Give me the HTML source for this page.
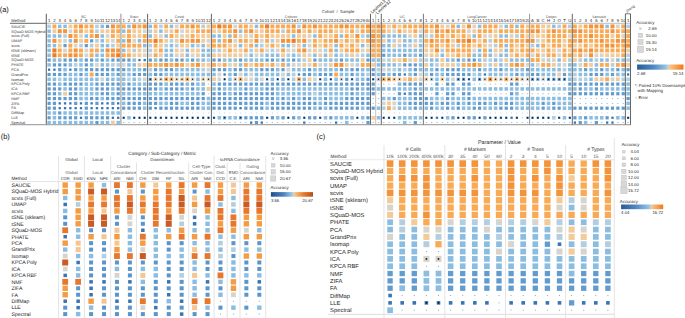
<!DOCTYPE html>
<html><head><meta charset="utf-8"><style>
html,body{margin:0;padding:0;background:#fff;width:685px;height:318px;overflow:hidden}
svg{display:block}
text{font-family:"Liberation Sans", sans-serif;text-rendering:geometricPrecision}
</style></head><body>
<svg width="685" height="318" viewBox="0 0 685 318" font-family='"Liberation Sans", sans-serif'>
<rect width="685" height="318" fill="#fff"/>
<text x="-0.3" y="12.2" font-size="7.5" fill="#111" text-anchor="start" >(a)</text>
<line x1="46.3" y1="23.3" x2="631" y2="23.3" stroke="#b4b4b4" stroke-width="0.9"/>
<line x1="10" y1="23.3" x2="46.3" y2="23.3" stroke="#555" stroke-width="0.9"/>
<line x1="10" y1="124.6" x2="631" y2="124.6" stroke="#a8a8a8" stroke-width="1.4"/>
<text x="11.3" y="22.4" font-size="4.2" fill="#333" text-anchor="start" >Method</text>
<text x="11.3" y="27.7" font-size="3.75" fill="#333" text-anchor="start" >SAUCIE</text>
<text x="11.3" y="32.51" font-size="3.75" fill="#333" text-anchor="start" >SQuaD-MOS Hybrid</text>
<text x="11.3" y="37.32" font-size="3.75" fill="#333" text-anchor="start" >scvis (Full)</text>
<text x="11.3" y="42.13" font-size="3.75" fill="#333" text-anchor="start" >UMAP</text>
<text x="11.3" y="46.94" font-size="3.75" fill="#333" text-anchor="start" >scvis</text>
<text x="11.3" y="51.75" font-size="3.75" fill="#333" text-anchor="start" >tSNE (sklearn)</text>
<text x="11.3" y="56.56" font-size="3.75" fill="#333" text-anchor="start" >tSNE</text>
<text x="11.3" y="61.37" font-size="3.75" fill="#333" text-anchor="start" >SQuaD-MOS</text>
<text x="11.3" y="66.18" font-size="3.75" fill="#333" text-anchor="start" >PHATE</text>
<text x="11.3" y="70.99" font-size="3.75" fill="#333" text-anchor="start" >PCA</text>
<text x="11.3" y="75.8" font-size="3.75" fill="#333" text-anchor="start" >GrandPrix</text>
<text x="11.3" y="80.61" font-size="3.75" fill="#333" text-anchor="start" >Isomap</text>
<text x="11.3" y="85.42" font-size="3.75" fill="#333" text-anchor="start" >KPCA Poly</text>
<text x="11.3" y="90.23" font-size="3.75" fill="#333" text-anchor="start" >ICA</text>
<text x="11.3" y="95.04" font-size="3.75" fill="#333" text-anchor="start" >KPCA RBF</text>
<text x="11.3" y="99.85" font-size="3.75" fill="#333" text-anchor="start" >NMF</text>
<text x="11.3" y="104.66" font-size="3.75" fill="#333" text-anchor="start" >ZIFA</text>
<text x="11.3" y="109.47" font-size="3.75" fill="#333" text-anchor="start" >FA</text>
<text x="11.3" y="114.28" font-size="3.75" fill="#333" text-anchor="start" >DiffMap</text>
<text x="11.3" y="119.09" font-size="3.75" fill="#333" text-anchor="start" >LLE</text>
<text x="11.3" y="123.9" font-size="3.75" fill="#333" text-anchor="start" >Spectral</text>
<text x="49.1" y="22.2" font-size="4.3" fill="#222" text-anchor="middle" >1</text>
<rect x="47.3" y="24.6" width="3.6" height="3.6" fill="#b3cfdf"/>
<rect x="47.35" y="29.46" width="3.5" height="3.5" fill="#8bbde0"/>
<rect x="47.35" y="34.27" width="3.5" height="3.5" fill="#8bbde0"/>
<rect x="47.35" y="39.08" width="3.5" height="3.5" fill="#8bbde0"/>
<rect x="47.35" y="43.89" width="3.5" height="3.5" fill="#8bbde0"/>
<rect x="47.35" y="48.7" width="3.5" height="3.5" fill="#8bbde0"/>
<rect x="47.35" y="53.51" width="3.5" height="3.5" fill="#8bbde0"/>
<rect x="47.5" y="58.47" width="3.2" height="3.2" fill="#629bce"/>
<rect x="47.35" y="63.13" width="3.5" height="3.5" fill="#8bbde0"/>
<rect x="47.95" y="68.54" width="2.3" height="2.3" fill="#3a74b2"/>
<rect x="47.5" y="72.9" width="3.2" height="3.2" fill="#629bce"/>
<rect x="47.35" y="77.56" width="3.5" height="3.5" fill="#8bbde0"/>
<rect x="47.5" y="82.52" width="3.2" height="3.2" fill="#629bce"/>
<rect x="47.5" y="87.33" width="3.2" height="3.2" fill="#629bce"/>
<rect x="47.5" y="92.14" width="3.2" height="3.2" fill="#629bce"/>
<rect x="47.5" y="96.95" width="3.2" height="3.2" fill="#629bce"/>
<rect x="47.5" y="101.76" width="3.2" height="3.2" fill="#629bce"/>
<rect x="47.5" y="106.57" width="3.2" height="3.2" fill="#629bce"/>
<rect x="47.35" y="111.23" width="3.5" height="3.5" fill="#8bbde0"/>
<rect x="47.5" y="116.19" width="3.2" height="3.2" fill="#629bce"/>
<rect x="47.35" y="120.85" width="3.5" height="3.5" fill="#8bbde0"/>
<text x="54.41" y="22.2" font-size="4.3" fill="#222" text-anchor="middle" >2</text>
<rect x="52.46" y="24.45" width="3.9" height="3.9" fill="#f8aa55"/>
<rect x="52.52" y="29.31" width="3.8" height="3.8" fill="#f2cb99"/>
<rect x="52.66" y="34.27" width="3.5" height="3.5" fill="#8bbde0"/>
<rect x="52.41" y="38.83" width="4" height="4" fill="#f3933a"/>
<rect x="52.66" y="43.89" width="3.5" height="3.5" fill="#8bbde0"/>
<rect x="52.37" y="48.4" width="4.1" height="4.1" fill="#ec7d26"/>
<rect x="52.37" y="53.21" width="4.1" height="4.1" fill="#ec7d26"/>
<rect x="52.66" y="58.32" width="3.5" height="3.5" fill="#8bbde0"/>
<rect x="52.81" y="63.28" width="3.2" height="3.2" fill="#629bce"/>
<rect x="53.27" y="68.54" width="2.3" height="2.3" fill="#3a74b2"/>
<rect x="52.81" y="72.9" width="3.2" height="3.2" fill="#629bce"/>
<rect x="52.66" y="77.56" width="3.5" height="3.5" fill="#8bbde0"/>
<rect x="52.81" y="82.52" width="3.2" height="3.2" fill="#629bce"/>
<rect x="52.81" y="87.33" width="3.2" height="3.2" fill="#629bce"/>
<rect x="52.81" y="92.14" width="3.2" height="3.2" fill="#629bce"/>
<rect x="52.81" y="96.95" width="3.2" height="3.2" fill="#629bce"/>
<rect x="52.81" y="101.76" width="3.2" height="3.2" fill="#629bce"/>
<rect x="52.81" y="106.57" width="3.2" height="3.2" fill="#629bce"/>
<rect x="52.66" y="111.23" width="3.5" height="3.5" fill="#8bbde0"/>
<rect x="52.66" y="116.04" width="3.5" height="3.5" fill="#8bbde0"/>
<rect x="52.66" y="120.85" width="3.5" height="3.5" fill="#8bbde0"/>
<text x="59.73" y="22.2" font-size="4.3" fill="#222" text-anchor="middle" >3</text>
<rect x="57.98" y="24.65" width="3.5" height="3.5" fill="#8bbde0"/>
<rect x="57.73" y="29.21" width="4" height="4" fill="#f3933a"/>
<rect x="57.98" y="34.27" width="3.5" height="3.5" fill="#8bbde0"/>
<rect x="57.83" y="38.93" width="3.8" height="3.8" fill="#f2cb99"/>
<rect x="57.83" y="43.74" width="3.8" height="3.8" fill="#f2cb99"/>
<rect x="57.78" y="48.5" width="3.9" height="3.9" fill="#f8aa55"/>
<rect x="57.78" y="53.31" width="3.9" height="3.9" fill="#f8aa55"/>
<rect x="57.98" y="58.32" width="3.5" height="3.5" fill="#8bbde0"/>
<rect x="58.13" y="63.28" width="3.2" height="3.2" fill="#629bce"/>
<rect x="58.13" y="68.09" width="3.2" height="3.2" fill="#629bce"/>
<rect x="58.13" y="72.9" width="3.2" height="3.2" fill="#629bce"/>
<rect x="57.93" y="77.51" width="3.6" height="3.6" fill="#b3cfdf"/>
<rect x="57.98" y="82.37" width="3.5" height="3.5" fill="#8bbde0"/>
<rect x="58.13" y="87.33" width="3.2" height="3.2" fill="#629bce"/>
<rect x="57.98" y="91.99" width="3.5" height="3.5" fill="#8bbde0"/>
<rect x="58.13" y="96.95" width="3.2" height="3.2" fill="#629bce"/>
<rect x="58.58" y="102.21" width="2.3" height="2.3" fill="#3a74b2"/>
<rect x="58.58" y="107.02" width="2.3" height="2.3" fill="#3a74b2"/>
<rect x="58.13" y="111.38" width="3.2" height="3.2" fill="#629bce"/>
<rect x="58.13" y="116.19" width="3.2" height="3.2" fill="#629bce"/>
<rect x="57.98" y="120.85" width="3.5" height="3.5" fill="#8bbde0"/>
<text x="65.05" y="22.2" font-size="4.3" fill="#222" text-anchor="middle" >4</text>
<rect x="63.3" y="24.65" width="3.5" height="3.5" fill="#8bbde0"/>
<rect x="63.05" y="29.21" width="4" height="4" fill="#f3933a"/>
<rect x="63.25" y="34.22" width="3.6" height="3.6" fill="#b3cfdf"/>
<rect x="63.2" y="38.98" width="3.7" height="3.7" fill="#d6d4cc"/>
<rect x="63.45" y="44.04" width="3.2" height="3.2" fill="#629bce"/>
<rect x="63.2" y="48.6" width="3.7" height="3.7" fill="#d6d4cc"/>
<rect x="63.09" y="53.31" width="3.9" height="3.9" fill="#f8aa55"/>
<rect x="63.45" y="58.47" width="3.2" height="3.2" fill="#629bce"/>
<rect x="63.45" y="63.28" width="3.2" height="3.2" fill="#629bce"/>
<rect x="63.3" y="67.94" width="3.5" height="3.5" fill="#8bbde0"/>
<rect x="63.45" y="72.9" width="3.2" height="3.2" fill="#629bce"/>
<rect x="63.3" y="77.56" width="3.5" height="3.5" fill="#8bbde0"/>
<rect x="63.45" y="82.52" width="3.2" height="3.2" fill="#629bce"/>
<rect x="63.3" y="87.18" width="3.5" height="3.5" fill="#8bbde0"/>
<rect x="63.15" y="91.84" width="3.8" height="3.8" fill="#f2cb99"/>
<rect x="63.45" y="96.95" width="3.2" height="3.2" fill="#629bce"/>
<rect x="63.9" y="102.21" width="2.3" height="2.3" fill="#3a74b2"/>
<rect x="63.9" y="107.02" width="2.3" height="2.3" fill="#3a74b2"/>
<rect x="63.3" y="111.23" width="3.5" height="3.5" fill="#8bbde0"/>
<rect x="63.45" y="116.19" width="3.2" height="3.2" fill="#629bce"/>
<rect x="63.3" y="120.85" width="3.5" height="3.5" fill="#8bbde0"/>
<text x="70.36" y="22.2" font-size="4.3" fill="#222" text-anchor="middle" >5</text>
<rect x="68.46" y="24.5" width="3.8" height="3.8" fill="#f2cb99"/>
<rect x="68.51" y="29.36" width="3.7" height="3.7" fill="#d6d4cc"/>
<rect x="68.36" y="34.02" width="4" height="4" fill="#f3933a"/>
<rect x="68.61" y="39.08" width="3.5" height="3.5" fill="#8bbde0"/>
<rect x="68.41" y="43.69" width="3.9" height="3.9" fill="#f8aa55"/>
<rect x="68.41" y="48.5" width="3.9" height="3.9" fill="#f8aa55"/>
<rect x="68.36" y="53.26" width="4" height="4" fill="#f3933a"/>
<rect x="68.76" y="58.47" width="3.2" height="3.2" fill="#629bce"/>
<rect x="68.61" y="63.13" width="3.5" height="3.5" fill="#8bbde0"/>
<rect x="69.21" y="68.54" width="2.3" height="2.3" fill="#3a74b2"/>
<rect x="68.61" y="72.75" width="3.5" height="3.5" fill="#8bbde0"/>
<rect x="68.61" y="77.56" width="3.5" height="3.5" fill="#8bbde0"/>
<rect x="68.76" y="82.52" width="3.2" height="3.2" fill="#629bce"/>
<rect x="68.76" y="87.33" width="3.2" height="3.2" fill="#629bce"/>
<rect x="68.76" y="92.14" width="3.2" height="3.2" fill="#629bce"/>
<rect x="68.76" y="96.95" width="3.2" height="3.2" fill="#629bce"/>
<rect x="69.21" y="102.21" width="2.3" height="2.3" fill="#3a74b2"/>
<rect x="69.21" y="107.02" width="2.3" height="2.3" fill="#3a74b2"/>
<rect x="68.61" y="111.23" width="3.5" height="3.5" fill="#8bbde0"/>
<rect x="68.76" y="116.19" width="3.2" height="3.2" fill="#629bce"/>
<rect x="68.61" y="120.85" width="3.5" height="3.5" fill="#8bbde0"/>
<text x="75.68" y="22.2" font-size="4.3" fill="#222" text-anchor="middle" >6</text>
<rect x="73.73" y="24.45" width="3.9" height="3.9" fill="#f8aa55"/>
<rect x="73.73" y="29.26" width="3.9" height="3.9" fill="#f8aa55"/>
<rect x="73.73" y="34.07" width="3.9" height="3.9" fill="#f8aa55"/>
<rect x="73.68" y="38.83" width="4" height="4" fill="#f3933a"/>
<rect x="73.83" y="43.79" width="3.7" height="3.7" fill="#d6d4cc"/>
<rect x="73.68" y="48.45" width="4" height="4" fill="#f3933a"/>
<rect x="73.68" y="53.26" width="4" height="4" fill="#f3933a"/>
<rect x="74.08" y="58.47" width="3.2" height="3.2" fill="#629bce"/>
<rect x="73.88" y="63.08" width="3.6" height="3.6" fill="#b3cfdf"/>
<rect x="74.08" y="68.09" width="3.2" height="3.2" fill="#629bce"/>
<rect x="73.93" y="72.75" width="3.5" height="3.5" fill="#8bbde0"/>
<rect x="73.93" y="77.56" width="3.5" height="3.5" fill="#8bbde0"/>
<rect x="74.08" y="82.52" width="3.2" height="3.2" fill="#629bce"/>
<rect x="74.08" y="87.33" width="3.2" height="3.2" fill="#629bce"/>
<rect x="74.08" y="92.14" width="3.2" height="3.2" fill="#629bce"/>
<rect x="74.08" y="96.95" width="3.2" height="3.2" fill="#629bce"/>
<rect x="74.08" y="101.76" width="3.2" height="3.2" fill="#629bce"/>
<rect x="74.53" y="107.02" width="2.3" height="2.3" fill="#3a74b2"/>
<rect x="73.93" y="111.23" width="3.5" height="3.5" fill="#8bbde0"/>
<rect x="74.08" y="116.19" width="3.2" height="3.2" fill="#629bce"/>
<rect x="73.93" y="120.85" width="3.5" height="3.5" fill="#8bbde0"/>
<text x="80.99" y="22.2" font-size="4.3" fill="#222" text-anchor="middle" >7</text>
<rect x="78.99" y="24.4" width="4" height="4" fill="#f3933a"/>
<rect x="79.04" y="29.26" width="3.9" height="3.9" fill="#f8aa55"/>
<rect x="79.14" y="34.17" width="3.7" height="3.7" fill="#d6d4cc"/>
<rect x="79.09" y="38.93" width="3.8" height="3.8" fill="#f2cb99"/>
<rect x="79.19" y="43.84" width="3.6" height="3.6" fill="#b3cfdf"/>
<rect x="79.04" y="48.5" width="3.9" height="3.9" fill="#f8aa55"/>
<rect x="79.04" y="53.31" width="3.9" height="3.9" fill="#f8aa55"/>
<rect x="79.24" y="58.32" width="3.5" height="3.5" fill="#8bbde0"/>
<rect x="79.24" y="63.13" width="3.5" height="3.5" fill="#8bbde0"/>
<rect x="79.24" y="67.94" width="3.5" height="3.5" fill="#8bbde0"/>
<rect x="79.39" y="72.9" width="3.2" height="3.2" fill="#629bce"/>
<rect x="79.24" y="77.56" width="3.5" height="3.5" fill="#8bbde0"/>
<rect x="79.39" y="82.52" width="3.2" height="3.2" fill="#629bce"/>
<rect x="79.24" y="87.18" width="3.5" height="3.5" fill="#8bbde0"/>
<rect x="79.24" y="91.99" width="3.5" height="3.5" fill="#8bbde0"/>
<rect x="79.24" y="96.8" width="3.5" height="3.5" fill="#8bbde0"/>
<rect x="79.84" y="102.21" width="2.3" height="2.3" fill="#3a74b2"/>
<rect x="79.84" y="107.02" width="2.3" height="2.3" fill="#3a74b2"/>
<rect x="79.24" y="111.23" width="3.5" height="3.5" fill="#8bbde0"/>
<rect x="79.84" y="116.64" width="2.3" height="2.3" fill="#3a74b2"/>
<rect x="79.24" y="120.85" width="3.5" height="3.5" fill="#8bbde0"/>
<text x="86.31" y="22.2" font-size="4.3" fill="#222" text-anchor="middle" >8</text>
<rect x="84.36" y="24.45" width="3.9" height="3.9" fill="#f8aa55"/>
<rect x="84.41" y="29.31" width="3.8" height="3.8" fill="#f2cb99"/>
<rect x="84.56" y="34.27" width="3.5" height="3.5" fill="#8bbde0"/>
<rect x="84.36" y="38.88" width="3.9" height="3.9" fill="#f8aa55"/>
<rect x="84.71" y="44.04" width="3.2" height="3.2" fill="#629bce"/>
<rect x="84.46" y="48.6" width="3.7" height="3.7" fill="#d6d4cc"/>
<rect x="84.46" y="53.41" width="3.7" height="3.7" fill="#d6d4cc"/>
<rect x="84.71" y="58.47" width="3.2" height="3.2" fill="#629bce"/>
<rect x="84.71" y="63.28" width="3.2" height="3.2" fill="#629bce"/>
<rect x="84.71" y="68.09" width="3.2" height="3.2" fill="#629bce"/>
<rect x="84.56" y="72.75" width="3.5" height="3.5" fill="#8bbde0"/>
<rect x="84.56" y="77.56" width="3.5" height="3.5" fill="#8bbde0"/>
<rect x="84.56" y="82.37" width="3.5" height="3.5" fill="#8bbde0"/>
<rect x="84.56" y="87.18" width="3.5" height="3.5" fill="#8bbde0"/>
<rect x="84.56" y="91.99" width="3.5" height="3.5" fill="#8bbde0"/>
<rect x="84.56" y="96.8" width="3.5" height="3.5" fill="#8bbde0"/>
<rect x="84.71" y="101.76" width="3.2" height="3.2" fill="#629bce"/>
<rect x="84.71" y="106.57" width="3.2" height="3.2" fill="#629bce"/>
<rect x="84.56" y="111.23" width="3.5" height="3.5" fill="#8bbde0"/>
<rect x="84.71" y="116.19" width="3.2" height="3.2" fill="#629bce"/>
<rect x="84.56" y="120.85" width="3.5" height="3.5" fill="#8bbde0"/>
<text x="91.62" y="22.2" font-size="4.3" fill="#222" text-anchor="middle" >9</text>
<rect x="89.67" y="24.45" width="3.9" height="3.9" fill="#f8aa55"/>
<rect x="89.67" y="29.26" width="3.9" height="3.9" fill="#f8aa55"/>
<rect x="89.67" y="34.07" width="3.9" height="3.9" fill="#f8aa55"/>
<rect x="90.02" y="39.23" width="3.2" height="3.2" fill="#629bce"/>
<rect x="89.82" y="43.84" width="3.6" height="3.6" fill="#b3cfdf"/>
<rect x="89.67" y="48.5" width="3.9" height="3.9" fill="#f8aa55"/>
<rect x="89.67" y="53.31" width="3.9" height="3.9" fill="#f8aa55"/>
<rect x="90.02" y="58.47" width="3.2" height="3.2" fill="#629bce"/>
<rect x="89.87" y="63.13" width="3.5" height="3.5" fill="#8bbde0"/>
<rect x="90.02" y="68.09" width="3.2" height="3.2" fill="#629bce"/>
<rect x="89.67" y="72.55" width="3.9" height="3.9" fill="#f8aa55"/>
<rect x="89.87" y="77.56" width="3.5" height="3.5" fill="#8bbde0"/>
<rect x="89.87" y="82.37" width="3.5" height="3.5" fill="#8bbde0"/>
<rect x="89.87" y="87.18" width="3.5" height="3.5" fill="#8bbde0"/>
<rect x="89.87" y="91.99" width="3.5" height="3.5" fill="#8bbde0"/>
<rect x="90.02" y="96.95" width="3.2" height="3.2" fill="#629bce"/>
<rect x="90.47" y="102.21" width="2.3" height="2.3" fill="#3a74b2"/>
<rect x="90.47" y="107.02" width="2.3" height="2.3" fill="#3a74b2"/>
<rect x="89.87" y="111.23" width="3.5" height="3.5" fill="#8bbde0"/>
<rect x="90.02" y="116.19" width="3.2" height="3.2" fill="#629bce"/>
<rect x="89.87" y="120.85" width="3.5" height="3.5" fill="#8bbde0"/>
<text x="96.94" y="22.2" font-size="4.3" fill="#222" text-anchor="middle" >10</text>
<rect x="95.14" y="24.6" width="3.6" height="3.6" fill="#b3cfdf"/>
<rect x="95.14" y="29.41" width="3.6" height="3.6" fill="#b3cfdf"/>
<rect x="94.94" y="34.02" width="4" height="4" fill="#f3933a"/>
<rect x="95.14" y="39.03" width="3.6" height="3.6" fill="#b3cfdf"/>
<rect x="95.03" y="43.74" width="3.8" height="3.8" fill="#f2cb99"/>
<rect x="94.98" y="48.5" width="3.9" height="3.9" fill="#f8aa55"/>
<rect x="95.19" y="53.51" width="3.5" height="3.5" fill="#8bbde0"/>
<rect x="95.19" y="58.32" width="3.5" height="3.5" fill="#8bbde0"/>
<rect x="95.09" y="63.03" width="3.7" height="3.7" fill="#d6d4cc"/>
<rect x="95.34" y="68.09" width="3.2" height="3.2" fill="#629bce"/>
<rect x="95.34" y="72.9" width="3.2" height="3.2" fill="#629bce"/>
<rect x="95.19" y="77.56" width="3.5" height="3.5" fill="#8bbde0"/>
<rect x="95.34" y="82.52" width="3.2" height="3.2" fill="#629bce"/>
<rect x="95.34" y="87.33" width="3.2" height="3.2" fill="#629bce"/>
<rect x="95.19" y="91.99" width="3.5" height="3.5" fill="#8bbde0"/>
<rect x="95.34" y="96.95" width="3.2" height="3.2" fill="#629bce"/>
<rect x="95.34" y="101.76" width="3.2" height="3.2" fill="#629bce"/>
<rect x="95.78" y="107.02" width="2.3" height="2.3" fill="#3a74b2"/>
<rect x="95.19" y="111.23" width="3.5" height="3.5" fill="#8bbde0"/>
<rect x="95.34" y="116.19" width="3.2" height="3.2" fill="#629bce"/>
<rect x="95.34" y="121" width="3.2" height="3.2" fill="#629bce"/>
<text x="102.25" y="22.2" font-size="4.3" fill="#222" text-anchor="middle" >11</text>
<rect x="100.5" y="24.65" width="3.5" height="3.5" fill="#8bbde0"/>
<rect x="100.35" y="29.31" width="3.8" height="3.8" fill="#f2cb99"/>
<rect x="100.5" y="34.27" width="3.5" height="3.5" fill="#8bbde0"/>
<rect x="100.5" y="39.08" width="3.5" height="3.5" fill="#8bbde0"/>
<rect x="100.5" y="43.89" width="3.5" height="3.5" fill="#8bbde0"/>
<rect x="100.5" y="48.7" width="3.5" height="3.5" fill="#8bbde0"/>
<rect x="100.5" y="53.51" width="3.5" height="3.5" fill="#8bbde0"/>
<rect x="100.65" y="58.47" width="3.2" height="3.2" fill="#629bce"/>
<rect x="100.5" y="63.13" width="3.5" height="3.5" fill="#8bbde0"/>
<rect x="100.65" y="68.09" width="3.2" height="3.2" fill="#629bce"/>
<rect x="100.65" y="72.9" width="3.2" height="3.2" fill="#629bce"/>
<rect x="100.4" y="77.46" width="3.7" height="3.7" fill="#d6d4cc"/>
<rect x="100.65" y="82.52" width="3.2" height="3.2" fill="#629bce"/>
<rect x="100.65" y="87.33" width="3.2" height="3.2" fill="#629bce"/>
<rect x="100.65" y="92.14" width="3.2" height="3.2" fill="#629bce"/>
<rect x="100.5" y="96.8" width="3.5" height="3.5" fill="#8bbde0"/>
<rect x="101.1" y="102.21" width="2.3" height="2.3" fill="#3a74b2"/>
<rect x="101.1" y="107.02" width="2.3" height="2.3" fill="#3a74b2"/>
<rect x="100.5" y="111.23" width="3.5" height="3.5" fill="#8bbde0"/>
<rect x="100.65" y="116.19" width="3.2" height="3.2" fill="#629bce"/>
<rect x="100.5" y="120.85" width="3.5" height="3.5" fill="#8bbde0"/>
<text x="107.56" y="22.2" font-size="4.3" fill="#222" text-anchor="middle" >12</text>
<rect x="105.97" y="24.8" width="3.2" height="3.2" fill="#629bce"/>
<rect x="105.66" y="29.31" width="3.8" height="3.8" fill="#f2cb99"/>
<rect x="105.72" y="34.17" width="3.7" height="3.7" fill="#d6d4cc"/>
<rect x="105.66" y="38.93" width="3.8" height="3.8" fill="#f2cb99"/>
<rect x="105.81" y="43.89" width="3.5" height="3.5" fill="#8bbde0"/>
<rect x="105.56" y="48.45" width="4" height="4" fill="#f3933a"/>
<rect x="105.61" y="53.31" width="3.9" height="3.9" fill="#f8aa55"/>
<rect x="105.81" y="58.32" width="3.5" height="3.5" fill="#8bbde0"/>
<rect x="105.81" y="63.13" width="3.5" height="3.5" fill="#8bbde0"/>
<rect x="105.97" y="68.09" width="3.2" height="3.2" fill="#629bce"/>
<rect x="105.97" y="72.9" width="3.2" height="3.2" fill="#629bce"/>
<rect x="105.81" y="77.56" width="3.5" height="3.5" fill="#8bbde0"/>
<rect x="105.97" y="82.52" width="3.2" height="3.2" fill="#629bce"/>
<rect x="105.97" y="87.33" width="3.2" height="3.2" fill="#629bce"/>
<rect x="105.97" y="92.14" width="3.2" height="3.2" fill="#629bce"/>
<rect x="105.97" y="96.95" width="3.2" height="3.2" fill="#629bce"/>
<rect x="106.41" y="102.21" width="2.3" height="2.3" fill="#3a74b2"/>
<rect x="106.41" y="107.02" width="2.3" height="2.3" fill="#3a74b2"/>
<rect x="105.81" y="111.23" width="3.5" height="3.5" fill="#8bbde0"/>
<rect x="105.97" y="116.19" width="3.2" height="3.2" fill="#629bce"/>
<rect x="105.81" y="120.85" width="3.5" height="3.5" fill="#8bbde0"/>
<text x="112.88" y="22.2" font-size="4.3" fill="#222" text-anchor="middle" >13</text>
<rect x="110.88" y="24.4" width="4" height="4" fill="#f3933a"/>
<rect x="110.93" y="29.26" width="3.9" height="3.9" fill="#f8aa55"/>
<rect x="110.93" y="34.07" width="3.9" height="3.9" fill="#f8aa55"/>
<rect x="111.03" y="38.98" width="3.7" height="3.7" fill="#d6d4cc"/>
<rect x="111.08" y="43.84" width="3.6" height="3.6" fill="#b3cfdf"/>
<rect x="110.88" y="48.45" width="4" height="4" fill="#f3933a"/>
<rect x="110.88" y="53.26" width="4" height="4" fill="#f3933a"/>
<rect x="111.28" y="58.47" width="3.2" height="3.2" fill="#629bce"/>
<rect x="111.08" y="63.08" width="3.6" height="3.6" fill="#b3cfdf"/>
<rect x="111.28" y="68.09" width="3.2" height="3.2" fill="#629bce"/>
<rect x="111.13" y="72.75" width="3.5" height="3.5" fill="#8bbde0"/>
<rect x="111.13" y="77.56" width="3.5" height="3.5" fill="#8bbde0"/>
<rect x="111.28" y="82.52" width="3.2" height="3.2" fill="#629bce"/>
<rect x="111.13" y="87.18" width="3.5" height="3.5" fill="#8bbde0"/>
<rect x="111.13" y="91.99" width="3.5" height="3.5" fill="#8bbde0"/>
<rect x="111.28" y="96.95" width="3.2" height="3.2" fill="#629bce"/>
<rect x="111.28" y="101.76" width="3.2" height="3.2" fill="#629bce"/>
<rect x="111.73" y="107.02" width="2.3" height="2.3" fill="#3a74b2"/>
<rect x="111.13" y="111.23" width="3.5" height="3.5" fill="#8bbde0"/>
<rect x="111.73" y="116.64" width="2.3" height="2.3" fill="#3a74b2"/>
<rect x="110.98" y="120.7" width="3.8" height="3.8" fill="#f2cb99"/>
<text x="118.19" y="22.2" font-size="4.3" fill="#222" text-anchor="middle" >14</text>
<rect x="116.24" y="24.45" width="3.9" height="3.9" fill="#f8aa55"/>
<rect x="116.24" y="29.26" width="3.9" height="3.9" fill="#f8aa55"/>
<rect x="116.29" y="34.12" width="3.8" height="3.8" fill="#f2cb99"/>
<rect x="116.24" y="38.88" width="3.9" height="3.9" fill="#f8aa55"/>
<rect x="116.29" y="43.74" width="3.8" height="3.8" fill="#f2cb99"/>
<rect x="116.19" y="48.45" width="4" height="4" fill="#f3933a"/>
<rect x="116.14" y="53.21" width="4.1" height="4.1" fill="#ec7d26"/>
<rect x="116.59" y="58.47" width="3.2" height="3.2" fill="#629bce"/>
<rect x="116.39" y="63.08" width="3.6" height="3.6" fill="#b3cfdf"/>
<rect x="116.59" y="68.09" width="3.2" height="3.2" fill="#629bce"/>
<rect x="116.59" y="72.9" width="3.2" height="3.2" fill="#629bce"/>
<rect x="116.44" y="77.56" width="3.5" height="3.5" fill="#8bbde0"/>
<rect x="116.59" y="82.52" width="3.2" height="3.2" fill="#629bce"/>
<rect x="116.59" y="87.33" width="3.2" height="3.2" fill="#629bce"/>
<rect x="116.59" y="92.14" width="3.2" height="3.2" fill="#629bce"/>
<rect x="116.59" y="96.95" width="3.2" height="3.2" fill="#629bce"/>
<rect x="117.04" y="102.21" width="2.3" height="2.3" fill="#3a74b2"/>
<rect x="117.04" y="107.02" width="2.3" height="2.3" fill="#3a74b2"/>
<rect x="116.44" y="111.23" width="3.5" height="3.5" fill="#8bbde0"/>
<rect x="117.04" y="116.64" width="2.3" height="2.3" fill="#3a74b2"/>
<rect x="116.44" y="120.85" width="3.5" height="3.5" fill="#8bbde0"/>
<text x="83.65" y="17.6" font-size="3.6" fill="#555" text-anchor="middle" >BC</text>
<text x="123.7" y="22.2" font-size="4.3" fill="#222" text-anchor="middle" >1</text>
<rect x="121.75" y="24.45" width="3.9" height="3.9" fill="#f8aa55"/>
<rect x="121.95" y="29.46" width="3.5" height="3.5" fill="#8bbde0"/>
<rect x="121.8" y="34.12" width="3.8" height="3.8" fill="#f2cb99"/>
<rect x="121.95" y="39.08" width="3.5" height="3.5" fill="#8bbde0"/>
<rect x="121.75" y="43.69" width="3.9" height="3.9" fill="#f8aa55"/>
<rect x="121.95" y="48.7" width="3.5" height="3.5" fill="#8bbde0"/>
<rect x="121.75" y="53.31" width="3.9" height="3.9" fill="#f8aa55"/>
<rect x="122.1" y="58.47" width="3.2" height="3.2" fill="#629bce"/>
<rect x="121.85" y="63.03" width="3.7" height="3.7" fill="#d6d4cc"/>
<rect x="122.1" y="68.09" width="3.2" height="3.2" fill="#629bce"/>
<rect x="121.95" y="72.75" width="3.5" height="3.5" fill="#8bbde0"/>
<rect x="121.95" y="77.56" width="3.5" height="3.5" fill="#8bbde0"/>
<rect x="121.95" y="82.37" width="3.5" height="3.5" fill="#8bbde0"/>
<rect x="122.1" y="87.33" width="3.2" height="3.2" fill="#629bce"/>
<rect x="121.95" y="91.99" width="3.5" height="3.5" fill="#8bbde0"/>
<rect x="122.1" y="96.95" width="3.2" height="3.2" fill="#629bce"/>
<rect x="121.95" y="101.61" width="3.5" height="3.5" fill="#8bbde0"/>
<rect x="122.1" y="106.57" width="3.2" height="3.2" fill="#629bce"/>
<rect x="123.35" y="112.18" width="0.7" height="1.6" fill="#cfd8e2"/>
<rect x="122.55" y="116.64" width="2.3" height="2.3" fill="#3a74b2"/>
<circle cx="123.7" cy="117.79" r="0.7" fill="#111"/>
<rect x="123.05" y="122.15" width="1.3" height="0.9" fill="#9fb3c8"/>
<text x="128.95" y="22.2" font-size="4.3" fill="#222" text-anchor="middle" >2</text>
<rect x="127.2" y="24.65" width="3.5" height="3.5" fill="#8bbde0"/>
<rect x="127" y="29.26" width="3.9" height="3.9" fill="#f8aa55"/>
<rect x="127" y="34.07" width="3.9" height="3.9" fill="#f8aa55"/>
<rect x="126.95" y="38.83" width="4" height="4" fill="#f3933a"/>
<rect x="127" y="43.69" width="3.9" height="3.9" fill="#f8aa55"/>
<rect x="127.05" y="48.55" width="3.8" height="3.8" fill="#f2cb99"/>
<rect x="127" y="53.31" width="3.9" height="3.9" fill="#f8aa55"/>
<rect x="127.35" y="58.47" width="3.2" height="3.2" fill="#629bce"/>
<rect x="127.2" y="63.13" width="3.5" height="3.5" fill="#8bbde0"/>
<rect x="127.2" y="67.94" width="3.5" height="3.5" fill="#8bbde0"/>
<rect x="127.2" y="72.75" width="3.5" height="3.5" fill="#8bbde0"/>
<rect x="127.15" y="77.51" width="3.6" height="3.6" fill="#b3cfdf"/>
<rect x="127.35" y="82.52" width="3.2" height="3.2" fill="#629bce"/>
<rect x="127.35" y="87.33" width="3.2" height="3.2" fill="#629bce"/>
<rect x="127.2" y="91.99" width="3.5" height="3.5" fill="#8bbde0"/>
<rect x="127.35" y="96.95" width="3.2" height="3.2" fill="#629bce"/>
<rect x="127.35" y="101.76" width="3.2" height="3.2" fill="#629bce"/>
<rect x="127.35" y="106.57" width="3.2" height="3.2" fill="#629bce"/>
<rect x="128.6" y="112.18" width="0.7" height="1.6" fill="#cfd8e2"/>
<rect x="127.2" y="116.04" width="3.5" height="3.5" fill="#8bbde0"/>
<rect x="128.3" y="122.15" width="1.3" height="0.9" fill="#9fb3c8"/>
<text x="134.2" y="22.2" font-size="4.3" fill="#222" text-anchor="middle" >3</text>
<rect x="132.2" y="24.4" width="4" height="4" fill="#f3933a"/>
<rect x="132.3" y="29.31" width="3.8" height="3.8" fill="#f2cb99"/>
<rect x="132.3" y="34.12" width="3.8" height="3.8" fill="#f2cb99"/>
<rect x="132.35" y="38.98" width="3.7" height="3.7" fill="#d6d4cc"/>
<rect x="132.25" y="43.69" width="3.9" height="3.9" fill="#f8aa55"/>
<rect x="132.4" y="48.65" width="3.6" height="3.6" fill="#b3cfdf"/>
<rect x="132.3" y="53.36" width="3.8" height="3.8" fill="#f2cb99"/>
<rect x="132.45" y="58.32" width="3.5" height="3.5" fill="#8bbde0"/>
<rect x="132.45" y="63.13" width="3.5" height="3.5" fill="#8bbde0"/>
<rect x="132.45" y="67.94" width="3.5" height="3.5" fill="#8bbde0"/>
<rect x="132.6" y="72.9" width="3.2" height="3.2" fill="#629bce"/>
<rect x="132.45" y="77.56" width="3.5" height="3.5" fill="#8bbde0"/>
<rect x="132.45" y="82.37" width="3.5" height="3.5" fill="#8bbde0"/>
<rect x="132.6" y="87.33" width="3.2" height="3.2" fill="#629bce"/>
<rect x="132.45" y="91.99" width="3.5" height="3.5" fill="#8bbde0"/>
<rect x="132.6" y="96.95" width="3.2" height="3.2" fill="#629bce"/>
<rect x="132.6" y="101.76" width="3.2" height="3.2" fill="#629bce"/>
<rect x="132.6" y="106.57" width="3.2" height="3.2" fill="#629bce"/>
<rect x="133.85" y="112.18" width="0.7" height="1.6" fill="#cfd8e2"/>
<rect x="133.05" y="116.64" width="2.3" height="2.3" fill="#3a74b2"/>
<circle cx="134.2" cy="117.79" r="0.7" fill="#111"/>
<rect x="133.55" y="122.15" width="1.3" height="0.9" fill="#9fb3c8"/>
<text x="139.45" y="22.2" font-size="4.3" fill="#222" text-anchor="middle" >4</text>
<rect x="137.5" y="24.45" width="3.9" height="3.9" fill="#f8aa55"/>
<rect x="137.55" y="29.31" width="3.8" height="3.8" fill="#f2cb99"/>
<rect x="137.55" y="34.12" width="3.8" height="3.8" fill="#f2cb99"/>
<rect x="137.7" y="39.08" width="3.5" height="3.5" fill="#8bbde0"/>
<rect x="137.5" y="43.69" width="3.9" height="3.9" fill="#f8aa55"/>
<rect x="137.55" y="48.55" width="3.8" height="3.8" fill="#f2cb99"/>
<rect x="137.55" y="53.36" width="3.8" height="3.8" fill="#f2cb99"/>
<rect x="138.3" y="58.92" width="2.3" height="2.3" fill="#3a74b2"/>
<rect x="137.55" y="62.98" width="3.8" height="3.8" fill="#f2cb99"/>
<rect x="137.7" y="67.94" width="3.5" height="3.5" fill="#8bbde0"/>
<rect x="137.85" y="72.9" width="3.2" height="3.2" fill="#629bce"/>
<rect x="137.65" y="77.51" width="3.6" height="3.6" fill="#b3cfdf"/>
<rect x="137.7" y="82.37" width="3.5" height="3.5" fill="#8bbde0"/>
<rect x="137.85" y="87.33" width="3.2" height="3.2" fill="#629bce"/>
<rect x="137.7" y="91.99" width="3.5" height="3.5" fill="#8bbde0"/>
<rect x="137.85" y="96.95" width="3.2" height="3.2" fill="#629bce"/>
<rect x="137.85" y="101.76" width="3.2" height="3.2" fill="#629bce"/>
<rect x="137.85" y="106.57" width="3.2" height="3.2" fill="#629bce"/>
<rect x="139.1" y="112.18" width="0.7" height="1.6" fill="#cfd8e2"/>
<rect x="138.3" y="116.64" width="2.3" height="2.3" fill="#3a74b2"/>
<circle cx="139.45" cy="117.79" r="0.7" fill="#111"/>
<rect x="138.8" y="122.15" width="1.3" height="0.9" fill="#9fb3c8"/>
<text x="144.7" y="22.2" font-size="4.3" fill="#222" text-anchor="middle" >5</text>
<rect x="142.7" y="24.4" width="4" height="4" fill="#f3933a"/>
<rect x="142.85" y="29.36" width="3.7" height="3.7" fill="#d6d4cc"/>
<rect x="142.75" y="34.07" width="3.9" height="3.9" fill="#f8aa55"/>
<rect x="142.75" y="38.88" width="3.9" height="3.9" fill="#f8aa55"/>
<rect x="142.95" y="43.89" width="3.5" height="3.5" fill="#8bbde0"/>
<rect x="142.85" y="48.6" width="3.7" height="3.7" fill="#d6d4cc"/>
<rect x="142.85" y="53.41" width="3.7" height="3.7" fill="#d6d4cc"/>
<rect x="143.55" y="58.92" width="2.3" height="2.3" fill="#3a74b2"/>
<rect x="142.8" y="62.98" width="3.8" height="3.8" fill="#f2cb99"/>
<rect x="143.1" y="68.09" width="3.2" height="3.2" fill="#629bce"/>
<rect x="143.1" y="72.9" width="3.2" height="3.2" fill="#629bce"/>
<rect x="142.85" y="77.46" width="3.7" height="3.7" fill="#d6d4cc"/>
<rect x="142.95" y="82.37" width="3.5" height="3.5" fill="#8bbde0"/>
<rect x="143.1" y="87.33" width="3.2" height="3.2" fill="#629bce"/>
<rect x="142.95" y="91.99" width="3.5" height="3.5" fill="#8bbde0"/>
<rect x="143.1" y="96.95" width="3.2" height="3.2" fill="#629bce"/>
<rect x="142.95" y="101.61" width="3.5" height="3.5" fill="#8bbde0"/>
<rect x="142.95" y="106.42" width="3.5" height="3.5" fill="#8bbde0"/>
<rect x="144.35" y="112.18" width="0.7" height="1.6" fill="#cfd8e2"/>
<rect x="143.55" y="116.64" width="2.3" height="2.3" fill="#3a74b2"/>
<circle cx="144.7" cy="117.79" r="0.7" fill="#111"/>
<rect x="144.05" y="122.15" width="1.3" height="0.9" fill="#9fb3c8"/>
<text x="134.2" y="17.6" font-size="3.6" fill="#555" text-anchor="middle" >Brain</text>
<text x="150.3" y="22.2" font-size="4.3" fill="#222" text-anchor="middle" >1</text>
<rect x="148.55" y="24.65" width="3.5" height="3.5" fill="#8bbde0"/>
<rect x="148.5" y="29.41" width="3.6" height="3.6" fill="#b3cfdf"/>
<rect x="148.55" y="34.27" width="3.5" height="3.5" fill="#8bbde0"/>
<rect x="148.35" y="38.88" width="3.9" height="3.9" fill="#f8aa55"/>
<rect x="148.5" y="43.84" width="3.6" height="3.6" fill="#b3cfdf"/>
<rect x="148.5" y="48.65" width="3.6" height="3.6" fill="#b3cfdf"/>
<rect x="148.45" y="53.41" width="3.7" height="3.7" fill="#d6d4cc"/>
<rect x="148.7" y="58.47" width="3.2" height="3.2" fill="#629bce"/>
<rect x="148.35" y="62.93" width="3.9" height="3.9" fill="#f8aa55"/>
<rect x="148.5" y="67.89" width="3.6" height="3.6" fill="#b3cfdf"/>
<rect x="148.55" y="72.75" width="3.5" height="3.5" fill="#8bbde0"/>
<rect x="148.7" y="77.71" width="3.2" height="3.2" fill="#629bce"/>
<circle cx="150.3" cy="79.31" r="0.7" fill="#111"/>
<rect x="148.7" y="82.52" width="3.2" height="3.2" fill="#629bce"/>
<rect x="148.7" y="87.33" width="3.2" height="3.2" fill="#629bce"/>
<rect x="148.55" y="91.99" width="3.5" height="3.5" fill="#8bbde0"/>
<rect x="148.7" y="96.95" width="3.2" height="3.2" fill="#629bce"/>
<rect x="148.7" y="101.76" width="3.2" height="3.2" fill="#629bce"/>
<rect x="148.7" y="106.57" width="3.2" height="3.2" fill="#629bce"/>
<rect x="149.95" y="112.18" width="0.7" height="1.6" fill="#cfd8e2"/>
<rect x="149.15" y="116.64" width="2.3" height="2.3" fill="#3a74b2"/>
<circle cx="150.3" cy="117.79" r="0.7" fill="#111"/>
<rect x="149.65" y="122.15" width="1.3" height="0.9" fill="#9fb3c8"/>
<text x="155.59" y="22.2" font-size="4.3" fill="#222" text-anchor="middle" >2</text>
<rect x="153.64" y="24.45" width="3.9" height="3.9" fill="#f8aa55"/>
<rect x="153.69" y="29.31" width="3.8" height="3.8" fill="#f2cb99"/>
<rect x="153.69" y="34.12" width="3.8" height="3.8" fill="#f2cb99"/>
<rect x="153.54" y="38.78" width="4.1" height="4.1" fill="#ec7d26"/>
<rect x="153.64" y="43.69" width="3.9" height="3.9" fill="#f8aa55"/>
<rect x="153.69" y="48.55" width="3.8" height="3.8" fill="#f2cb99"/>
<rect x="153.64" y="53.31" width="3.9" height="3.9" fill="#f8aa55"/>
<rect x="153.84" y="58.32" width="3.5" height="3.5" fill="#8bbde0"/>
<rect x="153.64" y="62.93" width="3.9" height="3.9" fill="#f8aa55"/>
<rect x="153.99" y="68.09" width="3.2" height="3.2" fill="#629bce"/>
<rect x="153.99" y="72.9" width="3.2" height="3.2" fill="#629bce"/>
<rect x="153.69" y="77.41" width="3.8" height="3.8" fill="#f2cb99"/>
<circle cx="155.59" cy="79.31" r="0.7" fill="#111"/>
<rect x="153.99" y="82.52" width="3.2" height="3.2" fill="#629bce"/>
<rect x="153.99" y="87.33" width="3.2" height="3.2" fill="#629bce"/>
<rect x="153.84" y="91.99" width="3.5" height="3.5" fill="#8bbde0"/>
<rect x="153.99" y="96.95" width="3.2" height="3.2" fill="#629bce"/>
<rect x="153.99" y="101.76" width="3.2" height="3.2" fill="#629bce"/>
<rect x="154.44" y="107.02" width="2.3" height="2.3" fill="#3a74b2"/>
<rect x="155.24" y="112.18" width="0.7" height="1.6" fill="#cfd8e2"/>
<rect x="154.44" y="116.64" width="2.3" height="2.3" fill="#3a74b2"/>
<circle cx="155.59" cy="117.79" r="0.7" fill="#111"/>
<rect x="154.94" y="122.15" width="1.3" height="0.9" fill="#9fb3c8"/>
<text x="160.88" y="22.2" font-size="4.3" fill="#222" text-anchor="middle" >3</text>
<rect x="159.08" y="24.6" width="3.6" height="3.6" fill="#b3cfdf"/>
<rect x="159.13" y="29.46" width="3.5" height="3.5" fill="#8bbde0"/>
<rect x="159.03" y="34.17" width="3.7" height="3.7" fill="#d6d4cc"/>
<rect x="158.93" y="38.88" width="3.9" height="3.9" fill="#f8aa55"/>
<rect x="158.98" y="43.74" width="3.8" height="3.8" fill="#f2cb99"/>
<rect x="158.93" y="48.5" width="3.9" height="3.9" fill="#f8aa55"/>
<rect x="158.98" y="53.36" width="3.8" height="3.8" fill="#f2cb99"/>
<rect x="159.28" y="58.47" width="3.2" height="3.2" fill="#629bce"/>
<rect x="158.93" y="62.93" width="3.9" height="3.9" fill="#f8aa55"/>
<rect x="159.13" y="67.94" width="3.5" height="3.5" fill="#8bbde0"/>
<rect x="159.28" y="72.9" width="3.2" height="3.2" fill="#629bce"/>
<rect x="159.03" y="77.46" width="3.7" height="3.7" fill="#d6d4cc"/>
<circle cx="160.88" cy="79.31" r="0.7" fill="#111"/>
<rect x="159.28" y="82.52" width="3.2" height="3.2" fill="#629bce"/>
<rect x="159.13" y="87.18" width="3.5" height="3.5" fill="#8bbde0"/>
<rect x="159.13" y="91.99" width="3.5" height="3.5" fill="#8bbde0"/>
<rect x="159.28" y="96.95" width="3.2" height="3.2" fill="#629bce"/>
<rect x="159.13" y="101.61" width="3.5" height="3.5" fill="#8bbde0"/>
<rect x="159.28" y="106.57" width="3.2" height="3.2" fill="#629bce"/>
<rect x="160.53" y="112.18" width="0.7" height="1.6" fill="#cfd8e2"/>
<rect x="159.73" y="116.64" width="2.3" height="2.3" fill="#3a74b2"/>
<circle cx="160.88" cy="117.79" r="0.7" fill="#111"/>
<rect x="160.23" y="122.15" width="1.3" height="0.9" fill="#9fb3c8"/>
<text x="166.17" y="22.2" font-size="4.3" fill="#222" text-anchor="middle" >4</text>
<rect x="164.22" y="24.45" width="3.9" height="3.9" fill="#f8aa55"/>
<rect x="164.27" y="29.31" width="3.8" height="3.8" fill="#f2cb99"/>
<rect x="164.42" y="34.27" width="3.5" height="3.5" fill="#8bbde0"/>
<rect x="164.27" y="38.93" width="3.8" height="3.8" fill="#f2cb99"/>
<rect x="164.37" y="43.84" width="3.6" height="3.6" fill="#b3cfdf"/>
<rect x="164.42" y="48.7" width="3.5" height="3.5" fill="#8bbde0"/>
<rect x="164.42" y="53.51" width="3.5" height="3.5" fill="#8bbde0"/>
<rect x="164.57" y="58.47" width="3.2" height="3.2" fill="#629bce"/>
<rect x="164.17" y="62.88" width="4" height="4" fill="#f3933a"/>
<rect x="164.57" y="68.09" width="3.2" height="3.2" fill="#629bce"/>
<rect x="164.42" y="72.75" width="3.5" height="3.5" fill="#8bbde0"/>
<rect x="164.22" y="77.36" width="3.9" height="3.9" fill="#f8aa55"/>
<circle cx="166.17" cy="79.31" r="0.7" fill="#111"/>
<rect x="164.42" y="82.37" width="3.5" height="3.5" fill="#8bbde0"/>
<rect x="164.57" y="87.33" width="3.2" height="3.2" fill="#629bce"/>
<rect x="164.42" y="91.99" width="3.5" height="3.5" fill="#8bbde0"/>
<rect x="164.57" y="96.95" width="3.2" height="3.2" fill="#629bce"/>
<rect x="164.42" y="101.61" width="3.5" height="3.5" fill="#8bbde0"/>
<rect x="164.57" y="106.57" width="3.2" height="3.2" fill="#629bce"/>
<rect x="165.82" y="112.18" width="0.7" height="1.6" fill="#cfd8e2"/>
<rect x="165.02" y="116.64" width="2.3" height="2.3" fill="#3a74b2"/>
<circle cx="166.17" cy="117.79" r="0.7" fill="#111"/>
<rect x="165.52" y="122.15" width="1.3" height="0.9" fill="#9fb3c8"/>
<text x="171.46" y="22.2" font-size="4.3" fill="#222" text-anchor="middle" >5</text>
<rect x="169.71" y="24.65" width="3.5" height="3.5" fill="#8bbde0"/>
<rect x="169.56" y="29.31" width="3.8" height="3.8" fill="#f2cb99"/>
<rect x="169.51" y="34.07" width="3.9" height="3.9" fill="#f8aa55"/>
<rect x="169.66" y="39.03" width="3.6" height="3.6" fill="#b3cfdf"/>
<rect x="169.71" y="43.89" width="3.5" height="3.5" fill="#8bbde0"/>
<rect x="169.71" y="48.7" width="3.5" height="3.5" fill="#8bbde0"/>
<rect x="169.71" y="53.51" width="3.5" height="3.5" fill="#8bbde0"/>
<rect x="169.71" y="58.32" width="3.5" height="3.5" fill="#8bbde0"/>
<rect x="169.51" y="62.93" width="3.9" height="3.9" fill="#f8aa55"/>
<rect x="169.86" y="68.09" width="3.2" height="3.2" fill="#629bce"/>
<rect x="169.71" y="72.75" width="3.5" height="3.5" fill="#8bbde0"/>
<rect x="169.51" y="77.36" width="3.9" height="3.9" fill="#f8aa55"/>
<circle cx="171.46" cy="79.31" r="0.7" fill="#111"/>
<rect x="169.86" y="82.52" width="3.2" height="3.2" fill="#629bce"/>
<rect x="169.86" y="87.33" width="3.2" height="3.2" fill="#629bce"/>
<rect x="169.71" y="91.99" width="3.5" height="3.5" fill="#8bbde0"/>
<rect x="169.86" y="96.95" width="3.2" height="3.2" fill="#629bce"/>
<rect x="169.86" y="101.76" width="3.2" height="3.2" fill="#629bce"/>
<rect x="169.86" y="106.57" width="3.2" height="3.2" fill="#629bce"/>
<rect x="171.11" y="112.18" width="0.7" height="1.6" fill="#cfd8e2"/>
<rect x="170.31" y="116.64" width="2.3" height="2.3" fill="#3a74b2"/>
<circle cx="171.46" cy="117.79" r="0.7" fill="#111"/>
<rect x="170.81" y="122.15" width="1.3" height="0.9" fill="#9fb3c8"/>
<text x="176.75" y="22.2" font-size="4.3" fill="#222" text-anchor="middle" >6</text>
<rect x="174.9" y="24.55" width="3.7" height="3.7" fill="#d6d4cc"/>
<rect x="174.8" y="29.26" width="3.9" height="3.9" fill="#f8aa55"/>
<rect x="174.85" y="34.12" width="3.8" height="3.8" fill="#f2cb99"/>
<rect x="174.85" y="38.93" width="3.8" height="3.8" fill="#f2cb99"/>
<rect x="174.95" y="43.84" width="3.6" height="3.6" fill="#b3cfdf"/>
<rect x="174.85" y="48.55" width="3.8" height="3.8" fill="#f2cb99"/>
<rect x="174.9" y="53.41" width="3.7" height="3.7" fill="#d6d4cc"/>
<rect x="175.15" y="58.47" width="3.2" height="3.2" fill="#629bce"/>
<rect x="174.75" y="62.88" width="4" height="4" fill="#f3933a"/>
<rect x="175" y="67.94" width="3.5" height="3.5" fill="#8bbde0"/>
<rect x="175" y="72.75" width="3.5" height="3.5" fill="#8bbde0"/>
<rect x="174.9" y="77.46" width="3.7" height="3.7" fill="#d6d4cc"/>
<circle cx="176.75" cy="79.31" r="0.7" fill="#111"/>
<rect x="175.15" y="82.52" width="3.2" height="3.2" fill="#629bce"/>
<rect x="175.15" y="87.33" width="3.2" height="3.2" fill="#629bce"/>
<rect x="175" y="91.99" width="3.5" height="3.5" fill="#8bbde0"/>
<rect x="175.15" y="96.95" width="3.2" height="3.2" fill="#629bce"/>
<rect x="175.15" y="101.76" width="3.2" height="3.2" fill="#629bce"/>
<rect x="175.15" y="106.57" width="3.2" height="3.2" fill="#629bce"/>
<rect x="176.4" y="112.18" width="0.7" height="1.6" fill="#cfd8e2"/>
<rect x="175.6" y="116.64" width="2.3" height="2.3" fill="#3a74b2"/>
<circle cx="176.75" cy="117.79" r="0.7" fill="#111"/>
<rect x="176.1" y="122.15" width="1.3" height="0.9" fill="#9fb3c8"/>
<text x="182.04" y="22.2" font-size="4.3" fill="#222" text-anchor="middle" >7</text>
<rect x="180.09" y="24.45" width="3.9" height="3.9" fill="#f8aa55"/>
<rect x="180.19" y="29.36" width="3.7" height="3.7" fill="#d6d4cc"/>
<rect x="180.19" y="34.17" width="3.7" height="3.7" fill="#d6d4cc"/>
<rect x="180.04" y="38.83" width="4" height="4" fill="#f3933a"/>
<rect x="180.14" y="43.74" width="3.8" height="3.8" fill="#f2cb99"/>
<rect x="180.19" y="48.6" width="3.7" height="3.7" fill="#d6d4cc"/>
<rect x="180.14" y="53.36" width="3.8" height="3.8" fill="#f2cb99"/>
<rect x="180.44" y="58.47" width="3.2" height="3.2" fill="#629bce"/>
<rect x="180.09" y="62.93" width="3.9" height="3.9" fill="#f8aa55"/>
<rect x="180.29" y="67.94" width="3.5" height="3.5" fill="#8bbde0"/>
<rect x="180.29" y="72.75" width="3.5" height="3.5" fill="#8bbde0"/>
<rect x="180.14" y="77.41" width="3.8" height="3.8" fill="#f2cb99"/>
<circle cx="182.04" cy="79.31" r="0.7" fill="#111"/>
<rect x="180.44" y="82.52" width="3.2" height="3.2" fill="#629bce"/>
<rect x="180.44" y="87.33" width="3.2" height="3.2" fill="#629bce"/>
<rect x="180.29" y="91.99" width="3.5" height="3.5" fill="#8bbde0"/>
<rect x="180.44" y="96.95" width="3.2" height="3.2" fill="#629bce"/>
<rect x="180.29" y="101.61" width="3.5" height="3.5" fill="#8bbde0"/>
<rect x="180.44" y="106.57" width="3.2" height="3.2" fill="#629bce"/>
<rect x="181.69" y="112.18" width="0.7" height="1.6" fill="#cfd8e2"/>
<rect x="180.89" y="116.64" width="2.3" height="2.3" fill="#3a74b2"/>
<circle cx="182.04" cy="117.79" r="0.7" fill="#111"/>
<rect x="181.39" y="122.15" width="1.3" height="0.9" fill="#9fb3c8"/>
<text x="187.33" y="22.2" font-size="4.3" fill="#222" text-anchor="middle" >8</text>
<rect x="185.38" y="24.45" width="3.9" height="3.9" fill="#f8aa55"/>
<rect x="185.43" y="29.31" width="3.8" height="3.8" fill="#f2cb99"/>
<rect x="185.43" y="34.12" width="3.8" height="3.8" fill="#f2cb99"/>
<rect x="185.38" y="38.88" width="3.9" height="3.9" fill="#f8aa55"/>
<rect x="185.43" y="43.74" width="3.8" height="3.8" fill="#f2cb99"/>
<rect x="185.58" y="48.7" width="3.5" height="3.5" fill="#8bbde0"/>
<rect x="185.58" y="53.51" width="3.5" height="3.5" fill="#8bbde0"/>
<rect x="185.58" y="58.32" width="3.5" height="3.5" fill="#8bbde0"/>
<rect x="185.43" y="62.98" width="3.8" height="3.8" fill="#f2cb99"/>
<rect x="185.58" y="67.94" width="3.5" height="3.5" fill="#8bbde0"/>
<rect x="185.58" y="72.75" width="3.5" height="3.5" fill="#8bbde0"/>
<rect x="185.38" y="77.36" width="3.9" height="3.9" fill="#f8aa55"/>
<circle cx="187.33" cy="79.31" r="0.7" fill="#111"/>
<rect x="185.58" y="82.37" width="3.5" height="3.5" fill="#8bbde0"/>
<rect x="185.58" y="87.18" width="3.5" height="3.5" fill="#8bbde0"/>
<rect x="185.58" y="91.99" width="3.5" height="3.5" fill="#8bbde0"/>
<rect x="185.73" y="96.95" width="3.2" height="3.2" fill="#629bce"/>
<rect x="185.58" y="101.61" width="3.5" height="3.5" fill="#8bbde0"/>
<rect x="185.73" y="106.57" width="3.2" height="3.2" fill="#629bce"/>
<rect x="186.98" y="112.18" width="0.7" height="1.6" fill="#cfd8e2"/>
<rect x="186.18" y="116.64" width="2.3" height="2.3" fill="#3a74b2"/>
<circle cx="187.33" cy="117.79" r="0.7" fill="#111"/>
<rect x="186.68" y="122.15" width="1.3" height="0.9" fill="#9fb3c8"/>
<text x="192.62" y="22.2" font-size="4.3" fill="#222" text-anchor="middle" >9</text>
<rect x="190.62" y="24.4" width="4" height="4" fill="#f3933a"/>
<rect x="190.72" y="29.31" width="3.8" height="3.8" fill="#f2cb99"/>
<rect x="190.67" y="34.07" width="3.9" height="3.9" fill="#f8aa55"/>
<rect x="190.62" y="38.83" width="4" height="4" fill="#f3933a"/>
<rect x="190.87" y="43.89" width="3.5" height="3.5" fill="#8bbde0"/>
<rect x="190.72" y="48.55" width="3.8" height="3.8" fill="#f2cb99"/>
<rect x="190.77" y="53.41" width="3.7" height="3.7" fill="#d6d4cc"/>
<rect x="191.02" y="58.47" width="3.2" height="3.2" fill="#629bce"/>
<rect x="190.67" y="62.93" width="3.9" height="3.9" fill="#f8aa55"/>
<rect x="190.87" y="67.94" width="3.5" height="3.5" fill="#8bbde0"/>
<rect x="190.87" y="72.75" width="3.5" height="3.5" fill="#8bbde0"/>
<rect x="190.77" y="77.46" width="3.7" height="3.7" fill="#d6d4cc"/>
<circle cx="192.62" cy="79.31" r="0.7" fill="#111"/>
<rect x="191.02" y="82.52" width="3.2" height="3.2" fill="#629bce"/>
<rect x="191.02" y="87.33" width="3.2" height="3.2" fill="#629bce"/>
<rect x="190.87" y="91.99" width="3.5" height="3.5" fill="#8bbde0"/>
<rect x="191.02" y="96.95" width="3.2" height="3.2" fill="#629bce"/>
<rect x="191.02" y="101.76" width="3.2" height="3.2" fill="#629bce"/>
<rect x="191.02" y="106.57" width="3.2" height="3.2" fill="#629bce"/>
<rect x="192.27" y="112.18" width="0.7" height="1.6" fill="#cfd8e2"/>
<rect x="191.47" y="116.64" width="2.3" height="2.3" fill="#3a74b2"/>
<circle cx="192.62" cy="117.79" r="0.7" fill="#111"/>
<rect x="191.97" y="122.15" width="1.3" height="0.9" fill="#9fb3c8"/>
<text x="197.91" y="22.2" font-size="4.3" fill="#222" text-anchor="middle" >10</text>
<rect x="195.96" y="24.45" width="3.9" height="3.9" fill="#f8aa55"/>
<rect x="195.96" y="29.26" width="3.9" height="3.9" fill="#f8aa55"/>
<rect x="196.01" y="34.12" width="3.8" height="3.8" fill="#f2cb99"/>
<rect x="195.91" y="38.83" width="4" height="4" fill="#f3933a"/>
<rect x="196.11" y="43.84" width="3.6" height="3.6" fill="#b3cfdf"/>
<rect x="196.01" y="48.55" width="3.8" height="3.8" fill="#f2cb99"/>
<rect x="196.01" y="53.36" width="3.8" height="3.8" fill="#f2cb99"/>
<rect x="196.16" y="58.32" width="3.5" height="3.5" fill="#8bbde0"/>
<rect x="195.91" y="62.88" width="4" height="4" fill="#f3933a"/>
<rect x="196.16" y="67.94" width="3.5" height="3.5" fill="#8bbde0"/>
<rect x="196.16" y="72.75" width="3.5" height="3.5" fill="#8bbde0"/>
<rect x="196.16" y="77.56" width="3.5" height="3.5" fill="#8bbde0"/>
<rect x="196.16" y="82.37" width="3.5" height="3.5" fill="#8bbde0"/>
<rect x="196.16" y="87.18" width="3.5" height="3.5" fill="#8bbde0"/>
<rect x="196.16" y="91.99" width="3.5" height="3.5" fill="#8bbde0"/>
<rect x="196.31" y="96.95" width="3.2" height="3.2" fill="#629bce"/>
<rect x="196.31" y="101.76" width="3.2" height="3.2" fill="#629bce"/>
<rect x="196.31" y="106.57" width="3.2" height="3.2" fill="#629bce"/>
<rect x="197.56" y="112.18" width="0.7" height="1.6" fill="#cfd8e2"/>
<rect x="196.76" y="116.64" width="2.3" height="2.3" fill="#3a74b2"/>
<circle cx="197.91" cy="117.79" r="0.7" fill="#111"/>
<rect x="197.26" y="122.15" width="1.3" height="0.9" fill="#9fb3c8"/>
<text x="203.2" y="22.2" font-size="4.3" fill="#222" text-anchor="middle" >11</text>
<rect x="201.4" y="24.6" width="3.6" height="3.6" fill="#b3cfdf"/>
<rect x="201.25" y="29.26" width="3.9" height="3.9" fill="#f8aa55"/>
<rect x="201.3" y="34.12" width="3.8" height="3.8" fill="#f2cb99"/>
<rect x="201.3" y="38.93" width="3.8" height="3.8" fill="#f2cb99"/>
<rect x="201.45" y="43.89" width="3.5" height="3.5" fill="#8bbde0"/>
<rect x="201.45" y="48.7" width="3.5" height="3.5" fill="#8bbde0"/>
<rect x="201.45" y="53.51" width="3.5" height="3.5" fill="#8bbde0"/>
<rect x="201.45" y="58.32" width="3.5" height="3.5" fill="#8bbde0"/>
<rect x="201.3" y="62.98" width="3.8" height="3.8" fill="#f2cb99"/>
<rect x="201.4" y="67.89" width="3.6" height="3.6" fill="#b3cfdf"/>
<rect x="201.45" y="72.75" width="3.5" height="3.5" fill="#8bbde0"/>
<rect x="201.3" y="77.41" width="3.8" height="3.8" fill="#f2cb99"/>
<circle cx="203.2" cy="79.31" r="0.7" fill="#111"/>
<rect x="201.45" y="82.37" width="3.5" height="3.5" fill="#8bbde0"/>
<rect x="201.45" y="87.18" width="3.5" height="3.5" fill="#8bbde0"/>
<rect x="201.6" y="92.14" width="3.2" height="3.2" fill="#629bce"/>
<rect x="201.6" y="96.95" width="3.2" height="3.2" fill="#629bce"/>
<rect x="201.45" y="101.61" width="3.5" height="3.5" fill="#8bbde0"/>
<rect x="201.45" y="106.42" width="3.5" height="3.5" fill="#8bbde0"/>
<rect x="202.85" y="112.18" width="0.7" height="1.6" fill="#cfd8e2"/>
<rect x="202.05" y="116.64" width="2.3" height="2.3" fill="#3a74b2"/>
<circle cx="203.2" cy="117.79" r="0.7" fill="#111"/>
<rect x="202.55" y="122.15" width="1.3" height="0.9" fill="#9fb3c8"/>
<text x="208.49" y="22.2" font-size="4.3" fill="#222" text-anchor="middle" >12</text>
<rect x="206.59" y="24.5" width="3.8" height="3.8" fill="#f2cb99"/>
<rect x="206.54" y="29.26" width="3.9" height="3.9" fill="#f8aa55"/>
<rect x="206.59" y="34.12" width="3.8" height="3.8" fill="#f2cb99"/>
<rect x="206.64" y="38.98" width="3.7" height="3.7" fill="#d6d4cc"/>
<rect x="206.59" y="43.74" width="3.8" height="3.8" fill="#f2cb99"/>
<rect x="206.74" y="48.7" width="3.5" height="3.5" fill="#8bbde0"/>
<rect x="206.74" y="53.51" width="3.5" height="3.5" fill="#8bbde0"/>
<rect x="206.69" y="58.27" width="3.6" height="3.6" fill="#b3cfdf"/>
<rect x="206.59" y="62.98" width="3.8" height="3.8" fill="#f2cb99"/>
<rect x="206.64" y="67.84" width="3.7" height="3.7" fill="#d6d4cc"/>
<rect x="206.74" y="72.75" width="3.5" height="3.5" fill="#8bbde0"/>
<rect x="206.64" y="77.46" width="3.7" height="3.7" fill="#d6d4cc"/>
<circle cx="208.49" cy="79.31" r="0.7" fill="#111"/>
<rect x="207.84" y="83.67" width="1.3" height="0.9" fill="#9fb3c8"/>
<rect x="206.59" y="87.03" width="3.8" height="3.8" fill="#f2cb99"/>
<rect x="207.84" y="93.29" width="1.3" height="0.9" fill="#9fb3c8"/>
<rect x="206.74" y="96.8" width="3.5" height="3.5" fill="#8bbde0"/>
<rect x="206.74" y="101.61" width="3.5" height="3.5" fill="#8bbde0"/>
<rect x="206.74" y="106.42" width="3.5" height="3.5" fill="#8bbde0"/>
<rect x="208.14" y="112.18" width="0.7" height="1.6" fill="#cfd8e2"/>
<rect x="207.34" y="116.64" width="2.3" height="2.3" fill="#3a74b2"/>
<circle cx="208.49" cy="117.79" r="0.7" fill="#111"/>
<rect x="207.84" y="122.15" width="1.3" height="0.9" fill="#9fb3c8"/>
<text x="179.4" y="17.6" font-size="3.6" fill="#555" text-anchor="middle" >Covid</text>
<text x="214" y="22.2" font-size="4.3" fill="#222" text-anchor="middle" >1</text>
<rect x="212.05" y="24.45" width="3.9" height="3.9" fill="#f8aa55"/>
<rect x="212.1" y="29.31" width="3.8" height="3.8" fill="#f2cb99"/>
<rect x="212.25" y="34.27" width="3.5" height="3.5" fill="#8bbde0"/>
<rect x="212.05" y="38.88" width="3.9" height="3.9" fill="#f8aa55"/>
<rect x="212.05" y="43.69" width="3.9" height="3.9" fill="#f8aa55"/>
<rect x="212.2" y="48.65" width="3.6" height="3.6" fill="#b3cfdf"/>
<rect x="212.1" y="53.36" width="3.8" height="3.8" fill="#f2cb99"/>
<rect x="212.4" y="58.47" width="3.2" height="3.2" fill="#629bce"/>
<rect x="212.05" y="62.93" width="3.9" height="3.9" fill="#f8aa55"/>
<rect x="212.4" y="68.09" width="3.2" height="3.2" fill="#629bce"/>
<rect x="212.25" y="72.75" width="3.5" height="3.5" fill="#8bbde0"/>
<rect x="212.1" y="77.41" width="3.8" height="3.8" fill="#f2cb99"/>
<rect x="212.25" y="82.37" width="3.5" height="3.5" fill="#8bbde0"/>
<rect x="212.25" y="87.18" width="3.5" height="3.5" fill="#8bbde0"/>
<rect x="212.4" y="92.14" width="3.2" height="3.2" fill="#629bce"/>
<rect x="212.4" y="96.95" width="3.2" height="3.2" fill="#629bce"/>
<rect x="212.4" y="101.76" width="3.2" height="3.2" fill="#629bce"/>
<rect x="212.4" y="106.57" width="3.2" height="3.2" fill="#629bce"/>
<rect x="213.65" y="112.18" width="0.7" height="1.6" fill="#cfd8e2"/>
<rect x="212.85" y="116.64" width="2.3" height="2.3" fill="#3a74b2"/>
<circle cx="214" cy="117.79" r="0.7" fill="#111"/>
<rect x="213.35" y="122.15" width="1.3" height="0.9" fill="#9fb3c8"/>
<text x="219.31" y="22.2" font-size="4.3" fill="#222" text-anchor="middle" >2</text>
<rect x="217.26" y="24.35" width="4.1" height="4.1" fill="#ec7d26"/>
<rect x="217.41" y="29.31" width="3.8" height="3.8" fill="#f2cb99"/>
<rect x="217.56" y="34.27" width="3.5" height="3.5" fill="#8bbde0"/>
<rect x="217.56" y="39.08" width="3.5" height="3.5" fill="#8bbde0"/>
<rect x="217.36" y="43.69" width="3.9" height="3.9" fill="#f8aa55"/>
<rect x="217.51" y="48.65" width="3.6" height="3.6" fill="#b3cfdf"/>
<rect x="217.41" y="53.36" width="3.8" height="3.8" fill="#f2cb99"/>
<rect x="217.71" y="58.47" width="3.2" height="3.2" fill="#629bce"/>
<rect x="217.41" y="62.98" width="3.8" height="3.8" fill="#f2cb99"/>
<rect x="217.71" y="68.09" width="3.2" height="3.2" fill="#629bce"/>
<rect x="217.46" y="72.65" width="3.7" height="3.7" fill="#d6d4cc"/>
<rect x="217.46" y="77.46" width="3.7" height="3.7" fill="#d6d4cc"/>
<rect x="217.71" y="82.52" width="3.2" height="3.2" fill="#629bce"/>
<rect x="217.71" y="87.33" width="3.2" height="3.2" fill="#629bce"/>
<rect x="217.71" y="92.14" width="3.2" height="3.2" fill="#629bce"/>
<rect x="217.71" y="96.95" width="3.2" height="3.2" fill="#629bce"/>
<rect x="217.71" y="101.76" width="3.2" height="3.2" fill="#629bce"/>
<rect x="217.71" y="106.57" width="3.2" height="3.2" fill="#629bce"/>
<rect x="218.96" y="112.18" width="0.7" height="1.6" fill="#cfd8e2"/>
<rect x="217.56" y="116.04" width="3.5" height="3.5" fill="#8bbde0"/>
<rect x="218.66" y="122.15" width="1.3" height="0.9" fill="#9fb3c8"/>
<text x="224.62" y="22.2" font-size="4.3" fill="#222" text-anchor="middle" >3</text>
<rect x="222.62" y="24.4" width="4" height="4" fill="#f3933a"/>
<rect x="222.67" y="29.26" width="3.9" height="3.9" fill="#f8aa55"/>
<rect x="222.72" y="34.12" width="3.8" height="3.8" fill="#f2cb99"/>
<rect x="222.67" y="38.88" width="3.9" height="3.9" fill="#f8aa55"/>
<rect x="222.67" y="43.69" width="3.9" height="3.9" fill="#f8aa55"/>
<rect x="222.72" y="48.55" width="3.8" height="3.8" fill="#f2cb99"/>
<rect x="222.72" y="53.36" width="3.8" height="3.8" fill="#f2cb99"/>
<rect x="222.87" y="58.32" width="3.5" height="3.5" fill="#8bbde0"/>
<rect x="222.67" y="62.93" width="3.9" height="3.9" fill="#f8aa55"/>
<rect x="223.02" y="68.09" width="3.2" height="3.2" fill="#629bce"/>
<rect x="223.47" y="73.35" width="2.3" height="2.3" fill="#3a74b2"/>
<rect x="223.47" y="78.16" width="2.3" height="2.3" fill="#3a74b2"/>
<circle cx="224.62" cy="79.31" r="0.7" fill="#111"/>
<rect x="223.02" y="82.52" width="3.2" height="3.2" fill="#629bce"/>
<rect x="222.87" y="87.18" width="3.5" height="3.5" fill="#8bbde0"/>
<rect x="223.02" y="92.14" width="3.2" height="3.2" fill="#629bce"/>
<rect x="223.02" y="96.95" width="3.2" height="3.2" fill="#629bce"/>
<rect x="223.02" y="101.76" width="3.2" height="3.2" fill="#629bce"/>
<rect x="223.02" y="106.57" width="3.2" height="3.2" fill="#629bce"/>
<rect x="224.27" y="112.18" width="0.7" height="1.6" fill="#cfd8e2"/>
<rect x="223.02" y="116.19" width="3.2" height="3.2" fill="#629bce"/>
<circle cx="224.62" cy="117.79" r="0.7" fill="#111"/>
<rect x="223.97" y="122.15" width="1.3" height="0.9" fill="#9fb3c8"/>
<text x="229.93" y="22.2" font-size="4.3" fill="#222" text-anchor="middle" >4</text>
<rect x="227.93" y="24.4" width="4" height="4" fill="#f3933a"/>
<rect x="227.98" y="29.26" width="3.9" height="3.9" fill="#f8aa55"/>
<rect x="228.18" y="34.27" width="3.5" height="3.5" fill="#8bbde0"/>
<rect x="227.93" y="38.83" width="4" height="4" fill="#f3933a"/>
<rect x="228.03" y="43.74" width="3.8" height="3.8" fill="#f2cb99"/>
<rect x="227.98" y="48.5" width="3.9" height="3.9" fill="#f8aa55"/>
<rect x="228.03" y="53.36" width="3.8" height="3.8" fill="#f2cb99"/>
<rect x="228.18" y="58.32" width="3.5" height="3.5" fill="#8bbde0"/>
<rect x="228.08" y="63.03" width="3.7" height="3.7" fill="#d6d4cc"/>
<rect x="228.18" y="67.94" width="3.5" height="3.5" fill="#8bbde0"/>
<rect x="228.18" y="72.75" width="3.5" height="3.5" fill="#8bbde0"/>
<rect x="228.18" y="77.56" width="3.5" height="3.5" fill="#8bbde0"/>
<rect x="228.33" y="82.52" width="3.2" height="3.2" fill="#629bce"/>
<rect x="228.18" y="87.18" width="3.5" height="3.5" fill="#8bbde0"/>
<rect x="228.18" y="91.99" width="3.5" height="3.5" fill="#8bbde0"/>
<rect x="228.33" y="96.95" width="3.2" height="3.2" fill="#629bce"/>
<rect x="228.33" y="101.76" width="3.2" height="3.2" fill="#629bce"/>
<rect x="228.33" y="106.57" width="3.2" height="3.2" fill="#629bce"/>
<rect x="229.58" y="112.18" width="0.7" height="1.6" fill="#cfd8e2"/>
<rect x="228.18" y="116.04" width="3.5" height="3.5" fill="#8bbde0"/>
<rect x="229.28" y="122.15" width="1.3" height="0.9" fill="#9fb3c8"/>
<text x="235.24" y="22.2" font-size="4.3" fill="#222" text-anchor="middle" >5</text>
<rect x="233.39" y="24.55" width="3.7" height="3.7" fill="#d6d4cc"/>
<rect x="233.24" y="29.21" width="4" height="4" fill="#f3933a"/>
<rect x="233.29" y="34.07" width="3.9" height="3.9" fill="#f8aa55"/>
<rect x="233.39" y="38.98" width="3.7" height="3.7" fill="#d6d4cc"/>
<rect x="233.34" y="43.74" width="3.8" height="3.8" fill="#f2cb99"/>
<rect x="233.34" y="48.55" width="3.8" height="3.8" fill="#f2cb99"/>
<rect x="233.34" y="53.36" width="3.8" height="3.8" fill="#f2cb99"/>
<rect x="233.49" y="58.32" width="3.5" height="3.5" fill="#8bbde0"/>
<rect x="233.34" y="62.98" width="3.8" height="3.8" fill="#f2cb99"/>
<rect x="233.64" y="68.09" width="3.2" height="3.2" fill="#629bce"/>
<rect x="233.64" y="72.9" width="3.2" height="3.2" fill="#629bce"/>
<rect x="233.39" y="77.46" width="3.7" height="3.7" fill="#d6d4cc"/>
<circle cx="235.24" cy="79.31" r="0.7" fill="#111"/>
<rect x="233.64" y="82.52" width="3.2" height="3.2" fill="#629bce"/>
<rect x="233.49" y="87.18" width="3.5" height="3.5" fill="#8bbde0"/>
<rect x="233.64" y="92.14" width="3.2" height="3.2" fill="#629bce"/>
<rect x="233.64" y="96.95" width="3.2" height="3.2" fill="#629bce"/>
<rect x="233.64" y="101.76" width="3.2" height="3.2" fill="#629bce"/>
<rect x="233.64" y="106.57" width="3.2" height="3.2" fill="#629bce"/>
<rect x="234.89" y="112.18" width="0.7" height="1.6" fill="#cfd8e2"/>
<rect x="233.49" y="116.04" width="3.5" height="3.5" fill="#8bbde0"/>
<rect x="234.59" y="122.15" width="1.3" height="0.9" fill="#9fb3c8"/>
<text x="240.55" y="22.2" font-size="4.3" fill="#222" text-anchor="middle" >6</text>
<rect x="238.6" y="24.45" width="3.9" height="3.9" fill="#f8aa55"/>
<rect x="238.8" y="29.46" width="3.5" height="3.5" fill="#8bbde0"/>
<rect x="238.7" y="34.17" width="3.7" height="3.7" fill="#d6d4cc"/>
<rect x="238.6" y="38.88" width="3.9" height="3.9" fill="#f8aa55"/>
<rect x="238.8" y="43.89" width="3.5" height="3.5" fill="#8bbde0"/>
<rect x="238.65" y="48.55" width="3.8" height="3.8" fill="#f2cb99"/>
<rect x="238.65" y="53.36" width="3.8" height="3.8" fill="#f2cb99"/>
<rect x="238.95" y="58.47" width="3.2" height="3.2" fill="#629bce"/>
<rect x="238.8" y="63.13" width="3.5" height="3.5" fill="#8bbde0"/>
<rect x="238.95" y="68.09" width="3.2" height="3.2" fill="#629bce"/>
<rect x="238.7" y="72.65" width="3.7" height="3.7" fill="#d6d4cc"/>
<rect x="238.6" y="77.36" width="3.9" height="3.9" fill="#f8aa55"/>
<circle cx="240.55" cy="79.31" r="0.7" fill="#111"/>
<rect x="238.95" y="82.52" width="3.2" height="3.2" fill="#629bce"/>
<rect x="238.8" y="87.18" width="3.5" height="3.5" fill="#8bbde0"/>
<rect x="238.95" y="92.14" width="3.2" height="3.2" fill="#629bce"/>
<rect x="238.95" y="96.95" width="3.2" height="3.2" fill="#629bce"/>
<rect x="238.95" y="101.76" width="3.2" height="3.2" fill="#629bce"/>
<rect x="239.4" y="107.02" width="2.3" height="2.3" fill="#3a74b2"/>
<rect x="240.2" y="112.18" width="0.7" height="1.6" fill="#cfd8e2"/>
<rect x="238.95" y="116.19" width="3.2" height="3.2" fill="#629bce"/>
<circle cx="240.55" cy="117.79" r="0.7" fill="#111"/>
<rect x="239.9" y="122.15" width="1.3" height="0.9" fill="#9fb3c8"/>
<text x="245.86" y="22.2" font-size="4.3" fill="#222" text-anchor="middle" >7</text>
<rect x="243.91" y="24.45" width="3.9" height="3.9" fill="#f8aa55"/>
<rect x="243.91" y="29.26" width="3.9" height="3.9" fill="#f8aa55"/>
<rect x="243.96" y="34.12" width="3.8" height="3.8" fill="#f2cb99"/>
<rect x="243.91" y="38.88" width="3.9" height="3.9" fill="#f8aa55"/>
<rect x="243.96" y="43.74" width="3.8" height="3.8" fill="#f2cb99"/>
<rect x="243.91" y="48.5" width="3.9" height="3.9" fill="#f8aa55"/>
<rect x="244.01" y="53.41" width="3.7" height="3.7" fill="#d6d4cc"/>
<rect x="244.11" y="58.32" width="3.5" height="3.5" fill="#8bbde0"/>
<rect x="243.91" y="62.93" width="3.9" height="3.9" fill="#f8aa55"/>
<rect x="244.11" y="67.94" width="3.5" height="3.5" fill="#8bbde0"/>
<rect x="244.11" y="72.75" width="3.5" height="3.5" fill="#8bbde0"/>
<rect x="244.01" y="77.46" width="3.7" height="3.7" fill="#d6d4cc"/>
<rect x="244.26" y="82.52" width="3.2" height="3.2" fill="#629bce"/>
<rect x="244.26" y="87.33" width="3.2" height="3.2" fill="#629bce"/>
<rect x="244.26" y="92.14" width="3.2" height="3.2" fill="#629bce"/>
<rect x="244.26" y="96.95" width="3.2" height="3.2" fill="#629bce"/>
<rect x="244.26" y="101.76" width="3.2" height="3.2" fill="#629bce"/>
<rect x="244.26" y="106.57" width="3.2" height="3.2" fill="#629bce"/>
<rect x="245.51" y="112.18" width="0.7" height="1.6" fill="#cfd8e2"/>
<rect x="244.26" y="116.19" width="3.2" height="3.2" fill="#629bce"/>
<rect x="245.21" y="122.15" width="1.3" height="0.9" fill="#9fb3c8"/>
<text x="251.17" y="22.2" font-size="4.3" fill="#222" text-anchor="middle" >8</text>
<rect x="249.27" y="24.5" width="3.8" height="3.8" fill="#f2cb99"/>
<rect x="249.17" y="29.21" width="4" height="4" fill="#f3933a"/>
<rect x="249.32" y="34.17" width="3.7" height="3.7" fill="#d6d4cc"/>
<rect x="249.27" y="38.93" width="3.8" height="3.8" fill="#f2cb99"/>
<rect x="249.22" y="43.69" width="3.9" height="3.9" fill="#f8aa55"/>
<rect x="249.37" y="48.65" width="3.6" height="3.6" fill="#b3cfdf"/>
<rect x="249.42" y="53.51" width="3.5" height="3.5" fill="#8bbde0"/>
<rect x="249.42" y="58.32" width="3.5" height="3.5" fill="#8bbde0"/>
<rect x="249.27" y="62.98" width="3.8" height="3.8" fill="#f2cb99"/>
<rect x="249.42" y="67.94" width="3.5" height="3.5" fill="#8bbde0"/>
<rect x="249.32" y="72.65" width="3.7" height="3.7" fill="#d6d4cc"/>
<rect x="249.32" y="77.46" width="3.7" height="3.7" fill="#d6d4cc"/>
<rect x="249.57" y="82.52" width="3.2" height="3.2" fill="#629bce"/>
<rect x="249.42" y="87.18" width="3.5" height="3.5" fill="#8bbde0"/>
<rect x="249.57" y="92.14" width="3.2" height="3.2" fill="#629bce"/>
<rect x="249.57" y="96.95" width="3.2" height="3.2" fill="#629bce"/>
<rect x="249.57" y="101.76" width="3.2" height="3.2" fill="#629bce"/>
<rect x="249.57" y="106.57" width="3.2" height="3.2" fill="#629bce"/>
<rect x="250.82" y="112.18" width="0.7" height="1.6" fill="#cfd8e2"/>
<rect x="249.57" y="116.19" width="3.2" height="3.2" fill="#629bce"/>
<rect x="250.02" y="121.45" width="2.3" height="2.3" fill="#3a74b2"/>
<text x="256.48" y="22.2" font-size="4.3" fill="#222" text-anchor="middle" >9</text>
<rect x="254.73" y="24.65" width="3.5" height="3.5" fill="#8bbde0"/>
<rect x="254.58" y="29.31" width="3.8" height="3.8" fill="#f2cb99"/>
<rect x="254.53" y="34.07" width="3.9" height="3.9" fill="#f8aa55"/>
<rect x="254.48" y="38.83" width="4" height="4" fill="#f3933a"/>
<rect x="254.73" y="43.89" width="3.5" height="3.5" fill="#8bbde0"/>
<rect x="254.58" y="48.55" width="3.8" height="3.8" fill="#f2cb99"/>
<rect x="254.63" y="53.41" width="3.7" height="3.7" fill="#d6d4cc"/>
<rect x="254.73" y="58.32" width="3.5" height="3.5" fill="#8bbde0"/>
<rect x="254.53" y="62.93" width="3.9" height="3.9" fill="#f8aa55"/>
<rect x="254.73" y="67.94" width="3.5" height="3.5" fill="#8bbde0"/>
<rect x="254.73" y="72.75" width="3.5" height="3.5" fill="#8bbde0"/>
<rect x="254.73" y="77.56" width="3.5" height="3.5" fill="#8bbde0"/>
<rect x="254.88" y="82.52" width="3.2" height="3.2" fill="#629bce"/>
<rect x="254.73" y="87.18" width="3.5" height="3.5" fill="#8bbde0"/>
<rect x="254.88" y="92.14" width="3.2" height="3.2" fill="#629bce"/>
<rect x="254.88" y="96.95" width="3.2" height="3.2" fill="#629bce"/>
<rect x="254.88" y="101.76" width="3.2" height="3.2" fill="#629bce"/>
<rect x="254.88" y="106.57" width="3.2" height="3.2" fill="#629bce"/>
<rect x="256.13" y="112.18" width="0.7" height="1.6" fill="#cfd8e2"/>
<rect x="254.88" y="116.19" width="3.2" height="3.2" fill="#629bce"/>
<rect x="254.88" y="121" width="3.2" height="3.2" fill="#629bce"/>
<text x="261.79" y="22.2" font-size="4.3" fill="#222" text-anchor="middle" >10</text>
<rect x="259.84" y="24.45" width="3.9" height="3.9" fill="#f8aa55"/>
<rect x="259.89" y="29.31" width="3.8" height="3.8" fill="#f2cb99"/>
<rect x="259.89" y="34.12" width="3.8" height="3.8" fill="#f2cb99"/>
<rect x="259.94" y="38.98" width="3.7" height="3.7" fill="#d6d4cc"/>
<rect x="259.99" y="43.84" width="3.6" height="3.6" fill="#b3cfdf"/>
<rect x="259.84" y="48.5" width="3.9" height="3.9" fill="#f8aa55"/>
<rect x="259.99" y="53.46" width="3.6" height="3.6" fill="#b3cfdf"/>
<rect x="260.04" y="58.32" width="3.5" height="3.5" fill="#8bbde0"/>
<rect x="259.84" y="62.93" width="3.9" height="3.9" fill="#f8aa55"/>
<rect x="260.19" y="68.09" width="3.2" height="3.2" fill="#629bce"/>
<rect x="260.04" y="72.75" width="3.5" height="3.5" fill="#8bbde0"/>
<rect x="259.94" y="77.46" width="3.7" height="3.7" fill="#d6d4cc"/>
<rect x="260.19" y="82.52" width="3.2" height="3.2" fill="#629bce"/>
<rect x="260.04" y="87.18" width="3.5" height="3.5" fill="#8bbde0"/>
<rect x="260.19" y="92.14" width="3.2" height="3.2" fill="#629bce"/>
<rect x="260.19" y="96.95" width="3.2" height="3.2" fill="#629bce"/>
<rect x="260.19" y="101.76" width="3.2" height="3.2" fill="#629bce"/>
<rect x="260.19" y="106.57" width="3.2" height="3.2" fill="#629bce"/>
<rect x="261.44" y="112.18" width="0.7" height="1.6" fill="#cfd8e2"/>
<rect x="260.19" y="116.19" width="3.2" height="3.2" fill="#629bce"/>
<rect x="260.64" y="121.45" width="2.3" height="2.3" fill="#3a74b2"/>
<text x="267.1" y="22.2" font-size="4.3" fill="#222" text-anchor="middle" >11</text>
<rect x="265.05" y="24.35" width="4.1" height="4.1" fill="#ec7d26"/>
<rect x="265.15" y="29.26" width="3.9" height="3.9" fill="#f8aa55"/>
<rect x="265.15" y="34.07" width="3.9" height="3.9" fill="#f8aa55"/>
<rect x="265.15" y="38.88" width="3.9" height="3.9" fill="#f8aa55"/>
<rect x="265.2" y="43.74" width="3.8" height="3.8" fill="#f2cb99"/>
<rect x="265.25" y="48.6" width="3.7" height="3.7" fill="#d6d4cc"/>
<rect x="265.35" y="53.51" width="3.5" height="3.5" fill="#8bbde0"/>
<rect x="265.5" y="58.47" width="3.2" height="3.2" fill="#629bce"/>
<rect x="265.2" y="62.98" width="3.8" height="3.8" fill="#f2cb99"/>
<rect x="265.5" y="68.09" width="3.2" height="3.2" fill="#629bce"/>
<rect x="265.35" y="72.75" width="3.5" height="3.5" fill="#8bbde0"/>
<rect x="265.95" y="78.16" width="2.3" height="2.3" fill="#3a74b2"/>
<circle cx="267.1" cy="79.31" r="0.7" fill="#111"/>
<rect x="265.5" y="82.52" width="3.2" height="3.2" fill="#629bce"/>
<rect x="265.5" y="87.33" width="3.2" height="3.2" fill="#629bce"/>
<rect x="265.5" y="92.14" width="3.2" height="3.2" fill="#629bce"/>
<rect x="265.5" y="96.95" width="3.2" height="3.2" fill="#629bce"/>
<rect x="265.35" y="101.61" width="3.5" height="3.5" fill="#8bbde0"/>
<rect x="265.35" y="106.42" width="3.5" height="3.5" fill="#8bbde0"/>
<rect x="266.75" y="112.18" width="0.7" height="1.6" fill="#cfd8e2"/>
<rect x="265.95" y="116.64" width="2.3" height="2.3" fill="#3a74b2"/>
<circle cx="267.1" cy="117.79" r="0.7" fill="#111"/>
<rect x="266.45" y="122.15" width="1.3" height="0.9" fill="#9fb3c8"/>
<text x="272.41" y="22.2" font-size="4.3" fill="#222" text-anchor="middle" >12</text>
<rect x="270.46" y="24.45" width="3.9" height="3.9" fill="#f8aa55"/>
<rect x="270.46" y="29.26" width="3.9" height="3.9" fill="#f8aa55"/>
<rect x="270.51" y="34.12" width="3.8" height="3.8" fill="#f2cb99"/>
<rect x="270.61" y="39.03" width="3.6" height="3.6" fill="#b3cfdf"/>
<rect x="270.46" y="43.69" width="3.9" height="3.9" fill="#f8aa55"/>
<rect x="270.61" y="48.65" width="3.6" height="3.6" fill="#b3cfdf"/>
<rect x="270.66" y="53.51" width="3.5" height="3.5" fill="#8bbde0"/>
<rect x="270.81" y="58.47" width="3.2" height="3.2" fill="#629bce"/>
<rect x="270.46" y="62.93" width="3.9" height="3.9" fill="#f8aa55"/>
<rect x="270.81" y="68.09" width="3.2" height="3.2" fill="#629bce"/>
<rect x="270.66" y="72.75" width="3.5" height="3.5" fill="#8bbde0"/>
<rect x="270.66" y="77.56" width="3.5" height="3.5" fill="#8bbde0"/>
<rect x="270.81" y="82.52" width="3.2" height="3.2" fill="#629bce"/>
<rect x="270.81" y="87.33" width="3.2" height="3.2" fill="#629bce"/>
<rect x="270.81" y="92.14" width="3.2" height="3.2" fill="#629bce"/>
<rect x="270.81" y="96.95" width="3.2" height="3.2" fill="#629bce"/>
<rect x="270.81" y="101.76" width="3.2" height="3.2" fill="#629bce"/>
<rect x="270.81" y="106.57" width="3.2" height="3.2" fill="#629bce"/>
<rect x="272.06" y="112.18" width="0.7" height="1.6" fill="#cfd8e2"/>
<rect x="270.81" y="116.19" width="3.2" height="3.2" fill="#629bce"/>
<rect x="271.76" y="122.15" width="1.3" height="0.9" fill="#9fb3c8"/>
<text x="277.72" y="22.2" font-size="4.3" fill="#222" text-anchor="middle" >13</text>
<rect x="275.77" y="24.45" width="3.9" height="3.9" fill="#f8aa55"/>
<rect x="275.77" y="29.26" width="3.9" height="3.9" fill="#f8aa55"/>
<rect x="275.82" y="34.12" width="3.8" height="3.8" fill="#f2cb99"/>
<rect x="275.82" y="38.93" width="3.8" height="3.8" fill="#f2cb99"/>
<rect x="275.82" y="43.74" width="3.8" height="3.8" fill="#f2cb99"/>
<rect x="275.87" y="48.6" width="3.7" height="3.7" fill="#d6d4cc"/>
<rect x="275.97" y="53.51" width="3.5" height="3.5" fill="#8bbde0"/>
<rect x="275.97" y="58.32" width="3.5" height="3.5" fill="#8bbde0"/>
<rect x="275.87" y="63.03" width="3.7" height="3.7" fill="#d6d4cc"/>
<rect x="275.97" y="67.94" width="3.5" height="3.5" fill="#8bbde0"/>
<rect x="275.97" y="72.75" width="3.5" height="3.5" fill="#8bbde0"/>
<rect x="276.57" y="78.16" width="2.3" height="2.3" fill="#3a74b2"/>
<circle cx="277.72" cy="79.31" r="0.7" fill="#111"/>
<rect x="276.12" y="82.52" width="3.2" height="3.2" fill="#629bce"/>
<rect x="275.97" y="87.18" width="3.5" height="3.5" fill="#8bbde0"/>
<rect x="275.97" y="91.99" width="3.5" height="3.5" fill="#8bbde0"/>
<rect x="275.97" y="96.8" width="3.5" height="3.5" fill="#8bbde0"/>
<rect x="276.12" y="101.76" width="3.2" height="3.2" fill="#629bce"/>
<rect x="276.12" y="106.57" width="3.2" height="3.2" fill="#629bce"/>
<rect x="277.37" y="112.18" width="0.7" height="1.6" fill="#cfd8e2"/>
<rect x="275.97" y="116.04" width="3.5" height="3.5" fill="#8bbde0"/>
<rect x="277.07" y="122.15" width="1.3" height="0.9" fill="#9fb3c8"/>
<text x="283.03" y="22.2" font-size="4.3" fill="#222" text-anchor="middle" >14</text>
<rect x="281.08" y="24.45" width="3.9" height="3.9" fill="#f8aa55"/>
<rect x="281.23" y="29.41" width="3.6" height="3.6" fill="#b3cfdf"/>
<rect x="281.13" y="34.12" width="3.8" height="3.8" fill="#f2cb99"/>
<rect x="281.03" y="38.83" width="4" height="4" fill="#f3933a"/>
<rect x="281.28" y="43.89" width="3.5" height="3.5" fill="#8bbde0"/>
<rect x="281.08" y="48.5" width="3.9" height="3.9" fill="#f8aa55"/>
<rect x="281.13" y="53.36" width="3.8" height="3.8" fill="#f2cb99"/>
<rect x="281.43" y="58.47" width="3.2" height="3.2" fill="#629bce"/>
<rect x="281.08" y="62.93" width="3.9" height="3.9" fill="#f8aa55"/>
<rect x="281.43" y="68.09" width="3.2" height="3.2" fill="#629bce"/>
<rect x="281.18" y="72.65" width="3.7" height="3.7" fill="#d6d4cc"/>
<rect x="281.28" y="77.56" width="3.5" height="3.5" fill="#8bbde0"/>
<rect x="281.43" y="82.52" width="3.2" height="3.2" fill="#629bce"/>
<rect x="281.28" y="87.18" width="3.5" height="3.5" fill="#8bbde0"/>
<rect x="281.28" y="91.99" width="3.5" height="3.5" fill="#8bbde0"/>
<rect x="281.43" y="96.95" width="3.2" height="3.2" fill="#629bce"/>
<rect x="281.43" y="101.76" width="3.2" height="3.2" fill="#629bce"/>
<rect x="281.43" y="106.57" width="3.2" height="3.2" fill="#629bce"/>
<rect x="282.68" y="112.18" width="0.7" height="1.6" fill="#cfd8e2"/>
<rect x="281.43" y="116.19" width="3.2" height="3.2" fill="#629bce"/>
<rect x="282.38" y="122.15" width="1.3" height="0.9" fill="#9fb3c8"/>
<text x="288.34" y="22.2" font-size="4.3" fill="#222" text-anchor="middle" >15</text>
<rect x="286.39" y="24.45" width="3.9" height="3.9" fill="#f8aa55"/>
<rect x="286.39" y="29.26" width="3.9" height="3.9" fill="#f8aa55"/>
<rect x="286.44" y="34.12" width="3.8" height="3.8" fill="#f2cb99"/>
<rect x="286.34" y="38.83" width="4" height="4" fill="#f3933a"/>
<rect x="286.59" y="43.89" width="3.5" height="3.5" fill="#8bbde0"/>
<rect x="286.49" y="48.6" width="3.7" height="3.7" fill="#d6d4cc"/>
<rect x="286.54" y="53.46" width="3.6" height="3.6" fill="#b3cfdf"/>
<rect x="286.59" y="58.32" width="3.5" height="3.5" fill="#8bbde0"/>
<rect x="286.59" y="63.13" width="3.5" height="3.5" fill="#8bbde0"/>
<rect x="286.49" y="67.84" width="3.7" height="3.7" fill="#d6d4cc"/>
<rect x="286.59" y="72.75" width="3.5" height="3.5" fill="#8bbde0"/>
<rect x="287.19" y="78.16" width="2.3" height="2.3" fill="#3a74b2"/>
<circle cx="288.34" cy="79.31" r="0.7" fill="#111"/>
<rect x="286.74" y="82.52" width="3.2" height="3.2" fill="#629bce"/>
<rect x="286.59" y="87.18" width="3.5" height="3.5" fill="#8bbde0"/>
<rect x="286.59" y="91.99" width="3.5" height="3.5" fill="#8bbde0"/>
<rect x="286.59" y="96.8" width="3.5" height="3.5" fill="#8bbde0"/>
<rect x="286.74" y="101.76" width="3.2" height="3.2" fill="#629bce"/>
<rect x="286.74" y="106.57" width="3.2" height="3.2" fill="#629bce"/>
<rect x="287.99" y="112.18" width="0.7" height="1.6" fill="#cfd8e2"/>
<rect x="287.19" y="116.64" width="2.3" height="2.3" fill="#3a74b2"/>
<circle cx="288.34" cy="117.79" r="0.7" fill="#111"/>
<rect x="287.69" y="122.15" width="1.3" height="0.9" fill="#9fb3c8"/>
<text x="293.65" y="22.2" font-size="4.3" fill="#222" text-anchor="middle" >16</text>
<rect x="291.65" y="24.4" width="4" height="4" fill="#f3933a"/>
<rect x="291.7" y="29.26" width="3.9" height="3.9" fill="#f8aa55"/>
<rect x="291.9" y="34.27" width="3.5" height="3.5" fill="#8bbde0"/>
<rect x="291.6" y="38.78" width="4.1" height="4.1" fill="#ec7d26"/>
<rect x="291.8" y="43.79" width="3.7" height="3.7" fill="#d6d4cc"/>
<rect x="291.8" y="48.6" width="3.7" height="3.7" fill="#d6d4cc"/>
<rect x="291.9" y="53.51" width="3.5" height="3.5" fill="#8bbde0"/>
<rect x="292.05" y="58.47" width="3.2" height="3.2" fill="#629bce"/>
<rect x="291.8" y="63.03" width="3.7" height="3.7" fill="#d6d4cc"/>
<rect x="291.9" y="67.94" width="3.5" height="3.5" fill="#8bbde0"/>
<rect x="291.85" y="72.7" width="3.6" height="3.6" fill="#b3cfdf"/>
<rect x="291.85" y="77.51" width="3.6" height="3.6" fill="#b3cfdf"/>
<rect x="292.05" y="82.52" width="3.2" height="3.2" fill="#629bce"/>
<rect x="291.9" y="87.18" width="3.5" height="3.5" fill="#8bbde0"/>
<rect x="291.9" y="91.99" width="3.5" height="3.5" fill="#8bbde0"/>
<rect x="292.05" y="96.95" width="3.2" height="3.2" fill="#629bce"/>
<rect x="292.05" y="101.76" width="3.2" height="3.2" fill="#629bce"/>
<rect x="292.05" y="106.57" width="3.2" height="3.2" fill="#629bce"/>
<rect x="293.3" y="112.18" width="0.7" height="1.6" fill="#cfd8e2"/>
<rect x="292.05" y="116.19" width="3.2" height="3.2" fill="#629bce"/>
<rect x="293" y="122.15" width="1.3" height="0.9" fill="#9fb3c8"/>
<text x="298.96" y="22.2" font-size="4.3" fill="#222" text-anchor="middle" >17</text>
<rect x="297.16" y="24.6" width="3.6" height="3.6" fill="#b3cfdf"/>
<rect x="296.96" y="29.21" width="4" height="4" fill="#f3933a"/>
<rect x="297.06" y="34.12" width="3.8" height="3.8" fill="#f2cb99"/>
<rect x="297.01" y="38.88" width="3.9" height="3.9" fill="#f8aa55"/>
<rect x="297.06" y="43.74" width="3.8" height="3.8" fill="#f2cb99"/>
<rect x="297.01" y="48.5" width="3.9" height="3.9" fill="#f8aa55"/>
<rect x="297.16" y="53.46" width="3.6" height="3.6" fill="#b3cfdf"/>
<rect x="297.21" y="58.32" width="3.5" height="3.5" fill="#8bbde0"/>
<rect x="297.11" y="63.03" width="3.7" height="3.7" fill="#d6d4cc"/>
<rect x="297.21" y="67.94" width="3.5" height="3.5" fill="#8bbde0"/>
<rect x="297.81" y="73.35" width="2.3" height="2.3" fill="#3a74b2"/>
<rect x="297.01" y="77.36" width="3.9" height="3.9" fill="#f8aa55"/>
<circle cx="298.96" cy="79.31" r="0.7" fill="#111"/>
<rect x="297.36" y="82.52" width="3.2" height="3.2" fill="#629bce"/>
<rect x="297.21" y="87.18" width="3.5" height="3.5" fill="#8bbde0"/>
<rect x="297.21" y="91.99" width="3.5" height="3.5" fill="#8bbde0"/>
<rect x="297.21" y="96.8" width="3.5" height="3.5" fill="#8bbde0"/>
<rect x="297.36" y="101.76" width="3.2" height="3.2" fill="#629bce"/>
<rect x="297.36" y="106.57" width="3.2" height="3.2" fill="#629bce"/>
<rect x="298.61" y="112.18" width="0.7" height="1.6" fill="#cfd8e2"/>
<rect x="297.21" y="116.04" width="3.5" height="3.5" fill="#8bbde0"/>
<rect x="298.31" y="122.15" width="1.3" height="0.9" fill="#9fb3c8"/>
<text x="304.27" y="22.2" font-size="4.3" fill="#222" text-anchor="middle" >18</text>
<rect x="302.27" y="24.4" width="4" height="4" fill="#f3933a"/>
<rect x="302.37" y="29.31" width="3.8" height="3.8" fill="#f2cb99"/>
<rect x="302.37" y="34.12" width="3.8" height="3.8" fill="#f2cb99"/>
<rect x="302.27" y="38.83" width="4" height="4" fill="#f3933a"/>
<rect x="302.52" y="43.89" width="3.5" height="3.5" fill="#8bbde0"/>
<rect x="302.27" y="48.45" width="4" height="4" fill="#f3933a"/>
<rect x="302.37" y="53.36" width="3.8" height="3.8" fill="#f2cb99"/>
<rect x="302.47" y="58.27" width="3.6" height="3.6" fill="#b3cfdf"/>
<rect x="302.37" y="62.98" width="3.8" height="3.8" fill="#f2cb99"/>
<rect x="302.52" y="67.94" width="3.5" height="3.5" fill="#8bbde0"/>
<rect x="302.67" y="72.9" width="3.2" height="3.2" fill="#629bce"/>
<rect x="302.52" y="77.56" width="3.5" height="3.5" fill="#8bbde0"/>
<rect x="302.67" y="82.52" width="3.2" height="3.2" fill="#629bce"/>
<rect x="302.52" y="87.18" width="3.5" height="3.5" fill="#8bbde0"/>
<rect x="302.52" y="91.99" width="3.5" height="3.5" fill="#8bbde0"/>
<rect x="302.67" y="96.95" width="3.2" height="3.2" fill="#629bce"/>
<rect x="302.67" y="101.76" width="3.2" height="3.2" fill="#629bce"/>
<rect x="302.67" y="106.57" width="3.2" height="3.2" fill="#629bce"/>
<rect x="303.92" y="112.18" width="0.7" height="1.6" fill="#cfd8e2"/>
<rect x="303.12" y="116.64" width="2.3" height="2.3" fill="#3a74b2"/>
<circle cx="304.27" cy="117.79" r="0.7" fill="#111"/>
<rect x="303.12" y="121.45" width="2.3" height="2.3" fill="#3a74b2"/>
<text x="309.58" y="22.2" font-size="4.3" fill="#222" text-anchor="middle" >19</text>
<rect x="307.63" y="24.45" width="3.9" height="3.9" fill="#f8aa55"/>
<rect x="307.63" y="29.26" width="3.9" height="3.9" fill="#f8aa55"/>
<rect x="307.73" y="34.17" width="3.7" height="3.7" fill="#d6d4cc"/>
<rect x="307.73" y="38.98" width="3.7" height="3.7" fill="#d6d4cc"/>
<rect x="307.73" y="43.79" width="3.7" height="3.7" fill="#d6d4cc"/>
<rect x="307.73" y="48.6" width="3.7" height="3.7" fill="#d6d4cc"/>
<rect x="307.73" y="53.41" width="3.7" height="3.7" fill="#d6d4cc"/>
<rect x="307.68" y="58.17" width="3.8" height="3.8" fill="#f2cb99"/>
<rect x="307.73" y="63.03" width="3.7" height="3.7" fill="#d6d4cc"/>
<rect x="307.98" y="68.09" width="3.2" height="3.2" fill="#629bce"/>
<rect x="307.98" y="72.9" width="3.2" height="3.2" fill="#629bce"/>
<rect x="307.68" y="77.41" width="3.8" height="3.8" fill="#f2cb99"/>
<rect x="307.98" y="82.52" width="3.2" height="3.2" fill="#629bce"/>
<rect x="307.83" y="87.18" width="3.5" height="3.5" fill="#8bbde0"/>
<rect x="307.83" y="91.99" width="3.5" height="3.5" fill="#8bbde0"/>
<rect x="307.98" y="96.95" width="3.2" height="3.2" fill="#629bce"/>
<rect x="307.98" y="101.76" width="3.2" height="3.2" fill="#629bce"/>
<rect x="307.98" y="106.57" width="3.2" height="3.2" fill="#629bce"/>
<rect x="309.23" y="112.18" width="0.7" height="1.6" fill="#cfd8e2"/>
<rect x="307.98" y="116.19" width="3.2" height="3.2" fill="#629bce"/>
<rect x="308.93" y="122.15" width="1.3" height="0.9" fill="#9fb3c8"/>
<text x="314.89" y="22.2" font-size="4.3" fill="#222" text-anchor="middle" >20</text>
<rect x="312.89" y="24.4" width="4" height="4" fill="#f3933a"/>
<rect x="312.99" y="29.31" width="3.8" height="3.8" fill="#f2cb99"/>
<rect x="313.14" y="34.27" width="3.5" height="3.5" fill="#8bbde0"/>
<rect x="312.94" y="38.88" width="3.9" height="3.9" fill="#f8aa55"/>
<rect x="312.94" y="43.69" width="3.9" height="3.9" fill="#f8aa55"/>
<rect x="312.99" y="48.55" width="3.8" height="3.8" fill="#f2cb99"/>
<rect x="313.14" y="53.51" width="3.5" height="3.5" fill="#8bbde0"/>
<rect x="313.29" y="58.47" width="3.2" height="3.2" fill="#629bce"/>
<rect x="312.94" y="62.93" width="3.9" height="3.9" fill="#f8aa55"/>
<rect x="313.14" y="67.94" width="3.5" height="3.5" fill="#8bbde0"/>
<rect x="313.14" y="72.75" width="3.5" height="3.5" fill="#8bbde0"/>
<rect x="313.04" y="77.46" width="3.7" height="3.7" fill="#d6d4cc"/>
<rect x="313.29" y="82.52" width="3.2" height="3.2" fill="#629bce"/>
<rect x="313.14" y="87.18" width="3.5" height="3.5" fill="#8bbde0"/>
<rect x="313.09" y="91.94" width="3.6" height="3.6" fill="#b3cfdf"/>
<rect x="313.14" y="96.8" width="3.5" height="3.5" fill="#8bbde0"/>
<rect x="313.29" y="101.76" width="3.2" height="3.2" fill="#629bce"/>
<rect x="313.14" y="106.42" width="3.5" height="3.5" fill="#8bbde0"/>
<rect x="314.54" y="112.18" width="0.7" height="1.6" fill="#cfd8e2"/>
<rect x="313.29" y="116.19" width="3.2" height="3.2" fill="#629bce"/>
<rect x="314.24" y="122.15" width="1.3" height="0.9" fill="#9fb3c8"/>
<text x="320.2" y="22.2" font-size="4.3" fill="#222" text-anchor="middle" >21</text>
<rect x="318.25" y="24.45" width="3.9" height="3.9" fill="#f8aa55"/>
<rect x="318.25" y="29.26" width="3.9" height="3.9" fill="#f8aa55"/>
<rect x="318.25" y="34.07" width="3.9" height="3.9" fill="#f8aa55"/>
<rect x="318.3" y="38.93" width="3.8" height="3.8" fill="#f2cb99"/>
<rect x="318.3" y="43.74" width="3.8" height="3.8" fill="#f2cb99"/>
<rect x="318.35" y="48.6" width="3.7" height="3.7" fill="#d6d4cc"/>
<rect x="318.3" y="53.36" width="3.8" height="3.8" fill="#f2cb99"/>
<rect x="318.45" y="58.32" width="3.5" height="3.5" fill="#8bbde0"/>
<rect x="318.35" y="63.03" width="3.7" height="3.7" fill="#d6d4cc"/>
<rect x="318.45" y="67.94" width="3.5" height="3.5" fill="#8bbde0"/>
<rect x="318.6" y="72.9" width="3.2" height="3.2" fill="#629bce"/>
<rect x="319.05" y="78.16" width="2.3" height="2.3" fill="#3a74b2"/>
<circle cx="320.2" cy="79.31" r="0.7" fill="#111"/>
<rect x="318.6" y="82.52" width="3.2" height="3.2" fill="#629bce"/>
<rect x="318.45" y="87.18" width="3.5" height="3.5" fill="#8bbde0"/>
<rect x="318.45" y="91.99" width="3.5" height="3.5" fill="#8bbde0"/>
<rect x="318.45" y="96.8" width="3.5" height="3.5" fill="#8bbde0"/>
<rect x="318.45" y="101.61" width="3.5" height="3.5" fill="#8bbde0"/>
<rect x="318.6" y="106.57" width="3.2" height="3.2" fill="#629bce"/>
<rect x="319.85" y="112.18" width="0.7" height="1.6" fill="#cfd8e2"/>
<rect x="319.05" y="116.64" width="2.3" height="2.3" fill="#3a74b2"/>
<circle cx="320.2" cy="117.79" r="0.7" fill="#111"/>
<rect x="319.55" y="122.15" width="1.3" height="0.9" fill="#9fb3c8"/>
<text x="325.51" y="22.2" font-size="4.3" fill="#222" text-anchor="middle" >22</text>
<rect x="323.56" y="24.45" width="3.9" height="3.9" fill="#f8aa55"/>
<rect x="323.56" y="29.26" width="3.9" height="3.9" fill="#f8aa55"/>
<rect x="323.61" y="34.12" width="3.8" height="3.8" fill="#f2cb99"/>
<rect x="323.56" y="38.88" width="3.9" height="3.9" fill="#f8aa55"/>
<rect x="323.56" y="43.69" width="3.9" height="3.9" fill="#f8aa55"/>
<rect x="323.71" y="48.65" width="3.6" height="3.6" fill="#b3cfdf"/>
<rect x="323.76" y="53.51" width="3.5" height="3.5" fill="#8bbde0"/>
<rect x="323.76" y="58.32" width="3.5" height="3.5" fill="#8bbde0"/>
<rect x="323.71" y="63.08" width="3.6" height="3.6" fill="#b3cfdf"/>
<rect x="323.76" y="67.94" width="3.5" height="3.5" fill="#8bbde0"/>
<rect x="323.91" y="72.9" width="3.2" height="3.2" fill="#629bce"/>
<rect x="323.76" y="77.56" width="3.5" height="3.5" fill="#8bbde0"/>
<rect x="323.91" y="82.52" width="3.2" height="3.2" fill="#629bce"/>
<rect x="323.76" y="87.18" width="3.5" height="3.5" fill="#8bbde0"/>
<rect x="323.76" y="91.99" width="3.5" height="3.5" fill="#8bbde0"/>
<rect x="323.91" y="96.95" width="3.2" height="3.2" fill="#629bce"/>
<rect x="323.91" y="101.76" width="3.2" height="3.2" fill="#629bce"/>
<rect x="323.76" y="106.42" width="3.5" height="3.5" fill="#8bbde0"/>
<rect x="325.16" y="112.18" width="0.7" height="1.6" fill="#cfd8e2"/>
<rect x="323.76" y="116.04" width="3.5" height="3.5" fill="#8bbde0"/>
<rect x="324.86" y="122.15" width="1.3" height="0.9" fill="#9fb3c8"/>
<text x="330.82" y="22.2" font-size="4.3" fill="#222" text-anchor="middle" >23</text>
<rect x="328.87" y="24.45" width="3.9" height="3.9" fill="#f8aa55"/>
<rect x="328.87" y="29.26" width="3.9" height="3.9" fill="#f8aa55"/>
<rect x="328.92" y="34.12" width="3.8" height="3.8" fill="#f2cb99"/>
<rect x="328.87" y="38.88" width="3.9" height="3.9" fill="#f8aa55"/>
<rect x="328.92" y="43.74" width="3.8" height="3.8" fill="#f2cb99"/>
<rect x="328.87" y="48.5" width="3.9" height="3.9" fill="#f8aa55"/>
<rect x="328.92" y="53.36" width="3.8" height="3.8" fill="#f2cb99"/>
<rect x="329.07" y="58.32" width="3.5" height="3.5" fill="#8bbde0"/>
<rect x="328.92" y="62.98" width="3.8" height="3.8" fill="#f2cb99"/>
<rect x="329.07" y="67.94" width="3.5" height="3.5" fill="#8bbde0"/>
<rect x="329.22" y="72.9" width="3.2" height="3.2" fill="#629bce"/>
<rect x="329.67" y="78.16" width="2.3" height="2.3" fill="#3a74b2"/>
<circle cx="330.82" cy="79.31" r="0.7" fill="#111"/>
<rect x="329.22" y="82.52" width="3.2" height="3.2" fill="#629bce"/>
<rect x="329.07" y="87.18" width="3.5" height="3.5" fill="#8bbde0"/>
<rect x="329.07" y="91.99" width="3.5" height="3.5" fill="#8bbde0"/>
<rect x="329.07" y="96.8" width="3.5" height="3.5" fill="#8bbde0"/>
<rect x="329.22" y="101.76" width="3.2" height="3.2" fill="#629bce"/>
<rect x="329.22" y="106.57" width="3.2" height="3.2" fill="#629bce"/>
<rect x="330.47" y="112.18" width="0.7" height="1.6" fill="#cfd8e2"/>
<rect x="329.22" y="116.19" width="3.2" height="3.2" fill="#629bce"/>
<rect x="330.17" y="122.15" width="1.3" height="0.9" fill="#9fb3c8"/>
<text x="336.13" y="22.2" font-size="4.3" fill="#222" text-anchor="middle" >24</text>
<rect x="334.18" y="24.45" width="3.9" height="3.9" fill="#f8aa55"/>
<rect x="334.23" y="29.31" width="3.8" height="3.8" fill="#f2cb99"/>
<rect x="334.18" y="34.07" width="3.9" height="3.9" fill="#f8aa55"/>
<rect x="334.13" y="38.83" width="4" height="4" fill="#f3933a"/>
<rect x="334.38" y="43.89" width="3.5" height="3.5" fill="#8bbde0"/>
<rect x="334.38" y="48.7" width="3.5" height="3.5" fill="#8bbde0"/>
<rect x="334.38" y="53.51" width="3.5" height="3.5" fill="#8bbde0"/>
<rect x="334.38" y="58.32" width="3.5" height="3.5" fill="#8bbde0"/>
<rect x="334.13" y="62.88" width="4" height="4" fill="#f3933a"/>
<rect x="334.38" y="67.94" width="3.5" height="3.5" fill="#8bbde0"/>
<rect x="334.18" y="72.55" width="3.9" height="3.9" fill="#f8aa55"/>
<rect x="334.38" y="77.56" width="3.5" height="3.5" fill="#8bbde0"/>
<rect x="334.53" y="82.52" width="3.2" height="3.2" fill="#629bce"/>
<rect x="334.38" y="87.18" width="3.5" height="3.5" fill="#8bbde0"/>
<rect x="334.38" y="91.99" width="3.5" height="3.5" fill="#8bbde0"/>
<rect x="334.38" y="96.8" width="3.5" height="3.5" fill="#8bbde0"/>
<rect x="334.53" y="101.76" width="3.2" height="3.2" fill="#629bce"/>
<rect x="334.53" y="106.57" width="3.2" height="3.2" fill="#629bce"/>
<rect x="335.78" y="112.18" width="0.7" height="1.6" fill="#cfd8e2"/>
<rect x="334.38" y="116.04" width="3.5" height="3.5" fill="#8bbde0"/>
<rect x="334.98" y="121.45" width="2.3" height="2.3" fill="#3a74b2"/>
<text x="341.44" y="22.2" font-size="4.3" fill="#222" text-anchor="middle" >25</text>
<rect x="339.44" y="24.4" width="4" height="4" fill="#f3933a"/>
<rect x="339.54" y="29.31" width="3.8" height="3.8" fill="#f2cb99"/>
<rect x="339.69" y="34.27" width="3.5" height="3.5" fill="#8bbde0"/>
<rect x="339.54" y="38.93" width="3.8" height="3.8" fill="#f2cb99"/>
<rect x="339.49" y="43.69" width="3.9" height="3.9" fill="#f8aa55"/>
<rect x="339.54" y="48.55" width="3.8" height="3.8" fill="#f2cb99"/>
<rect x="339.64" y="53.46" width="3.6" height="3.6" fill="#b3cfdf"/>
<rect x="339.84" y="58.47" width="3.2" height="3.2" fill="#629bce"/>
<rect x="339.44" y="62.88" width="4" height="4" fill="#f3933a"/>
<rect x="339.84" y="68.09" width="3.2" height="3.2" fill="#629bce"/>
<rect x="339.69" y="72.75" width="3.5" height="3.5" fill="#8bbde0"/>
<rect x="339.59" y="77.46" width="3.7" height="3.7" fill="#d6d4cc"/>
<circle cx="341.44" cy="79.31" r="0.7" fill="#111"/>
<rect x="339.84" y="82.52" width="3.2" height="3.2" fill="#629bce"/>
<rect x="339.69" y="87.18" width="3.5" height="3.5" fill="#8bbde0"/>
<rect x="339.69" y="91.99" width="3.5" height="3.5" fill="#8bbde0"/>
<rect x="339.69" y="96.8" width="3.5" height="3.5" fill="#8bbde0"/>
<rect x="339.84" y="101.76" width="3.2" height="3.2" fill="#629bce"/>
<rect x="339.84" y="106.57" width="3.2" height="3.2" fill="#629bce"/>
<rect x="341.09" y="112.18" width="0.7" height="1.6" fill="#cfd8e2"/>
<rect x="339.69" y="116.04" width="3.5" height="3.5" fill="#8bbde0"/>
<rect x="340.79" y="122.15" width="1.3" height="0.9" fill="#9fb3c8"/>
<text x="346.75" y="22.2" font-size="4.3" fill="#222" text-anchor="middle" >26</text>
<rect x="344.75" y="24.4" width="4" height="4" fill="#f3933a"/>
<rect x="344.85" y="29.31" width="3.8" height="3.8" fill="#f2cb99"/>
<rect x="344.8" y="34.07" width="3.9" height="3.9" fill="#f8aa55"/>
<rect x="344.8" y="38.88" width="3.9" height="3.9" fill="#f8aa55"/>
<rect x="344.85" y="43.74" width="3.8" height="3.8" fill="#f2cb99"/>
<rect x="344.8" y="48.5" width="3.9" height="3.9" fill="#f8aa55"/>
<rect x="344.95" y="53.46" width="3.6" height="3.6" fill="#b3cfdf"/>
<rect x="345" y="58.32" width="3.5" height="3.5" fill="#8bbde0"/>
<rect x="344.85" y="62.98" width="3.8" height="3.8" fill="#f2cb99"/>
<rect x="345" y="67.94" width="3.5" height="3.5" fill="#8bbde0"/>
<rect x="345" y="72.75" width="3.5" height="3.5" fill="#8bbde0"/>
<rect x="345.15" y="77.71" width="3.2" height="3.2" fill="#629bce"/>
<rect x="345.15" y="82.52" width="3.2" height="3.2" fill="#629bce"/>
<rect x="345" y="87.18" width="3.5" height="3.5" fill="#8bbde0"/>
<rect x="345" y="91.99" width="3.5" height="3.5" fill="#8bbde0"/>
<rect x="345.15" y="96.95" width="3.2" height="3.2" fill="#629bce"/>
<rect x="345.15" y="101.76" width="3.2" height="3.2" fill="#629bce"/>
<rect x="345.15" y="106.57" width="3.2" height="3.2" fill="#629bce"/>
<rect x="346.4" y="112.18" width="0.7" height="1.6" fill="#cfd8e2"/>
<rect x="345" y="116.04" width="3.5" height="3.5" fill="#8bbde0"/>
<rect x="345" y="120.85" width="3.5" height="3.5" fill="#8bbde0"/>
<text x="352.06" y="22.2" font-size="4.3" fill="#222" text-anchor="middle" >27</text>
<rect x="350.11" y="24.45" width="3.9" height="3.9" fill="#f8aa55"/>
<rect x="350.11" y="29.26" width="3.9" height="3.9" fill="#f8aa55"/>
<rect x="350.16" y="34.12" width="3.8" height="3.8" fill="#f2cb99"/>
<rect x="350.16" y="38.93" width="3.8" height="3.8" fill="#f2cb99"/>
<rect x="350.11" y="43.69" width="3.9" height="3.9" fill="#f8aa55"/>
<rect x="350.11" y="48.5" width="3.9" height="3.9" fill="#f8aa55"/>
<rect x="350.16" y="53.36" width="3.8" height="3.8" fill="#f2cb99"/>
<rect x="350.31" y="58.32" width="3.5" height="3.5" fill="#8bbde0"/>
<rect x="350.21" y="63.03" width="3.7" height="3.7" fill="#d6d4cc"/>
<rect x="350.46" y="68.09" width="3.2" height="3.2" fill="#629bce"/>
<rect x="350.46" y="72.9" width="3.2" height="3.2" fill="#629bce"/>
<rect x="350.91" y="78.16" width="2.3" height="2.3" fill="#3a74b2"/>
<circle cx="352.06" cy="79.31" r="0.7" fill="#111"/>
<rect x="350.46" y="82.52" width="3.2" height="3.2" fill="#629bce"/>
<rect x="350.46" y="87.33" width="3.2" height="3.2" fill="#629bce"/>
<rect x="350.46" y="92.14" width="3.2" height="3.2" fill="#629bce"/>
<rect x="350.46" y="96.95" width="3.2" height="3.2" fill="#629bce"/>
<rect x="350.46" y="101.76" width="3.2" height="3.2" fill="#629bce"/>
<rect x="350.46" y="106.57" width="3.2" height="3.2" fill="#629bce"/>
<rect x="351.71" y="112.18" width="0.7" height="1.6" fill="#cfd8e2"/>
<rect x="350.31" y="116.04" width="3.5" height="3.5" fill="#8bbde0"/>
<rect x="351.41" y="122.15" width="1.3" height="0.9" fill="#9fb3c8"/>
<text x="357.37" y="22.2" font-size="4.3" fill="#222" text-anchor="middle" >28</text>
<rect x="355.42" y="24.45" width="3.9" height="3.9" fill="#f8aa55"/>
<rect x="355.52" y="29.36" width="3.7" height="3.7" fill="#d6d4cc"/>
<rect x="355.37" y="34.02" width="4" height="4" fill="#f3933a"/>
<rect x="355.42" y="38.88" width="3.9" height="3.9" fill="#f8aa55"/>
<rect x="355.47" y="43.74" width="3.8" height="3.8" fill="#f2cb99"/>
<rect x="355.42" y="48.5" width="3.9" height="3.9" fill="#f8aa55"/>
<rect x="355.52" y="53.41" width="3.7" height="3.7" fill="#d6d4cc"/>
<rect x="355.62" y="58.32" width="3.5" height="3.5" fill="#8bbde0"/>
<rect x="355.57" y="63.08" width="3.6" height="3.6" fill="#b3cfdf"/>
<rect x="355.77" y="68.09" width="3.2" height="3.2" fill="#629bce"/>
<rect x="355.62" y="72.75" width="3.5" height="3.5" fill="#8bbde0"/>
<rect x="355.62" y="77.56" width="3.5" height="3.5" fill="#8bbde0"/>
<rect x="355.77" y="82.52" width="3.2" height="3.2" fill="#629bce"/>
<rect x="355.77" y="87.33" width="3.2" height="3.2" fill="#629bce"/>
<rect x="355.62" y="91.99" width="3.5" height="3.5" fill="#8bbde0"/>
<rect x="355.77" y="96.95" width="3.2" height="3.2" fill="#629bce"/>
<rect x="355.77" y="101.76" width="3.2" height="3.2" fill="#629bce"/>
<rect x="355.77" y="106.57" width="3.2" height="3.2" fill="#629bce"/>
<rect x="357.02" y="112.18" width="0.7" height="1.6" fill="#cfd8e2"/>
<rect x="356.22" y="116.64" width="2.3" height="2.3" fill="#3a74b2"/>
<circle cx="357.37" cy="117.79" r="0.7" fill="#111"/>
<rect x="356.72" y="122.15" width="1.3" height="0.9" fill="#9fb3c8"/>
<text x="362.68" y="22.2" font-size="4.3" fill="#222" text-anchor="middle" >29</text>
<rect x="360.73" y="24.45" width="3.9" height="3.9" fill="#f8aa55"/>
<rect x="360.73" y="29.26" width="3.9" height="3.9" fill="#f8aa55"/>
<rect x="360.88" y="34.22" width="3.6" height="3.6" fill="#b3cfdf"/>
<rect x="360.78" y="38.93" width="3.8" height="3.8" fill="#f2cb99"/>
<rect x="360.93" y="43.89" width="3.5" height="3.5" fill="#8bbde0"/>
<rect x="360.83" y="48.6" width="3.7" height="3.7" fill="#d6d4cc"/>
<rect x="360.88" y="53.46" width="3.6" height="3.6" fill="#b3cfdf"/>
<rect x="360.78" y="58.17" width="3.8" height="3.8" fill="#f2cb99"/>
<rect x="360.73" y="62.93" width="3.9" height="3.9" fill="#f8aa55"/>
<rect x="360.93" y="67.94" width="3.5" height="3.5" fill="#8bbde0"/>
<rect x="360.93" y="72.75" width="3.5" height="3.5" fill="#8bbde0"/>
<rect x="360.93" y="77.56" width="3.5" height="3.5" fill="#8bbde0"/>
<rect x="361.08" y="82.52" width="3.2" height="3.2" fill="#629bce"/>
<rect x="360.93" y="87.18" width="3.5" height="3.5" fill="#8bbde0"/>
<rect x="360.93" y="91.99" width="3.5" height="3.5" fill="#8bbde0"/>
<rect x="361.08" y="96.95" width="3.2" height="3.2" fill="#629bce"/>
<rect x="361.08" y="101.76" width="3.2" height="3.2" fill="#629bce"/>
<rect x="360.93" y="106.42" width="3.5" height="3.5" fill="#8bbde0"/>
<rect x="362.33" y="112.18" width="0.7" height="1.6" fill="#cfd8e2"/>
<rect x="360.93" y="116.04" width="3.5" height="3.5" fill="#8bbde0"/>
<rect x="362.03" y="122.15" width="1.3" height="0.9" fill="#9fb3c8"/>
<text x="367.99" y="22.2" font-size="4.3" fill="#222" text-anchor="middle" >30</text>
<rect x="365.99" y="24.4" width="4" height="4" fill="#f3933a"/>
<rect x="366.04" y="29.26" width="3.9" height="3.9" fill="#f8aa55"/>
<rect x="366.24" y="34.27" width="3.5" height="3.5" fill="#8bbde0"/>
<rect x="366.04" y="38.88" width="3.9" height="3.9" fill="#f8aa55"/>
<rect x="366.14" y="43.79" width="3.7" height="3.7" fill="#d6d4cc"/>
<rect x="366.09" y="48.55" width="3.8" height="3.8" fill="#f2cb99"/>
<rect x="366.24" y="53.51" width="3.5" height="3.5" fill="#8bbde0"/>
<rect x="366.39" y="58.47" width="3.2" height="3.2" fill="#629bce"/>
<rect x="366.04" y="62.93" width="3.9" height="3.9" fill="#f8aa55"/>
<rect x="366.24" y="67.94" width="3.5" height="3.5" fill="#8bbde0"/>
<rect x="366.19" y="72.7" width="3.6" height="3.6" fill="#b3cfdf"/>
<rect x="366.39" y="77.71" width="3.2" height="3.2" fill="#629bce"/>
<rect x="366.39" y="82.52" width="3.2" height="3.2" fill="#629bce"/>
<rect x="366.39" y="87.33" width="3.2" height="3.2" fill="#629bce"/>
<rect x="366.24" y="91.99" width="3.5" height="3.5" fill="#8bbde0"/>
<rect x="366.39" y="96.95" width="3.2" height="3.2" fill="#629bce"/>
<rect x="366.39" y="101.76" width="3.2" height="3.2" fill="#629bce"/>
<rect x="366.39" y="106.57" width="3.2" height="3.2" fill="#629bce"/>
<rect x="367.64" y="112.18" width="0.7" height="1.6" fill="#cfd8e2"/>
<rect x="366.39" y="116.19" width="3.2" height="3.2" fill="#629bce"/>
<rect x="366.39" y="121" width="3.2" height="3.2" fill="#629bce"/>
<text x="291" y="17.6" font-size="3.6" fill="#555" text-anchor="middle" >Colorec</text>
<text x="373.2" y="22.2" font-size="4.3" fill="#222" text-anchor="middle" >1</text>
<rect x="371.25" y="24.45" width="3.9" height="3.9" fill="#f8aa55"/>
<rect x="371.25" y="29.26" width="3.9" height="3.9" fill="#f8aa55"/>
<rect x="371.2" y="34.02" width="4" height="4" fill="#f3933a"/>
<rect x="371.2" y="38.83" width="4" height="4" fill="#f3933a"/>
<rect x="371.25" y="43.69" width="3.9" height="3.9" fill="#f8aa55"/>
<rect x="371.25" y="48.5" width="3.9" height="3.9" fill="#f8aa55"/>
<rect x="371.25" y="53.31" width="3.9" height="3.9" fill="#f8aa55"/>
<rect x="371.45" y="58.32" width="3.5" height="3.5" fill="#8bbde0"/>
<rect x="371.3" y="62.98" width="3.8" height="3.8" fill="#f2cb99"/>
<rect x="371.6" y="68.09" width="3.2" height="3.2" fill="#629bce"/>
<rect x="371.6" y="72.9" width="3.2" height="3.2" fill="#629bce"/>
<rect x="372.05" y="78.16" width="2.3" height="2.3" fill="#3a74b2"/>
<circle cx="373.2" cy="79.31" r="0.7" fill="#111"/>
<rect x="371.6" y="82.52" width="3.2" height="3.2" fill="#629bce"/>
<rect x="371.6" y="87.33" width="3.2" height="3.2" fill="#629bce"/>
<rect x="371.6" y="92.14" width="3.2" height="3.2" fill="#629bce"/>
<rect x="372.55" y="98.1" width="1.3" height="0.9" fill="#9fb3c8"/>
<rect x="372.55" y="102.91" width="1.3" height="0.9" fill="#9fb3c8"/>
<rect x="371.6" y="106.57" width="3.2" height="3.2" fill="#629bce"/>
<rect x="372.85" y="112.18" width="0.7" height="1.6" fill="#cfd8e2"/>
<rect x="371.3" y="115.89" width="3.8" height="3.8" fill="#f2cb99"/>
<rect x="372.55" y="122.15" width="1.3" height="0.9" fill="#9fb3c8"/>
<text x="378.5" y="22.2" font-size="4.3" fill="#222" text-anchor="middle" >1</text>
<rect x="376.5" y="24.4" width="4" height="4" fill="#f3933a"/>
<rect x="376.55" y="29.26" width="3.9" height="3.9" fill="#f8aa55"/>
<rect x="376.55" y="34.07" width="3.9" height="3.9" fill="#f8aa55"/>
<rect x="376.55" y="38.88" width="3.9" height="3.9" fill="#f8aa55"/>
<rect x="376.55" y="43.69" width="3.9" height="3.9" fill="#f8aa55"/>
<rect x="376.55" y="48.5" width="3.9" height="3.9" fill="#f8aa55"/>
<rect x="376.55" y="53.31" width="3.9" height="3.9" fill="#f8aa55"/>
<rect x="376.75" y="58.32" width="3.5" height="3.5" fill="#8bbde0"/>
<rect x="376.75" y="63.13" width="3.5" height="3.5" fill="#8bbde0"/>
<rect x="376.7" y="67.89" width="3.6" height="3.6" fill="#b3cfdf"/>
<rect x="376.75" y="72.75" width="3.5" height="3.5" fill="#8bbde0"/>
<rect x="376.7" y="77.51" width="3.6" height="3.6" fill="#b3cfdf"/>
<circle cx="378.5" cy="79.31" r="0.7" fill="#111"/>
<rect x="377.85" y="83.67" width="1.3" height="0.9" fill="#9fb3c8"/>
<rect x="376.75" y="87.18" width="3.5" height="3.5" fill="#8bbde0"/>
<rect x="377.85" y="93.29" width="1.3" height="0.9" fill="#9fb3c8"/>
<rect x="377.85" y="98.1" width="1.3" height="0.9" fill="#9fb3c8"/>
<rect x="377.85" y="102.91" width="1.3" height="0.9" fill="#9fb3c8"/>
<rect x="376.75" y="106.42" width="3.5" height="3.5" fill="#8bbde0"/>
<rect x="378.15" y="112.18" width="0.7" height="1.6" fill="#cfd8e2"/>
<rect x="376.75" y="116.04" width="3.5" height="3.5" fill="#8bbde0"/>
<rect x="377.85" y="122.15" width="1.3" height="0.9" fill="#9fb3c8"/>
<text x="383.7" y="22.2" font-size="4.3" fill="#222" text-anchor="middle" >1</text>
<rect x="381.75" y="24.45" width="3.9" height="3.9" fill="#f8aa55"/>
<rect x="381.75" y="29.26" width="3.9" height="3.9" fill="#f8aa55"/>
<rect x="381.95" y="34.27" width="3.5" height="3.5" fill="#8bbde0"/>
<rect x="381.8" y="38.93" width="3.8" height="3.8" fill="#f2cb99"/>
<rect x="381.95" y="43.89" width="3.5" height="3.5" fill="#8bbde0"/>
<rect x="381.95" y="48.7" width="3.5" height="3.5" fill="#8bbde0"/>
<rect x="382.1" y="53.66" width="3.2" height="3.2" fill="#629bce"/>
<rect x="381.85" y="58.22" width="3.7" height="3.7" fill="#d6d4cc"/>
<rect x="381.95" y="63.13" width="3.5" height="3.5" fill="#8bbde0"/>
<rect x="381.85" y="67.84" width="3.7" height="3.7" fill="#d6d4cc"/>
<rect x="382.1" y="72.9" width="3.2" height="3.2" fill="#629bce"/>
<rect x="381.75" y="77.36" width="3.9" height="3.9" fill="#f8aa55"/>
<circle cx="383.7" cy="79.31" r="0.7" fill="#111"/>
<rect x="383.05" y="83.67" width="1.3" height="0.9" fill="#9fb3c8"/>
<rect x="381.95" y="87.18" width="3.5" height="3.5" fill="#8bbde0"/>
<rect x="383.05" y="93.29" width="1.3" height="0.9" fill="#9fb3c8"/>
<rect x="381.95" y="96.8" width="3.5" height="3.5" fill="#8bbde0"/>
<rect x="381.85" y="101.51" width="3.7" height="3.7" fill="#d6d4cc"/>
<rect x="381.9" y="106.37" width="3.6" height="3.6" fill="#b3cfdf"/>
<rect x="383.35" y="112.18" width="0.7" height="1.6" fill="#cfd8e2"/>
<rect x="382.55" y="116.64" width="2.3" height="2.3" fill="#3a74b2"/>
<circle cx="383.7" cy="117.79" r="0.7" fill="#111"/>
<rect x="383.05" y="122.15" width="1.3" height="0.9" fill="#9fb3c8"/>
<text x="388.97" y="22.2" font-size="4.3" fill="#222" text-anchor="middle" >2</text>
<rect x="387.07" y="24.5" width="3.8" height="3.8" fill="#f2cb99"/>
<rect x="387.07" y="29.31" width="3.8" height="3.8" fill="#f2cb99"/>
<rect x="387.22" y="34.27" width="3.5" height="3.5" fill="#8bbde0"/>
<rect x="387.22" y="39.08" width="3.5" height="3.5" fill="#8bbde0"/>
<rect x="387.22" y="43.89" width="3.5" height="3.5" fill="#8bbde0"/>
<rect x="387.22" y="48.7" width="3.5" height="3.5" fill="#8bbde0"/>
<rect x="387.22" y="53.51" width="3.5" height="3.5" fill="#8bbde0"/>
<rect x="387.17" y="58.27" width="3.6" height="3.6" fill="#b3cfdf"/>
<rect x="387.22" y="63.13" width="3.5" height="3.5" fill="#8bbde0"/>
<rect x="387.17" y="67.89" width="3.6" height="3.6" fill="#b3cfdf"/>
<rect x="387.22" y="72.75" width="3.5" height="3.5" fill="#8bbde0"/>
<rect x="387.02" y="77.36" width="3.9" height="3.9" fill="#f8aa55"/>
<circle cx="388.97" cy="79.31" r="0.7" fill="#111"/>
<rect x="388.32" y="83.67" width="1.3" height="0.9" fill="#9fb3c8"/>
<rect x="387.22" y="87.18" width="3.5" height="3.5" fill="#8bbde0"/>
<rect x="388.32" y="93.29" width="1.3" height="0.9" fill="#9fb3c8"/>
<rect x="387.22" y="96.8" width="3.5" height="3.5" fill="#8bbde0"/>
<rect x="387.07" y="101.46" width="3.8" height="3.8" fill="#f2cb99"/>
<rect x="387.02" y="106.22" width="3.9" height="3.9" fill="#f8aa55"/>
<rect x="388.62" y="112.18" width="0.7" height="1.6" fill="#cfd8e2"/>
<rect x="387.82" y="116.64" width="2.3" height="2.3" fill="#3a74b2"/>
<circle cx="388.97" cy="117.79" r="0.7" fill="#111"/>
<rect x="388.32" y="122.15" width="1.3" height="0.9" fill="#9fb3c8"/>
<text x="394.24" y="22.2" font-size="4.3" fill="#222" text-anchor="middle" >3</text>
<rect x="392.29" y="24.45" width="3.9" height="3.9" fill="#f8aa55"/>
<rect x="392.39" y="29.36" width="3.7" height="3.7" fill="#d6d4cc"/>
<rect x="392.49" y="34.27" width="3.5" height="3.5" fill="#8bbde0"/>
<rect x="392.44" y="39.03" width="3.6" height="3.6" fill="#b3cfdf"/>
<rect x="392.34" y="43.74" width="3.8" height="3.8" fill="#f2cb99"/>
<rect x="392.49" y="48.7" width="3.5" height="3.5" fill="#8bbde0"/>
<rect x="392.49" y="53.51" width="3.5" height="3.5" fill="#8bbde0"/>
<rect x="392.34" y="58.17" width="3.8" height="3.8" fill="#f2cb99"/>
<rect x="392.49" y="63.13" width="3.5" height="3.5" fill="#8bbde0"/>
<rect x="392.44" y="67.89" width="3.6" height="3.6" fill="#b3cfdf"/>
<rect x="392.64" y="72.9" width="3.2" height="3.2" fill="#629bce"/>
<rect x="392.34" y="77.41" width="3.8" height="3.8" fill="#f2cb99"/>
<circle cx="394.24" cy="79.31" r="0.7" fill="#111"/>
<rect x="393.59" y="83.67" width="1.3" height="0.9" fill="#9fb3c8"/>
<rect x="392.49" y="87.18" width="3.5" height="3.5" fill="#8bbde0"/>
<rect x="393.59" y="93.29" width="1.3" height="0.9" fill="#9fb3c8"/>
<rect x="392.64" y="96.95" width="3.2" height="3.2" fill="#629bce"/>
<rect x="392.39" y="101.51" width="3.7" height="3.7" fill="#d6d4cc"/>
<rect x="392.39" y="106.32" width="3.7" height="3.7" fill="#d6d4cc"/>
<rect x="393.89" y="112.18" width="0.7" height="1.6" fill="#cfd8e2"/>
<rect x="393.09" y="116.64" width="2.3" height="2.3" fill="#3a74b2"/>
<circle cx="394.24" cy="117.79" r="0.7" fill="#111"/>
<rect x="393.59" y="122.15" width="1.3" height="0.9" fill="#9fb3c8"/>
<text x="399.51" y="22.2" font-size="4.3" fill="#222" text-anchor="middle" >4</text>
<rect x="397.61" y="24.5" width="3.8" height="3.8" fill="#f2cb99"/>
<rect x="397.56" y="29.26" width="3.9" height="3.9" fill="#f8aa55"/>
<rect x="397.76" y="34.27" width="3.5" height="3.5" fill="#8bbde0"/>
<rect x="397.61" y="38.93" width="3.8" height="3.8" fill="#f2cb99"/>
<rect x="397.71" y="43.84" width="3.6" height="3.6" fill="#b3cfdf"/>
<rect x="397.76" y="48.7" width="3.5" height="3.5" fill="#8bbde0"/>
<rect x="397.76" y="53.51" width="3.5" height="3.5" fill="#8bbde0"/>
<rect x="397.61" y="58.17" width="3.8" height="3.8" fill="#f2cb99"/>
<rect x="397.71" y="63.08" width="3.6" height="3.6" fill="#b3cfdf"/>
<rect x="397.76" y="67.94" width="3.5" height="3.5" fill="#8bbde0"/>
<rect x="397.91" y="72.9" width="3.2" height="3.2" fill="#629bce"/>
<rect x="397.61" y="77.41" width="3.8" height="3.8" fill="#f2cb99"/>
<circle cx="399.51" cy="79.31" r="0.7" fill="#111"/>
<rect x="397.76" y="82.37" width="3.5" height="3.5" fill="#8bbde0"/>
<rect x="397.76" y="87.18" width="3.5" height="3.5" fill="#8bbde0"/>
<rect x="397.91" y="92.14" width="3.2" height="3.2" fill="#629bce"/>
<rect x="397.76" y="96.8" width="3.5" height="3.5" fill="#8bbde0"/>
<rect x="397.76" y="101.61" width="3.5" height="3.5" fill="#8bbde0"/>
<rect x="397.76" y="106.42" width="3.5" height="3.5" fill="#8bbde0"/>
<rect x="399.16" y="112.18" width="0.7" height="1.6" fill="#cfd8e2"/>
<rect x="397.76" y="116.04" width="3.5" height="3.5" fill="#8bbde0"/>
<rect x="398.86" y="122.15" width="1.3" height="0.9" fill="#9fb3c8"/>
<text x="404.78" y="22.2" font-size="4.3" fill="#222" text-anchor="middle" >5</text>
<rect x="402.83" y="24.45" width="3.9" height="3.9" fill="#f8aa55"/>
<rect x="402.88" y="29.31" width="3.8" height="3.8" fill="#f2cb99"/>
<rect x="403.03" y="34.27" width="3.5" height="3.5" fill="#8bbde0"/>
<rect x="403.03" y="39.08" width="3.5" height="3.5" fill="#8bbde0"/>
<rect x="403.03" y="43.89" width="3.5" height="3.5" fill="#8bbde0"/>
<rect x="403.03" y="48.7" width="3.5" height="3.5" fill="#8bbde0"/>
<rect x="403.18" y="53.66" width="3.2" height="3.2" fill="#629bce"/>
<rect x="402.83" y="58.12" width="3.9" height="3.9" fill="#f8aa55"/>
<rect x="403.18" y="63.28" width="3.2" height="3.2" fill="#629bce"/>
<rect x="402.98" y="67.89" width="3.6" height="3.6" fill="#b3cfdf"/>
<rect x="403.63" y="73.35" width="2.3" height="2.3" fill="#3a74b2"/>
<rect x="402.88" y="77.41" width="3.8" height="3.8" fill="#f2cb99"/>
<rect x="403.18" y="82.52" width="3.2" height="3.2" fill="#629bce"/>
<rect x="403.03" y="87.18" width="3.5" height="3.5" fill="#8bbde0"/>
<rect x="403.63" y="92.59" width="2.3" height="2.3" fill="#3a74b2"/>
<rect x="403.03" y="96.8" width="3.5" height="3.5" fill="#8bbde0"/>
<rect x="403.03" y="101.61" width="3.5" height="3.5" fill="#8bbde0"/>
<rect x="403.03" y="106.42" width="3.5" height="3.5" fill="#8bbde0"/>
<rect x="404.43" y="112.18" width="0.7" height="1.6" fill="#cfd8e2"/>
<rect x="403.03" y="116.04" width="3.5" height="3.5" fill="#8bbde0"/>
<rect x="403.03" y="120.85" width="3.5" height="3.5" fill="#8bbde0"/>
<text x="410.05" y="22.2" font-size="4.3" fill="#222" text-anchor="middle" >6</text>
<rect x="408.1" y="24.45" width="3.9" height="3.9" fill="#f8aa55"/>
<rect x="408.15" y="29.31" width="3.8" height="3.8" fill="#f2cb99"/>
<rect x="408.2" y="34.17" width="3.7" height="3.7" fill="#d6d4cc"/>
<rect x="408.3" y="39.08" width="3.5" height="3.5" fill="#8bbde0"/>
<rect x="408.25" y="43.84" width="3.6" height="3.6" fill="#b3cfdf"/>
<rect x="408.3" y="48.7" width="3.5" height="3.5" fill="#8bbde0"/>
<rect x="408.3" y="53.51" width="3.5" height="3.5" fill="#8bbde0"/>
<rect x="408.2" y="58.22" width="3.7" height="3.7" fill="#d6d4cc"/>
<rect x="408.45" y="63.28" width="3.2" height="3.2" fill="#629bce"/>
<rect x="408.3" y="67.94" width="3.5" height="3.5" fill="#8bbde0"/>
<rect x="408.3" y="72.75" width="3.5" height="3.5" fill="#8bbde0"/>
<rect x="408.1" y="77.36" width="3.9" height="3.9" fill="#f8aa55"/>
<rect x="408.45" y="82.52" width="3.2" height="3.2" fill="#629bce"/>
<rect x="408.3" y="87.18" width="3.5" height="3.5" fill="#8bbde0"/>
<rect x="408.45" y="92.14" width="3.2" height="3.2" fill="#629bce"/>
<rect x="408.3" y="96.8" width="3.5" height="3.5" fill="#8bbde0"/>
<rect x="408.45" y="101.76" width="3.2" height="3.2" fill="#629bce"/>
<rect x="408.3" y="106.42" width="3.5" height="3.5" fill="#8bbde0"/>
<rect x="409.7" y="112.18" width="0.7" height="1.6" fill="#cfd8e2"/>
<rect x="408.3" y="116.04" width="3.5" height="3.5" fill="#8bbde0"/>
<rect x="409.4" y="122.15" width="1.3" height="0.9" fill="#9fb3c8"/>
<text x="415.32" y="22.2" font-size="4.3" fill="#222" text-anchor="middle" >7</text>
<rect x="413.37" y="24.45" width="3.9" height="3.9" fill="#f8aa55"/>
<rect x="413.37" y="29.26" width="3.9" height="3.9" fill="#f8aa55"/>
<rect x="413.42" y="34.12" width="3.8" height="3.8" fill="#f2cb99"/>
<rect x="413.52" y="39.03" width="3.6" height="3.6" fill="#b3cfdf"/>
<rect x="413.42" y="43.74" width="3.8" height="3.8" fill="#f2cb99"/>
<rect x="413.57" y="48.7" width="3.5" height="3.5" fill="#8bbde0"/>
<rect x="413.57" y="53.51" width="3.5" height="3.5" fill="#8bbde0"/>
<rect x="413.42" y="58.17" width="3.8" height="3.8" fill="#f2cb99"/>
<rect x="413.72" y="63.28" width="3.2" height="3.2" fill="#629bce"/>
<rect x="413.72" y="68.09" width="3.2" height="3.2" fill="#629bce"/>
<rect x="413.72" y="72.9" width="3.2" height="3.2" fill="#629bce"/>
<rect x="413.42" y="77.41" width="3.8" height="3.8" fill="#f2cb99"/>
<rect x="413.72" y="82.52" width="3.2" height="3.2" fill="#629bce"/>
<rect x="413.72" y="87.33" width="3.2" height="3.2" fill="#629bce"/>
<rect x="413.72" y="92.14" width="3.2" height="3.2" fill="#629bce"/>
<rect x="413.72" y="96.95" width="3.2" height="3.2" fill="#629bce"/>
<rect x="413.72" y="101.76" width="3.2" height="3.2" fill="#629bce"/>
<rect x="413.72" y="106.57" width="3.2" height="3.2" fill="#629bce"/>
<rect x="414.97" y="112.18" width="0.7" height="1.6" fill="#cfd8e2"/>
<rect x="413.57" y="116.04" width="3.5" height="3.5" fill="#8bbde0"/>
<rect x="413.72" y="121" width="3.2" height="3.2" fill="#629bce"/>
<text x="420.59" y="22.2" font-size="4.3" fill="#222" text-anchor="middle" >8</text>
<rect x="418.64" y="24.45" width="3.9" height="3.9" fill="#f8aa55"/>
<rect x="418.74" y="29.36" width="3.7" height="3.7" fill="#d6d4cc"/>
<rect x="418.84" y="34.27" width="3.5" height="3.5" fill="#8bbde0"/>
<rect x="418.79" y="39.03" width="3.6" height="3.6" fill="#b3cfdf"/>
<rect x="418.84" y="43.89" width="3.5" height="3.5" fill="#8bbde0"/>
<rect x="418.84" y="48.7" width="3.5" height="3.5" fill="#8bbde0"/>
<rect x="418.99" y="53.66" width="3.2" height="3.2" fill="#629bce"/>
<rect x="418.79" y="58.27" width="3.6" height="3.6" fill="#b3cfdf"/>
<rect x="418.84" y="63.13" width="3.5" height="3.5" fill="#8bbde0"/>
<rect x="418.84" y="67.94" width="3.5" height="3.5" fill="#8bbde0"/>
<rect x="418.74" y="72.65" width="3.7" height="3.7" fill="#d6d4cc"/>
<rect x="418.74" y="77.46" width="3.7" height="3.7" fill="#d6d4cc"/>
<rect x="418.99" y="82.52" width="3.2" height="3.2" fill="#629bce"/>
<rect x="418.84" y="87.18" width="3.5" height="3.5" fill="#8bbde0"/>
<rect x="418.99" y="92.14" width="3.2" height="3.2" fill="#629bce"/>
<rect x="418.99" y="96.95" width="3.2" height="3.2" fill="#629bce"/>
<rect x="418.99" y="101.76" width="3.2" height="3.2" fill="#629bce"/>
<rect x="418.84" y="106.42" width="3.5" height="3.5" fill="#8bbde0"/>
<rect x="420.24" y="112.18" width="0.7" height="1.6" fill="#cfd8e2"/>
<rect x="418.84" y="116.04" width="3.5" height="3.5" fill="#8bbde0"/>
<rect x="419.94" y="122.15" width="1.3" height="0.9" fill="#9fb3c8"/>
<text x="402.14" y="17.6" font-size="3.6" fill="#555" text-anchor="middle" >UC</text>
<text x="426.3" y="22.2" font-size="4.3" fill="#222" text-anchor="middle" >1</text>
<rect x="424.35" y="24.45" width="3.9" height="3.9" fill="#f8aa55"/>
<rect x="424.35" y="29.26" width="3.9" height="3.9" fill="#f8aa55"/>
<rect x="424.45" y="34.17" width="3.7" height="3.7" fill="#d6d4cc"/>
<rect x="424.35" y="38.88" width="3.9" height="3.9" fill="#f8aa55"/>
<rect x="424.4" y="43.74" width="3.8" height="3.8" fill="#f2cb99"/>
<rect x="424.4" y="48.55" width="3.8" height="3.8" fill="#f2cb99"/>
<rect x="424.45" y="53.41" width="3.7" height="3.7" fill="#d6d4cc"/>
<rect x="424.5" y="58.27" width="3.6" height="3.6" fill="#b3cfdf"/>
<rect x="424.4" y="62.98" width="3.8" height="3.8" fill="#f2cb99"/>
<rect x="424.55" y="67.94" width="3.5" height="3.5" fill="#8bbde0"/>
<rect x="424.5" y="72.7" width="3.6" height="3.6" fill="#b3cfdf"/>
<rect x="424.4" y="77.41" width="3.8" height="3.8" fill="#f2cb99"/>
<circle cx="426.3" cy="79.31" r="0.7" fill="#111"/>
<rect x="425.65" y="83.67" width="1.3" height="0.9" fill="#9fb3c8"/>
<rect x="424.55" y="87.18" width="3.5" height="3.5" fill="#8bbde0"/>
<rect x="425.65" y="93.29" width="1.3" height="0.9" fill="#9fb3c8"/>
<rect x="424.7" y="96.95" width="3.2" height="3.2" fill="#629bce"/>
<rect x="424.7" y="101.76" width="3.2" height="3.2" fill="#629bce"/>
<rect x="424.55" y="106.42" width="3.5" height="3.5" fill="#8bbde0"/>
<rect x="425.95" y="112.18" width="0.7" height="1.6" fill="#cfd8e2"/>
<rect x="425.15" y="116.64" width="2.3" height="2.3" fill="#3a74b2"/>
<circle cx="426.3" cy="117.79" r="0.7" fill="#111"/>
<rect x="425.65" y="122.15" width="1.3" height="0.9" fill="#9fb3c8"/>
<text x="431.63" y="22.2" font-size="4.3" fill="#222" text-anchor="middle" >2</text>
<rect x="429.68" y="24.45" width="3.9" height="3.9" fill="#f8aa55"/>
<rect x="429.73" y="29.31" width="3.8" height="3.8" fill="#f2cb99"/>
<rect x="429.83" y="34.22" width="3.6" height="3.6" fill="#b3cfdf"/>
<rect x="429.63" y="38.83" width="4" height="4" fill="#f3933a"/>
<rect x="429.68" y="43.69" width="3.9" height="3.9" fill="#f8aa55"/>
<rect x="429.73" y="48.55" width="3.8" height="3.8" fill="#f2cb99"/>
<rect x="429.73" y="53.36" width="3.8" height="3.8" fill="#f2cb99"/>
<rect x="429.88" y="58.32" width="3.5" height="3.5" fill="#8bbde0"/>
<rect x="429.88" y="63.13" width="3.5" height="3.5" fill="#8bbde0"/>
<rect x="429.88" y="67.94" width="3.5" height="3.5" fill="#8bbde0"/>
<rect x="430.03" y="72.9" width="3.2" height="3.2" fill="#629bce"/>
<rect x="429.83" y="77.51" width="3.6" height="3.6" fill="#b3cfdf"/>
<circle cx="431.63" cy="79.31" r="0.7" fill="#111"/>
<rect x="430.98" y="83.67" width="1.3" height="0.9" fill="#9fb3c8"/>
<rect x="429.88" y="87.18" width="3.5" height="3.5" fill="#8bbde0"/>
<rect x="430.98" y="93.29" width="1.3" height="0.9" fill="#9fb3c8"/>
<rect x="429.88" y="96.8" width="3.5" height="3.5" fill="#8bbde0"/>
<rect x="430.03" y="101.76" width="3.2" height="3.2" fill="#629bce"/>
<rect x="430.03" y="106.57" width="3.2" height="3.2" fill="#629bce"/>
<rect x="431.28" y="112.18" width="0.7" height="1.6" fill="#cfd8e2"/>
<rect x="430.48" y="116.64" width="2.3" height="2.3" fill="#3a74b2"/>
<circle cx="431.63" cy="117.79" r="0.7" fill="#111"/>
<rect x="430.98" y="122.15" width="1.3" height="0.9" fill="#9fb3c8"/>
<text x="436.96" y="22.2" font-size="4.3" fill="#222" text-anchor="middle" >3</text>
<rect x="434.96" y="24.4" width="4" height="4" fill="#f3933a"/>
<rect x="434.96" y="29.21" width="4" height="4" fill="#f3933a"/>
<rect x="435.01" y="34.07" width="3.9" height="3.9" fill="#f8aa55"/>
<rect x="435.01" y="38.88" width="3.9" height="3.9" fill="#f8aa55"/>
<rect x="435.01" y="43.69" width="3.9" height="3.9" fill="#f8aa55"/>
<rect x="434.96" y="48.45" width="4" height="4" fill="#f3933a"/>
<rect x="435.06" y="53.36" width="3.8" height="3.8" fill="#f2cb99"/>
<rect x="435.21" y="58.32" width="3.5" height="3.5" fill="#8bbde0"/>
<rect x="435.16" y="63.08" width="3.6" height="3.6" fill="#b3cfdf"/>
<rect x="435.36" y="68.09" width="3.2" height="3.2" fill="#629bce"/>
<rect x="435.21" y="72.75" width="3.5" height="3.5" fill="#8bbde0"/>
<rect x="435.21" y="77.56" width="3.5" height="3.5" fill="#8bbde0"/>
<rect x="435.36" y="82.52" width="3.2" height="3.2" fill="#629bce"/>
<rect x="435.21" y="87.18" width="3.5" height="3.5" fill="#8bbde0"/>
<rect x="435.36" y="92.14" width="3.2" height="3.2" fill="#629bce"/>
<rect x="435.21" y="96.8" width="3.5" height="3.5" fill="#8bbde0"/>
<rect x="435.21" y="101.61" width="3.5" height="3.5" fill="#8bbde0"/>
<rect x="435.21" y="106.42" width="3.5" height="3.5" fill="#8bbde0"/>
<rect x="436.61" y="112.18" width="0.7" height="1.6" fill="#cfd8e2"/>
<rect x="435.81" y="116.64" width="2.3" height="2.3" fill="#3a74b2"/>
<rect x="436.31" y="122.15" width="1.3" height="0.9" fill="#9fb3c8"/>
<text x="442.29" y="22.2" font-size="4.3" fill="#222" text-anchor="middle" >4</text>
<rect x="440.39" y="24.5" width="3.8" height="3.8" fill="#f2cb99"/>
<rect x="440.34" y="29.26" width="3.9" height="3.9" fill="#f8aa55"/>
<rect x="440.34" y="34.07" width="3.9" height="3.9" fill="#f8aa55"/>
<rect x="440.34" y="38.88" width="3.9" height="3.9" fill="#f8aa55"/>
<rect x="440.39" y="43.74" width="3.8" height="3.8" fill="#f2cb99"/>
<rect x="440.49" y="48.65" width="3.6" height="3.6" fill="#b3cfdf"/>
<rect x="440.54" y="53.51" width="3.5" height="3.5" fill="#8bbde0"/>
<rect x="440.39" y="58.17" width="3.8" height="3.8" fill="#f2cb99"/>
<rect x="440.39" y="62.98" width="3.8" height="3.8" fill="#f2cb99"/>
<rect x="440.54" y="67.94" width="3.5" height="3.5" fill="#8bbde0"/>
<rect x="440.54" y="72.75" width="3.5" height="3.5" fill="#8bbde0"/>
<rect x="440.39" y="77.41" width="3.8" height="3.8" fill="#f2cb99"/>
<circle cx="442.29" cy="79.31" r="0.7" fill="#111"/>
<rect x="441.64" y="83.67" width="1.3" height="0.9" fill="#9fb3c8"/>
<rect x="440.54" y="87.18" width="3.5" height="3.5" fill="#8bbde0"/>
<rect x="441.64" y="93.29" width="1.3" height="0.9" fill="#9fb3c8"/>
<rect x="440.49" y="96.75" width="3.6" height="3.6" fill="#b3cfdf"/>
<rect x="440.69" y="101.76" width="3.2" height="3.2" fill="#629bce"/>
<rect x="440.54" y="106.42" width="3.5" height="3.5" fill="#8bbde0"/>
<rect x="441.94" y="112.18" width="0.7" height="1.6" fill="#cfd8e2"/>
<rect x="441.14" y="116.64" width="2.3" height="2.3" fill="#3a74b2"/>
<circle cx="442.29" cy="117.79" r="0.7" fill="#111"/>
<rect x="441.64" y="122.15" width="1.3" height="0.9" fill="#9fb3c8"/>
<text x="447.62" y="22.2" font-size="4.3" fill="#222" text-anchor="middle" >5</text>
<rect x="445.77" y="24.55" width="3.7" height="3.7" fill="#d6d4cc"/>
<rect x="445.62" y="29.21" width="4" height="4" fill="#f3933a"/>
<rect x="445.72" y="34.12" width="3.8" height="3.8" fill="#f2cb99"/>
<rect x="445.62" y="38.83" width="4" height="4" fill="#f3933a"/>
<rect x="445.67" y="43.69" width="3.9" height="3.9" fill="#f8aa55"/>
<rect x="445.67" y="48.5" width="3.9" height="3.9" fill="#f8aa55"/>
<rect x="445.72" y="53.36" width="3.8" height="3.8" fill="#f2cb99"/>
<rect x="445.87" y="58.32" width="3.5" height="3.5" fill="#8bbde0"/>
<rect x="445.72" y="62.98" width="3.8" height="3.8" fill="#f2cb99"/>
<rect x="446.02" y="68.09" width="3.2" height="3.2" fill="#629bce"/>
<rect x="446.02" y="72.9" width="3.2" height="3.2" fill="#629bce"/>
<rect x="445.87" y="77.56" width="3.5" height="3.5" fill="#8bbde0"/>
<rect x="446.02" y="82.52" width="3.2" height="3.2" fill="#629bce"/>
<rect x="445.87" y="87.18" width="3.5" height="3.5" fill="#8bbde0"/>
<rect x="446.02" y="92.14" width="3.2" height="3.2" fill="#629bce"/>
<rect x="446.02" y="96.95" width="3.2" height="3.2" fill="#629bce"/>
<rect x="446.02" y="101.76" width="3.2" height="3.2" fill="#629bce"/>
<rect x="446.02" y="106.57" width="3.2" height="3.2" fill="#629bce"/>
<rect x="447.27" y="112.18" width="0.7" height="1.6" fill="#cfd8e2"/>
<rect x="445.87" y="116.04" width="3.5" height="3.5" fill="#8bbde0"/>
<rect x="446.97" y="122.15" width="1.3" height="0.9" fill="#9fb3c8"/>
<text x="452.95" y="22.2" font-size="4.3" fill="#222" text-anchor="middle" >6</text>
<rect x="451" y="24.45" width="3.9" height="3.9" fill="#f8aa55"/>
<rect x="451" y="29.26" width="3.9" height="3.9" fill="#f8aa55"/>
<rect x="451" y="34.07" width="3.9" height="3.9" fill="#f8aa55"/>
<rect x="451.05" y="38.93" width="3.8" height="3.8" fill="#f2cb99"/>
<rect x="451.05" y="43.74" width="3.8" height="3.8" fill="#f2cb99"/>
<rect x="451" y="48.5" width="3.9" height="3.9" fill="#f8aa55"/>
<rect x="451.05" y="53.36" width="3.8" height="3.8" fill="#f2cb99"/>
<rect x="451.2" y="58.32" width="3.5" height="3.5" fill="#8bbde0"/>
<rect x="451.05" y="62.98" width="3.8" height="3.8" fill="#f2cb99"/>
<rect x="451.35" y="68.09" width="3.2" height="3.2" fill="#629bce"/>
<rect x="451.35" y="72.9" width="3.2" height="3.2" fill="#629bce"/>
<rect x="451.1" y="77.46" width="3.7" height="3.7" fill="#d6d4cc"/>
<rect x="451.35" y="82.52" width="3.2" height="3.2" fill="#629bce"/>
<rect x="451.2" y="87.18" width="3.5" height="3.5" fill="#8bbde0"/>
<rect x="451.35" y="92.14" width="3.2" height="3.2" fill="#629bce"/>
<rect x="451.2" y="96.8" width="3.5" height="3.5" fill="#8bbde0"/>
<rect x="451.2" y="101.61" width="3.5" height="3.5" fill="#8bbde0"/>
<rect x="451.2" y="106.42" width="3.5" height="3.5" fill="#8bbde0"/>
<rect x="452.6" y="112.18" width="0.7" height="1.6" fill="#cfd8e2"/>
<rect x="451.35" y="116.19" width="3.2" height="3.2" fill="#629bce"/>
<rect x="452.3" y="122.15" width="1.3" height="0.9" fill="#9fb3c8"/>
<text x="458.28" y="22.2" font-size="4.3" fill="#222" text-anchor="middle" >7</text>
<rect x="456.53" y="24.65" width="3.5" height="3.5" fill="#8bbde0"/>
<rect x="456.33" y="29.26" width="3.9" height="3.9" fill="#f8aa55"/>
<rect x="456.38" y="34.12" width="3.8" height="3.8" fill="#f2cb99"/>
<rect x="456.28" y="38.83" width="4" height="4" fill="#f3933a"/>
<rect x="456.48" y="43.84" width="3.6" height="3.6" fill="#b3cfdf"/>
<rect x="456.33" y="48.5" width="3.9" height="3.9" fill="#f8aa55"/>
<rect x="456.33" y="53.31" width="3.9" height="3.9" fill="#f8aa55"/>
<rect x="456.68" y="58.47" width="3.2" height="3.2" fill="#629bce"/>
<rect x="456.48" y="63.08" width="3.6" height="3.6" fill="#b3cfdf"/>
<rect x="456.68" y="68.09" width="3.2" height="3.2" fill="#629bce"/>
<rect x="456.68" y="72.9" width="3.2" height="3.2" fill="#629bce"/>
<rect x="456.68" y="77.71" width="3.2" height="3.2" fill="#629bce"/>
<circle cx="458.28" cy="79.31" r="0.7" fill="#111"/>
<rect x="457.63" y="83.67" width="1.3" height="0.9" fill="#9fb3c8"/>
<rect x="456.53" y="87.18" width="3.5" height="3.5" fill="#8bbde0"/>
<rect x="457.63" y="93.29" width="1.3" height="0.9" fill="#9fb3c8"/>
<rect x="456.53" y="96.8" width="3.5" height="3.5" fill="#8bbde0"/>
<rect x="456.68" y="101.76" width="3.2" height="3.2" fill="#629bce"/>
<rect x="456.68" y="106.57" width="3.2" height="3.2" fill="#629bce"/>
<rect x="457.93" y="112.18" width="0.7" height="1.6" fill="#cfd8e2"/>
<rect x="457.13" y="116.64" width="2.3" height="2.3" fill="#3a74b2"/>
<circle cx="458.28" cy="117.79" r="0.7" fill="#111"/>
<rect x="457.63" y="122.15" width="1.3" height="0.9" fill="#9fb3c8"/>
<text x="463.61" y="22.2" font-size="4.3" fill="#222" text-anchor="middle" >8</text>
<rect x="461.71" y="24.5" width="3.8" height="3.8" fill="#f2cb99"/>
<rect x="461.66" y="29.26" width="3.9" height="3.9" fill="#f8aa55"/>
<rect x="461.66" y="34.07" width="3.9" height="3.9" fill="#f8aa55"/>
<rect x="461.61" y="38.83" width="4" height="4" fill="#f3933a"/>
<rect x="461.66" y="43.69" width="3.9" height="3.9" fill="#f8aa55"/>
<rect x="461.66" y="48.5" width="3.9" height="3.9" fill="#f8aa55"/>
<rect x="461.71" y="53.36" width="3.8" height="3.8" fill="#f2cb99"/>
<rect x="461.86" y="58.32" width="3.5" height="3.5" fill="#8bbde0"/>
<rect x="461.66" y="62.93" width="3.9" height="3.9" fill="#f8aa55"/>
<rect x="461.86" y="67.94" width="3.5" height="3.5" fill="#8bbde0"/>
<rect x="462.01" y="72.9" width="3.2" height="3.2" fill="#629bce"/>
<rect x="462.01" y="77.71" width="3.2" height="3.2" fill="#629bce"/>
<circle cx="463.61" cy="79.31" r="0.7" fill="#111"/>
<rect x="462.01" y="82.52" width="3.2" height="3.2" fill="#629bce"/>
<rect x="461.86" y="87.18" width="3.5" height="3.5" fill="#8bbde0"/>
<rect x="462.01" y="92.14" width="3.2" height="3.2" fill="#629bce"/>
<rect x="461.86" y="96.8" width="3.5" height="3.5" fill="#8bbde0"/>
<rect x="461.86" y="101.61" width="3.5" height="3.5" fill="#8bbde0"/>
<rect x="461.86" y="106.42" width="3.5" height="3.5" fill="#8bbde0"/>
<rect x="463.26" y="112.18" width="0.7" height="1.6" fill="#cfd8e2"/>
<rect x="462.46" y="116.64" width="2.3" height="2.3" fill="#3a74b2"/>
<circle cx="463.61" cy="117.79" r="0.7" fill="#111"/>
<rect x="462.96" y="122.15" width="1.3" height="0.9" fill="#9fb3c8"/>
<text x="468.94" y="22.2" font-size="4.3" fill="#222" text-anchor="middle" >9</text>
<rect x="466.94" y="24.4" width="4" height="4" fill="#f3933a"/>
<rect x="467.09" y="29.36" width="3.7" height="3.7" fill="#d6d4cc"/>
<rect x="467.04" y="34.12" width="3.8" height="3.8" fill="#f2cb99"/>
<rect x="466.89" y="38.78" width="4.1" height="4.1" fill="#ec7d26"/>
<rect x="466.99" y="43.69" width="3.9" height="3.9" fill="#f8aa55"/>
<rect x="466.99" y="48.5" width="3.9" height="3.9" fill="#f8aa55"/>
<rect x="466.99" y="53.31" width="3.9" height="3.9" fill="#f8aa55"/>
<rect x="467.34" y="58.47" width="3.2" height="3.2" fill="#629bce"/>
<rect x="466.99" y="62.93" width="3.9" height="3.9" fill="#f8aa55"/>
<rect x="467.19" y="67.94" width="3.5" height="3.5" fill="#8bbde0"/>
<rect x="467.34" y="72.9" width="3.2" height="3.2" fill="#629bce"/>
<rect x="467.79" y="78.16" width="2.3" height="2.3" fill="#3a74b2"/>
<circle cx="468.94" cy="79.31" r="0.7" fill="#111"/>
<rect x="467.34" y="82.52" width="3.2" height="3.2" fill="#629bce"/>
<rect x="467.19" y="87.18" width="3.5" height="3.5" fill="#8bbde0"/>
<rect x="467.34" y="92.14" width="3.2" height="3.2" fill="#629bce"/>
<rect x="467.34" y="96.95" width="3.2" height="3.2" fill="#629bce"/>
<rect x="467.34" y="101.76" width="3.2" height="3.2" fill="#629bce"/>
<rect x="467.19" y="106.42" width="3.5" height="3.5" fill="#8bbde0"/>
<rect x="468.59" y="112.18" width="0.7" height="1.6" fill="#cfd8e2"/>
<rect x="467.34" y="116.19" width="3.2" height="3.2" fill="#629bce"/>
<rect x="468.29" y="122.15" width="1.3" height="0.9" fill="#9fb3c8"/>
<text x="474.27" y="22.2" font-size="4.3" fill="#222" text-anchor="middle" >10</text>
<rect x="472.42" y="24.55" width="3.7" height="3.7" fill="#d6d4cc"/>
<rect x="472.37" y="29.31" width="3.8" height="3.8" fill="#f2cb99"/>
<rect x="472.52" y="34.27" width="3.5" height="3.5" fill="#8bbde0"/>
<rect x="472.32" y="38.88" width="3.9" height="3.9" fill="#f8aa55"/>
<rect x="472.37" y="43.74" width="3.8" height="3.8" fill="#f2cb99"/>
<rect x="472.42" y="48.6" width="3.7" height="3.7" fill="#d6d4cc"/>
<rect x="472.52" y="53.51" width="3.5" height="3.5" fill="#8bbde0"/>
<rect x="472.67" y="58.47" width="3.2" height="3.2" fill="#629bce"/>
<rect x="472.27" y="62.88" width="4" height="4" fill="#f3933a"/>
<rect x="472.52" y="67.94" width="3.5" height="3.5" fill="#8bbde0"/>
<rect x="472.47" y="72.7" width="3.6" height="3.6" fill="#b3cfdf"/>
<rect x="472.52" y="77.56" width="3.5" height="3.5" fill="#8bbde0"/>
<rect x="473.62" y="83.67" width="1.3" height="0.9" fill="#9fb3c8"/>
<rect x="472.52" y="87.18" width="3.5" height="3.5" fill="#8bbde0"/>
<rect x="473.62" y="93.29" width="1.3" height="0.9" fill="#9fb3c8"/>
<rect x="472.52" y="96.8" width="3.5" height="3.5" fill="#8bbde0"/>
<rect x="472.52" y="101.61" width="3.5" height="3.5" fill="#8bbde0"/>
<rect x="472.67" y="106.57" width="3.2" height="3.2" fill="#629bce"/>
<rect x="473.92" y="112.18" width="0.7" height="1.6" fill="#cfd8e2"/>
<rect x="472.67" y="116.19" width="3.2" height="3.2" fill="#629bce"/>
<rect x="473.62" y="122.15" width="1.3" height="0.9" fill="#9fb3c8"/>
<text x="479.6" y="22.2" font-size="4.3" fill="#222" text-anchor="middle" >11</text>
<rect x="477.85" y="24.65" width="3.5" height="3.5" fill="#8bbde0"/>
<rect x="477.65" y="29.26" width="3.9" height="3.9" fill="#f8aa55"/>
<rect x="477.65" y="34.07" width="3.9" height="3.9" fill="#f8aa55"/>
<rect x="477.7" y="38.93" width="3.8" height="3.8" fill="#f2cb99"/>
<rect x="477.65" y="43.69" width="3.9" height="3.9" fill="#f8aa55"/>
<rect x="477.85" y="48.7" width="3.5" height="3.5" fill="#8bbde0"/>
<rect x="477.85" y="53.51" width="3.5" height="3.5" fill="#8bbde0"/>
<rect x="477.85" y="58.32" width="3.5" height="3.5" fill="#8bbde0"/>
<rect x="477.65" y="62.93" width="3.9" height="3.9" fill="#f8aa55"/>
<rect x="478" y="68.09" width="3.2" height="3.2" fill="#629bce"/>
<rect x="477.85" y="72.75" width="3.5" height="3.5" fill="#8bbde0"/>
<rect x="478" y="77.71" width="3.2" height="3.2" fill="#629bce"/>
<circle cx="479.6" cy="79.31" r="0.7" fill="#111"/>
<rect x="478.95" y="83.67" width="1.3" height="0.9" fill="#9fb3c8"/>
<rect x="477.85" y="87.18" width="3.5" height="3.5" fill="#8bbde0"/>
<rect x="478.95" y="93.29" width="1.3" height="0.9" fill="#9fb3c8"/>
<rect x="477.85" y="96.8" width="3.5" height="3.5" fill="#8bbde0"/>
<rect x="478" y="101.76" width="3.2" height="3.2" fill="#629bce"/>
<rect x="478" y="106.57" width="3.2" height="3.2" fill="#629bce"/>
<rect x="479.25" y="112.18" width="0.7" height="1.6" fill="#cfd8e2"/>
<rect x="478.45" y="116.64" width="2.3" height="2.3" fill="#3a74b2"/>
<circle cx="479.6" cy="117.79" r="0.7" fill="#111"/>
<rect x="478.95" y="122.15" width="1.3" height="0.9" fill="#9fb3c8"/>
<text x="484.93" y="22.2" font-size="4.3" fill="#222" text-anchor="middle" >12</text>
<rect x="482.98" y="24.45" width="3.9" height="3.9" fill="#f8aa55"/>
<rect x="482.98" y="29.26" width="3.9" height="3.9" fill="#f8aa55"/>
<rect x="483.08" y="34.17" width="3.7" height="3.7" fill="#d6d4cc"/>
<rect x="482.98" y="38.88" width="3.9" height="3.9" fill="#f8aa55"/>
<rect x="483.03" y="43.74" width="3.8" height="3.8" fill="#f2cb99"/>
<rect x="482.98" y="48.5" width="3.9" height="3.9" fill="#f8aa55"/>
<rect x="482.98" y="53.31" width="3.9" height="3.9" fill="#f8aa55"/>
<rect x="483.13" y="58.27" width="3.6" height="3.6" fill="#b3cfdf"/>
<rect x="483.08" y="63.03" width="3.7" height="3.7" fill="#d6d4cc"/>
<rect x="483.18" y="67.94" width="3.5" height="3.5" fill="#8bbde0"/>
<rect x="483.78" y="73.35" width="2.3" height="2.3" fill="#3a74b2"/>
<rect x="483.08" y="77.46" width="3.7" height="3.7" fill="#d6d4cc"/>
<circle cx="484.93" cy="79.31" r="0.7" fill="#111"/>
<rect x="484.28" y="83.67" width="1.3" height="0.9" fill="#9fb3c8"/>
<rect x="483.18" y="87.18" width="3.5" height="3.5" fill="#8bbde0"/>
<rect x="484.28" y="93.29" width="1.3" height="0.9" fill="#9fb3c8"/>
<rect x="483.18" y="96.8" width="3.5" height="3.5" fill="#8bbde0"/>
<rect x="483.33" y="101.76" width="3.2" height="3.2" fill="#629bce"/>
<rect x="483.18" y="106.42" width="3.5" height="3.5" fill="#8bbde0"/>
<rect x="484.58" y="112.18" width="0.7" height="1.6" fill="#cfd8e2"/>
<rect x="483.33" y="116.19" width="3.2" height="3.2" fill="#629bce"/>
<rect x="484.28" y="122.15" width="1.3" height="0.9" fill="#9fb3c8"/>
<text x="490.26" y="22.2" font-size="4.3" fill="#222" text-anchor="middle" >13</text>
<rect x="488.31" y="24.45" width="3.9" height="3.9" fill="#f8aa55"/>
<rect x="488.31" y="29.26" width="3.9" height="3.9" fill="#f8aa55"/>
<rect x="488.41" y="34.17" width="3.7" height="3.7" fill="#d6d4cc"/>
<rect x="488.46" y="39.03" width="3.6" height="3.6" fill="#b3cfdf"/>
<rect x="488.41" y="43.79" width="3.7" height="3.7" fill="#d6d4cc"/>
<rect x="488.51" y="48.7" width="3.5" height="3.5" fill="#8bbde0"/>
<rect x="488.51" y="53.51" width="3.5" height="3.5" fill="#8bbde0"/>
<rect x="488.46" y="58.27" width="3.6" height="3.6" fill="#b3cfdf"/>
<rect x="488.46" y="63.08" width="3.6" height="3.6" fill="#b3cfdf"/>
<rect x="488.51" y="67.94" width="3.5" height="3.5" fill="#8bbde0"/>
<rect x="488.51" y="72.75" width="3.5" height="3.5" fill="#8bbde0"/>
<rect x="488.26" y="77.31" width="4" height="4" fill="#f3933a"/>
<circle cx="490.26" cy="79.31" r="0.7" fill="#111"/>
<rect x="489.61" y="83.67" width="1.3" height="0.9" fill="#9fb3c8"/>
<rect x="488.51" y="87.18" width="3.5" height="3.5" fill="#8bbde0"/>
<rect x="489.61" y="93.29" width="1.3" height="0.9" fill="#9fb3c8"/>
<rect x="488.51" y="96.8" width="3.5" height="3.5" fill="#8bbde0"/>
<rect x="488.51" y="101.61" width="3.5" height="3.5" fill="#8bbde0"/>
<rect x="488.51" y="106.42" width="3.5" height="3.5" fill="#8bbde0"/>
<rect x="489.91" y="112.18" width="0.7" height="1.6" fill="#cfd8e2"/>
<rect x="489.11" y="116.64" width="2.3" height="2.3" fill="#3a74b2"/>
<circle cx="490.26" cy="117.79" r="0.7" fill="#111"/>
<rect x="489.61" y="122.15" width="1.3" height="0.9" fill="#9fb3c8"/>
<text x="495.59" y="22.2" font-size="4.3" fill="#222" text-anchor="middle" >14</text>
<rect x="493.64" y="24.45" width="3.9" height="3.9" fill="#f8aa55"/>
<rect x="493.69" y="29.31" width="3.8" height="3.8" fill="#f2cb99"/>
<rect x="493.69" y="34.12" width="3.8" height="3.8" fill="#f2cb99"/>
<rect x="493.64" y="38.88" width="3.9" height="3.9" fill="#f8aa55"/>
<rect x="493.79" y="43.84" width="3.6" height="3.6" fill="#b3cfdf"/>
<rect x="493.69" y="48.55" width="3.8" height="3.8" fill="#f2cb99"/>
<rect x="493.74" y="53.41" width="3.7" height="3.7" fill="#d6d4cc"/>
<rect x="493.84" y="58.32" width="3.5" height="3.5" fill="#8bbde0"/>
<rect x="493.69" y="62.98" width="3.8" height="3.8" fill="#f2cb99"/>
<rect x="493.84" y="67.94" width="3.5" height="3.5" fill="#8bbde0"/>
<rect x="493.84" y="72.75" width="3.5" height="3.5" fill="#8bbde0"/>
<rect x="493.69" y="77.41" width="3.8" height="3.8" fill="#f2cb99"/>
<circle cx="495.59" cy="79.31" r="0.7" fill="#111"/>
<rect x="494.94" y="83.67" width="1.3" height="0.9" fill="#9fb3c8"/>
<rect x="493.84" y="87.18" width="3.5" height="3.5" fill="#8bbde0"/>
<rect x="494.94" y="93.29" width="1.3" height="0.9" fill="#9fb3c8"/>
<rect x="493.84" y="96.8" width="3.5" height="3.5" fill="#8bbde0"/>
<rect x="493.99" y="101.76" width="3.2" height="3.2" fill="#629bce"/>
<rect x="493.84" y="106.42" width="3.5" height="3.5" fill="#8bbde0"/>
<rect x="495.24" y="112.18" width="0.7" height="1.6" fill="#cfd8e2"/>
<rect x="494.44" y="116.64" width="2.3" height="2.3" fill="#3a74b2"/>
<circle cx="495.59" cy="117.79" r="0.7" fill="#111"/>
<rect x="494.94" y="122.15" width="1.3" height="0.9" fill="#9fb3c8"/>
<text x="500.92" y="22.2" font-size="4.3" fill="#222" text-anchor="middle" >15</text>
<rect x="499.07" y="24.55" width="3.7" height="3.7" fill="#d6d4cc"/>
<rect x="498.97" y="29.26" width="3.9" height="3.9" fill="#f8aa55"/>
<rect x="499.17" y="34.27" width="3.5" height="3.5" fill="#8bbde0"/>
<rect x="498.97" y="38.88" width="3.9" height="3.9" fill="#f8aa55"/>
<rect x="498.97" y="43.69" width="3.9" height="3.9" fill="#f8aa55"/>
<rect x="499.02" y="48.55" width="3.8" height="3.8" fill="#f2cb99"/>
<rect x="499.17" y="53.51" width="3.5" height="3.5" fill="#8bbde0"/>
<rect x="499.12" y="58.27" width="3.6" height="3.6" fill="#b3cfdf"/>
<rect x="499.17" y="63.13" width="3.5" height="3.5" fill="#8bbde0"/>
<rect x="499.32" y="68.09" width="3.2" height="3.2" fill="#629bce"/>
<rect x="499.17" y="72.75" width="3.5" height="3.5" fill="#8bbde0"/>
<rect x="499.07" y="77.46" width="3.7" height="3.7" fill="#d6d4cc"/>
<circle cx="500.92" cy="79.31" r="0.7" fill="#111"/>
<rect x="500.27" y="83.67" width="1.3" height="0.9" fill="#9fb3c8"/>
<rect x="499.17" y="87.18" width="3.5" height="3.5" fill="#8bbde0"/>
<rect x="500.27" y="93.29" width="1.3" height="0.9" fill="#9fb3c8"/>
<rect x="499.17" y="96.8" width="3.5" height="3.5" fill="#8bbde0"/>
<rect x="499.17" y="101.61" width="3.5" height="3.5" fill="#8bbde0"/>
<rect x="499.32" y="106.57" width="3.2" height="3.2" fill="#629bce"/>
<rect x="500.57" y="112.18" width="0.7" height="1.6" fill="#cfd8e2"/>
<rect x="499.77" y="116.64" width="2.3" height="2.3" fill="#3a74b2"/>
<circle cx="500.92" cy="117.79" r="0.7" fill="#111"/>
<rect x="500.27" y="122.15" width="1.3" height="0.9" fill="#9fb3c8"/>
<text x="506.25" y="22.2" font-size="4.3" fill="#222" text-anchor="middle" >16</text>
<rect x="504.5" y="24.65" width="3.5" height="3.5" fill="#8bbde0"/>
<rect x="504.3" y="29.26" width="3.9" height="3.9" fill="#f8aa55"/>
<rect x="504.5" y="34.27" width="3.5" height="3.5" fill="#8bbde0"/>
<rect x="504.3" y="38.88" width="3.9" height="3.9" fill="#f8aa55"/>
<rect x="504.5" y="43.89" width="3.5" height="3.5" fill="#8bbde0"/>
<rect x="504.5" y="48.7" width="3.5" height="3.5" fill="#8bbde0"/>
<rect x="504.5" y="53.51" width="3.5" height="3.5" fill="#8bbde0"/>
<rect x="504.35" y="58.17" width="3.8" height="3.8" fill="#f2cb99"/>
<rect x="504.45" y="63.08" width="3.6" height="3.6" fill="#b3cfdf"/>
<rect x="504.5" y="67.94" width="3.5" height="3.5" fill="#8bbde0"/>
<rect x="504.45" y="72.7" width="3.6" height="3.6" fill="#b3cfdf"/>
<rect x="504.3" y="77.36" width="3.9" height="3.9" fill="#f8aa55"/>
<circle cx="506.25" cy="79.31" r="0.7" fill="#111"/>
<rect x="505.6" y="83.67" width="1.3" height="0.9" fill="#9fb3c8"/>
<rect x="504.5" y="87.18" width="3.5" height="3.5" fill="#8bbde0"/>
<rect x="505.6" y="93.29" width="1.3" height="0.9" fill="#9fb3c8"/>
<rect x="504.5" y="96.8" width="3.5" height="3.5" fill="#8bbde0"/>
<rect x="504.65" y="101.76" width="3.2" height="3.2" fill="#629bce"/>
<rect x="504.65" y="106.57" width="3.2" height="3.2" fill="#629bce"/>
<rect x="505.9" y="112.18" width="0.7" height="1.6" fill="#cfd8e2"/>
<rect x="505.1" y="116.64" width="2.3" height="2.3" fill="#3a74b2"/>
<circle cx="506.25" cy="117.79" r="0.7" fill="#111"/>
<rect x="505.6" y="122.15" width="1.3" height="0.9" fill="#9fb3c8"/>
<text x="511.58" y="22.2" font-size="4.3" fill="#222" text-anchor="middle" >17</text>
<rect x="509.63" y="24.45" width="3.9" height="3.9" fill="#f8aa55"/>
<rect x="509.63" y="29.26" width="3.9" height="3.9" fill="#f8aa55"/>
<rect x="509.73" y="34.17" width="3.7" height="3.7" fill="#d6d4cc"/>
<rect x="509.63" y="38.88" width="3.9" height="3.9" fill="#f8aa55"/>
<rect x="509.63" y="43.69" width="3.9" height="3.9" fill="#f8aa55"/>
<rect x="509.63" y="48.5" width="3.9" height="3.9" fill="#f8aa55"/>
<rect x="509.68" y="53.36" width="3.8" height="3.8" fill="#f2cb99"/>
<rect x="509.83" y="58.32" width="3.5" height="3.5" fill="#8bbde0"/>
<rect x="509.63" y="62.93" width="3.9" height="3.9" fill="#f8aa55"/>
<rect x="509.83" y="67.94" width="3.5" height="3.5" fill="#8bbde0"/>
<rect x="509.83" y="72.75" width="3.5" height="3.5" fill="#8bbde0"/>
<rect x="509.73" y="77.46" width="3.7" height="3.7" fill="#d6d4cc"/>
<circle cx="511.58" cy="79.31" r="0.7" fill="#111"/>
<rect x="509.98" y="82.52" width="3.2" height="3.2" fill="#629bce"/>
<rect x="509.83" y="87.18" width="3.5" height="3.5" fill="#8bbde0"/>
<rect x="509.98" y="92.14" width="3.2" height="3.2" fill="#629bce"/>
<rect x="509.83" y="96.8" width="3.5" height="3.5" fill="#8bbde0"/>
<rect x="509.98" y="101.76" width="3.2" height="3.2" fill="#629bce"/>
<rect x="509.98" y="106.57" width="3.2" height="3.2" fill="#629bce"/>
<rect x="511.23" y="112.18" width="0.7" height="1.6" fill="#cfd8e2"/>
<rect x="510.43" y="116.64" width="2.3" height="2.3" fill="#3a74b2"/>
<rect x="510.93" y="122.15" width="1.3" height="0.9" fill="#9fb3c8"/>
<text x="516.91" y="22.2" font-size="4.3" fill="#222" text-anchor="middle" >18</text>
<rect x="515.16" y="24.65" width="3.5" height="3.5" fill="#8bbde0"/>
<rect x="514.96" y="29.26" width="3.9" height="3.9" fill="#f8aa55"/>
<rect x="515.11" y="34.22" width="3.6" height="3.6" fill="#b3cfdf"/>
<rect x="514.96" y="38.88" width="3.9" height="3.9" fill="#f8aa55"/>
<rect x="515.01" y="43.74" width="3.8" height="3.8" fill="#f2cb99"/>
<rect x="515.01" y="48.55" width="3.8" height="3.8" fill="#f2cb99"/>
<rect x="514.96" y="53.31" width="3.9" height="3.9" fill="#f8aa55"/>
<rect x="515.16" y="58.32" width="3.5" height="3.5" fill="#8bbde0"/>
<rect x="514.91" y="62.88" width="4" height="4" fill="#f3933a"/>
<rect x="515.16" y="67.94" width="3.5" height="3.5" fill="#8bbde0"/>
<rect x="515.31" y="72.9" width="3.2" height="3.2" fill="#629bce"/>
<rect x="514.96" y="77.36" width="3.9" height="3.9" fill="#f8aa55"/>
<circle cx="516.91" cy="79.31" r="0.7" fill="#111"/>
<rect x="515.31" y="82.52" width="3.2" height="3.2" fill="#629bce"/>
<rect x="515.16" y="87.18" width="3.5" height="3.5" fill="#8bbde0"/>
<rect x="515.16" y="91.99" width="3.5" height="3.5" fill="#8bbde0"/>
<rect x="515.16" y="96.8" width="3.5" height="3.5" fill="#8bbde0"/>
<rect x="515.16" y="101.61" width="3.5" height="3.5" fill="#8bbde0"/>
<rect x="515.16" y="106.42" width="3.5" height="3.5" fill="#8bbde0"/>
<rect x="516.56" y="112.18" width="0.7" height="1.6" fill="#cfd8e2"/>
<rect x="515.76" y="116.64" width="2.3" height="2.3" fill="#3a74b2"/>
<circle cx="516.91" cy="117.79" r="0.7" fill="#111"/>
<rect x="516.26" y="122.15" width="1.3" height="0.9" fill="#9fb3c8"/>
<text x="522.24" y="22.2" font-size="4.3" fill="#222" text-anchor="middle" >19</text>
<rect x="520.29" y="24.45" width="3.9" height="3.9" fill="#f8aa55"/>
<rect x="520.29" y="29.26" width="3.9" height="3.9" fill="#f8aa55"/>
<rect x="520.29" y="34.07" width="3.9" height="3.9" fill="#f8aa55"/>
<rect x="520.29" y="38.88" width="3.9" height="3.9" fill="#f8aa55"/>
<rect x="520.29" y="43.69" width="3.9" height="3.9" fill="#f8aa55"/>
<rect x="520.29" y="48.5" width="3.9" height="3.9" fill="#f8aa55"/>
<rect x="520.34" y="53.36" width="3.8" height="3.8" fill="#f2cb99"/>
<rect x="520.49" y="58.32" width="3.5" height="3.5" fill="#8bbde0"/>
<rect x="520.29" y="62.93" width="3.9" height="3.9" fill="#f8aa55"/>
<rect x="520.49" y="67.94" width="3.5" height="3.5" fill="#8bbde0"/>
<rect x="520.49" y="72.75" width="3.5" height="3.5" fill="#8bbde0"/>
<rect x="520.39" y="77.46" width="3.7" height="3.7" fill="#d6d4cc"/>
<circle cx="522.24" cy="79.31" r="0.7" fill="#111"/>
<rect x="521.59" y="83.67" width="1.3" height="0.9" fill="#9fb3c8"/>
<rect x="520.49" y="87.18" width="3.5" height="3.5" fill="#8bbde0"/>
<rect x="521.59" y="93.29" width="1.3" height="0.9" fill="#9fb3c8"/>
<rect x="520.49" y="96.8" width="3.5" height="3.5" fill="#8bbde0"/>
<rect x="520.49" y="101.61" width="3.5" height="3.5" fill="#8bbde0"/>
<rect x="520.49" y="106.42" width="3.5" height="3.5" fill="#8bbde0"/>
<rect x="521.89" y="112.18" width="0.7" height="1.6" fill="#cfd8e2"/>
<rect x="521.59" y="117.34" width="1.3" height="0.9" fill="#9fb3c8"/>
<rect x="521.59" y="122.15" width="1.3" height="0.9" fill="#9fb3c8"/>
<text x="527.57" y="22.2" font-size="4.3" fill="#222" text-anchor="middle" >20</text>
<rect x="525.67" y="24.5" width="3.8" height="3.8" fill="#f2cb99"/>
<rect x="525.62" y="29.26" width="3.9" height="3.9" fill="#f8aa55"/>
<rect x="525.67" y="34.12" width="3.8" height="3.8" fill="#f2cb99"/>
<rect x="525.57" y="38.83" width="4" height="4" fill="#f3933a"/>
<rect x="525.67" y="43.74" width="3.8" height="3.8" fill="#f2cb99"/>
<rect x="525.62" y="48.5" width="3.9" height="3.9" fill="#f8aa55"/>
<rect x="525.62" y="53.31" width="3.9" height="3.9" fill="#f8aa55"/>
<rect x="525.82" y="58.32" width="3.5" height="3.5" fill="#8bbde0"/>
<rect x="525.72" y="63.03" width="3.7" height="3.7" fill="#d6d4cc"/>
<rect x="525.97" y="68.09" width="3.2" height="3.2" fill="#629bce"/>
<rect x="525.82" y="72.75" width="3.5" height="3.5" fill="#8bbde0"/>
<rect x="525.72" y="77.46" width="3.7" height="3.7" fill="#d6d4cc"/>
<circle cx="527.57" cy="79.31" r="0.7" fill="#111"/>
<rect x="526.92" y="83.67" width="1.3" height="0.9" fill="#9fb3c8"/>
<rect x="525.82" y="87.18" width="3.5" height="3.5" fill="#8bbde0"/>
<rect x="526.92" y="93.29" width="1.3" height="0.9" fill="#9fb3c8"/>
<rect x="525.82" y="96.8" width="3.5" height="3.5" fill="#8bbde0"/>
<rect x="525.82" y="101.61" width="3.5" height="3.5" fill="#8bbde0"/>
<rect x="525.82" y="106.42" width="3.5" height="3.5" fill="#8bbde0"/>
<rect x="527.22" y="112.18" width="0.7" height="1.6" fill="#cfd8e2"/>
<rect x="526.42" y="116.64" width="2.3" height="2.3" fill="#3a74b2"/>
<circle cx="527.57" cy="117.79" r="0.7" fill="#111"/>
<rect x="526.92" y="122.15" width="1.3" height="0.9" fill="#9fb3c8"/>
<text x="476.94" y="17.6" font-size="3.6" fill="#555" text-anchor="middle" >LungCancer</text>
<text x="532.5" y="22.2" font-size="4.3" fill="#222" text-anchor="middle" >A</text>
<rect x="530.55" y="24.45" width="3.9" height="3.9" fill="#f8aa55"/>
<rect x="530.5" y="29.21" width="4" height="4" fill="#f3933a"/>
<rect x="530.6" y="34.12" width="3.8" height="3.8" fill="#f2cb99"/>
<rect x="530.5" y="38.83" width="4" height="4" fill="#f3933a"/>
<rect x="530.7" y="43.84" width="3.6" height="3.6" fill="#b3cfdf"/>
<rect x="530.55" y="48.5" width="3.9" height="3.9" fill="#f8aa55"/>
<rect x="530.65" y="53.41" width="3.7" height="3.7" fill="#d6d4cc"/>
<rect x="530.55" y="58.12" width="3.9" height="3.9" fill="#f8aa55"/>
<rect x="530.75" y="63.13" width="3.5" height="3.5" fill="#8bbde0"/>
<rect x="530.75" y="67.94" width="3.5" height="3.5" fill="#8bbde0"/>
<rect x="530.9" y="72.9" width="3.2" height="3.2" fill="#629bce"/>
<rect x="530.9" y="77.71" width="3.2" height="3.2" fill="#629bce"/>
<circle cx="532.5" cy="79.31" r="0.7" fill="#111"/>
<rect x="531.85" y="83.67" width="1.3" height="0.9" fill="#9fb3c8"/>
<rect x="530.75" y="87.18" width="3.5" height="3.5" fill="#8bbde0"/>
<rect x="531.85" y="93.29" width="1.3" height="0.9" fill="#9fb3c8"/>
<rect x="530.75" y="96.8" width="3.5" height="3.5" fill="#8bbde0"/>
<rect x="530.75" y="101.61" width="3.5" height="3.5" fill="#8bbde0"/>
<rect x="530.75" y="106.42" width="3.5" height="3.5" fill="#8bbde0"/>
<rect x="532.15" y="112.18" width="0.7" height="1.6" fill="#cfd8e2"/>
<rect x="531.35" y="116.64" width="2.3" height="2.3" fill="#3a74b2"/>
<circle cx="532.5" cy="117.79" r="0.7" fill="#111"/>
<rect x="531.85" y="122.15" width="1.3" height="0.9" fill="#9fb3c8"/>
<text x="537.83" y="22.2" font-size="4.3" fill="#222" text-anchor="middle" >B</text>
<rect x="535.88" y="24.45" width="3.9" height="3.9" fill="#f8aa55"/>
<rect x="535.83" y="29.21" width="4" height="4" fill="#f3933a"/>
<rect x="535.93" y="34.12" width="3.8" height="3.8" fill="#f2cb99"/>
<rect x="535.98" y="38.98" width="3.7" height="3.7" fill="#d6d4cc"/>
<rect x="536.08" y="43.89" width="3.5" height="3.5" fill="#8bbde0"/>
<rect x="535.93" y="48.55" width="3.8" height="3.8" fill="#f2cb99"/>
<rect x="535.88" y="53.31" width="3.9" height="3.9" fill="#f8aa55"/>
<rect x="535.88" y="58.12" width="3.9" height="3.9" fill="#f8aa55"/>
<rect x="535.98" y="63.03" width="3.7" height="3.7" fill="#d6d4cc"/>
<rect x="536.08" y="67.94" width="3.5" height="3.5" fill="#8bbde0"/>
<rect x="536.23" y="72.9" width="3.2" height="3.2" fill="#629bce"/>
<rect x="536.08" y="77.56" width="3.5" height="3.5" fill="#8bbde0"/>
<circle cx="537.83" cy="79.31" r="0.7" fill="#111"/>
<rect x="537.18" y="83.67" width="1.3" height="0.9" fill="#9fb3c8"/>
<rect x="536.08" y="87.18" width="3.5" height="3.5" fill="#8bbde0"/>
<rect x="537.18" y="93.29" width="1.3" height="0.9" fill="#9fb3c8"/>
<rect x="536.08" y="96.8" width="3.5" height="3.5" fill="#8bbde0"/>
<rect x="536.08" y="101.61" width="3.5" height="3.5" fill="#8bbde0"/>
<rect x="536.08" y="106.42" width="3.5" height="3.5" fill="#8bbde0"/>
<rect x="537.48" y="112.18" width="0.7" height="1.6" fill="#cfd8e2"/>
<rect x="536.68" y="116.64" width="2.3" height="2.3" fill="#3a74b2"/>
<circle cx="537.83" cy="117.79" r="0.7" fill="#111"/>
<rect x="537.18" y="122.15" width="1.3" height="0.9" fill="#9fb3c8"/>
<text x="543.16" y="22.2" font-size="4.3" fill="#222" text-anchor="middle" >C</text>
<rect x="541.26" y="24.5" width="3.8" height="3.8" fill="#f2cb99"/>
<rect x="541.26" y="29.31" width="3.8" height="3.8" fill="#f2cb99"/>
<rect x="541.26" y="34.12" width="3.8" height="3.8" fill="#f2cb99"/>
<rect x="541.26" y="38.93" width="3.8" height="3.8" fill="#f2cb99"/>
<rect x="541.21" y="43.69" width="3.9" height="3.9" fill="#f8aa55"/>
<rect x="541.26" y="48.55" width="3.8" height="3.8" fill="#f2cb99"/>
<rect x="541.31" y="53.41" width="3.7" height="3.7" fill="#d6d4cc"/>
<rect x="541.31" y="58.22" width="3.7" height="3.7" fill="#d6d4cc"/>
<rect x="541.21" y="62.93" width="3.9" height="3.9" fill="#f8aa55"/>
<rect x="541.41" y="67.94" width="3.5" height="3.5" fill="#8bbde0"/>
<rect x="541.41" y="72.75" width="3.5" height="3.5" fill="#8bbde0"/>
<rect x="541.31" y="77.46" width="3.7" height="3.7" fill="#d6d4cc"/>
<circle cx="543.16" cy="79.31" r="0.7" fill="#111"/>
<rect x="542.51" y="83.67" width="1.3" height="0.9" fill="#9fb3c8"/>
<rect x="541.41" y="87.18" width="3.5" height="3.5" fill="#8bbde0"/>
<rect x="542.51" y="93.29" width="1.3" height="0.9" fill="#9fb3c8"/>
<rect x="541.41" y="96.8" width="3.5" height="3.5" fill="#8bbde0"/>
<rect x="541.56" y="101.76" width="3.2" height="3.2" fill="#629bce"/>
<rect x="541.56" y="106.57" width="3.2" height="3.2" fill="#629bce"/>
<rect x="542.81" y="112.18" width="0.7" height="1.6" fill="#cfd8e2"/>
<rect x="542.01" y="116.64" width="2.3" height="2.3" fill="#3a74b2"/>
<circle cx="543.16" cy="117.79" r="0.7" fill="#111"/>
<rect x="542.51" y="122.15" width="1.3" height="0.9" fill="#9fb3c8"/>
<text x="548.49" y="22.2" font-size="4.3" fill="#222" text-anchor="middle" >H</text>
<rect x="546.59" y="24.5" width="3.8" height="3.8" fill="#f2cb99"/>
<rect x="546.54" y="29.26" width="3.9" height="3.9" fill="#f8aa55"/>
<rect x="546.54" y="34.07" width="3.9" height="3.9" fill="#f8aa55"/>
<rect x="546.54" y="38.88" width="3.9" height="3.9" fill="#f8aa55"/>
<rect x="546.59" y="43.74" width="3.8" height="3.8" fill="#f2cb99"/>
<rect x="546.54" y="48.5" width="3.9" height="3.9" fill="#f8aa55"/>
<rect x="546.54" y="53.31" width="3.9" height="3.9" fill="#f8aa55"/>
<rect x="546.69" y="58.27" width="3.6" height="3.6" fill="#b3cfdf"/>
<rect x="546.54" y="62.93" width="3.9" height="3.9" fill="#f8aa55"/>
<rect x="546.74" y="67.94" width="3.5" height="3.5" fill="#8bbde0"/>
<rect x="546.74" y="72.75" width="3.5" height="3.5" fill="#8bbde0"/>
<rect x="546.89" y="77.71" width="3.2" height="3.2" fill="#629bce"/>
<circle cx="548.49" cy="79.31" r="0.7" fill="#111"/>
<rect x="547.84" y="83.67" width="1.3" height="0.9" fill="#9fb3c8"/>
<rect x="546.74" y="87.18" width="3.5" height="3.5" fill="#8bbde0"/>
<rect x="547.84" y="93.29" width="1.3" height="0.9" fill="#9fb3c8"/>
<rect x="546.74" y="96.8" width="3.5" height="3.5" fill="#8bbde0"/>
<rect x="546.74" y="101.61" width="3.5" height="3.5" fill="#8bbde0"/>
<rect x="546.74" y="106.42" width="3.5" height="3.5" fill="#8bbde0"/>
<rect x="548.14" y="112.18" width="0.7" height="1.6" fill="#cfd8e2"/>
<rect x="547.34" y="116.64" width="2.3" height="2.3" fill="#3a74b2"/>
<circle cx="548.49" cy="117.79" r="0.7" fill="#111"/>
<rect x="547.84" y="122.15" width="1.3" height="0.9" fill="#9fb3c8"/>
<text x="553.82" y="22.2" font-size="4.3" fill="#222" text-anchor="middle" >J</text>
<rect x="552.07" y="24.65" width="3.5" height="3.5" fill="#8bbde0"/>
<rect x="551.82" y="29.21" width="4" height="4" fill="#f3933a"/>
<rect x="551.87" y="34.07" width="3.9" height="3.9" fill="#f8aa55"/>
<rect x="551.87" y="38.88" width="3.9" height="3.9" fill="#f8aa55"/>
<rect x="551.87" y="43.69" width="3.9" height="3.9" fill="#f8aa55"/>
<rect x="551.92" y="48.55" width="3.8" height="3.8" fill="#f2cb99"/>
<rect x="551.87" y="53.31" width="3.9" height="3.9" fill="#f8aa55"/>
<rect x="551.97" y="58.22" width="3.7" height="3.7" fill="#d6d4cc"/>
<rect x="551.92" y="62.98" width="3.8" height="3.8" fill="#f2cb99"/>
<rect x="552.07" y="67.94" width="3.5" height="3.5" fill="#8bbde0"/>
<rect x="552.07" y="72.75" width="3.5" height="3.5" fill="#8bbde0"/>
<rect x="552.22" y="77.71" width="3.2" height="3.2" fill="#629bce"/>
<circle cx="553.82" cy="79.31" r="0.7" fill="#111"/>
<rect x="553.17" y="83.67" width="1.3" height="0.9" fill="#9fb3c8"/>
<rect x="552.07" y="87.18" width="3.5" height="3.5" fill="#8bbde0"/>
<rect x="553.17" y="93.29" width="1.3" height="0.9" fill="#9fb3c8"/>
<rect x="552.07" y="96.8" width="3.5" height="3.5" fill="#8bbde0"/>
<rect x="552.22" y="101.76" width="3.2" height="3.2" fill="#629bce"/>
<rect x="552.22" y="106.57" width="3.2" height="3.2" fill="#629bce"/>
<rect x="553.47" y="112.18" width="0.7" height="1.6" fill="#cfd8e2"/>
<rect x="552.02" y="115.99" width="3.6" height="3.6" fill="#b3cfdf"/>
<rect x="553.17" y="122.15" width="1.3" height="0.9" fill="#9fb3c8"/>
<text x="559.15" y="22.2" font-size="4.3" fill="#222" text-anchor="middle" >O</text>
<rect x="557.35" y="24.6" width="3.6" height="3.6" fill="#b3cfdf"/>
<rect x="557.2" y="29.26" width="3.9" height="3.9" fill="#f8aa55"/>
<rect x="557.2" y="34.07" width="3.9" height="3.9" fill="#f8aa55"/>
<rect x="557.2" y="38.88" width="3.9" height="3.9" fill="#f8aa55"/>
<rect x="557.2" y="43.69" width="3.9" height="3.9" fill="#f8aa55"/>
<rect x="557.3" y="48.6" width="3.7" height="3.7" fill="#d6d4cc"/>
<rect x="557.3" y="53.41" width="3.7" height="3.7" fill="#d6d4cc"/>
<rect x="557.4" y="58.32" width="3.5" height="3.5" fill="#8bbde0"/>
<rect x="557.35" y="63.08" width="3.6" height="3.6" fill="#b3cfdf"/>
<rect x="557.4" y="67.94" width="3.5" height="3.5" fill="#8bbde0"/>
<rect x="557.25" y="72.6" width="3.8" height="3.8" fill="#f2cb99"/>
<rect x="557.55" y="77.71" width="3.2" height="3.2" fill="#629bce"/>
<circle cx="559.15" cy="79.31" r="0.7" fill="#111"/>
<rect x="558.5" y="83.67" width="1.3" height="0.9" fill="#9fb3c8"/>
<rect x="557.4" y="87.18" width="3.5" height="3.5" fill="#8bbde0"/>
<rect x="558.5" y="93.29" width="1.3" height="0.9" fill="#9fb3c8"/>
<rect x="557.4" y="96.8" width="3.5" height="3.5" fill="#8bbde0"/>
<rect x="557.4" y="101.61" width="3.5" height="3.5" fill="#8bbde0"/>
<rect x="557.55" y="106.57" width="3.2" height="3.2" fill="#629bce"/>
<rect x="558.8" y="112.18" width="0.7" height="1.6" fill="#cfd8e2"/>
<rect x="558" y="116.64" width="2.3" height="2.3" fill="#3a74b2"/>
<circle cx="559.15" cy="117.79" r="0.7" fill="#111"/>
<rect x="558.5" y="122.15" width="1.3" height="0.9" fill="#9fb3c8"/>
<text x="564.48" y="22.2" font-size="4.3" fill="#222" text-anchor="middle" >T</text>
<rect x="562.53" y="24.45" width="3.9" height="3.9" fill="#f8aa55"/>
<rect x="562.53" y="29.26" width="3.9" height="3.9" fill="#f8aa55"/>
<rect x="562.53" y="34.07" width="3.9" height="3.9" fill="#f8aa55"/>
<rect x="562.58" y="38.93" width="3.8" height="3.8" fill="#f2cb99"/>
<rect x="562.58" y="43.74" width="3.8" height="3.8" fill="#f2cb99"/>
<rect x="562.53" y="48.5" width="3.9" height="3.9" fill="#f8aa55"/>
<rect x="562.53" y="53.31" width="3.9" height="3.9" fill="#f8aa55"/>
<rect x="562.58" y="58.17" width="3.8" height="3.8" fill="#f2cb99"/>
<rect x="562.63" y="63.03" width="3.7" height="3.7" fill="#d6d4cc"/>
<rect x="562.68" y="67.89" width="3.6" height="3.6" fill="#b3cfdf"/>
<rect x="562.88" y="72.9" width="3.2" height="3.2" fill="#629bce"/>
<rect x="562.88" y="77.71" width="3.2" height="3.2" fill="#629bce"/>
<circle cx="564.48" cy="79.31" r="0.7" fill="#111"/>
<rect x="563.83" y="83.67" width="1.3" height="0.9" fill="#9fb3c8"/>
<rect x="562.73" y="87.18" width="3.5" height="3.5" fill="#8bbde0"/>
<rect x="563.83" y="93.29" width="1.3" height="0.9" fill="#9fb3c8"/>
<rect x="562.73" y="96.8" width="3.5" height="3.5" fill="#8bbde0"/>
<rect x="562.73" y="101.61" width="3.5" height="3.5" fill="#8bbde0"/>
<rect x="562.73" y="106.42" width="3.5" height="3.5" fill="#8bbde0"/>
<rect x="564.13" y="112.18" width="0.7" height="1.6" fill="#cfd8e2"/>
<rect x="562.73" y="116.04" width="3.5" height="3.5" fill="#8bbde0"/>
<rect x="563.83" y="122.15" width="1.3" height="0.9" fill="#9fb3c8"/>
<text x="569.81" y="22.2" font-size="4.3" fill="#222" text-anchor="middle" >U</text>
<rect x="568.01" y="24.6" width="3.6" height="3.6" fill="#b3cfdf"/>
<rect x="567.86" y="29.26" width="3.9" height="3.9" fill="#f8aa55"/>
<rect x="567.96" y="34.17" width="3.7" height="3.7" fill="#d6d4cc"/>
<rect x="567.86" y="38.88" width="3.9" height="3.9" fill="#f8aa55"/>
<rect x="567.86" y="43.69" width="3.9" height="3.9" fill="#f8aa55"/>
<rect x="567.91" y="48.55" width="3.8" height="3.8" fill="#f2cb99"/>
<rect x="567.86" y="53.31" width="3.9" height="3.9" fill="#f8aa55"/>
<rect x="568.01" y="58.27" width="3.6" height="3.6" fill="#b3cfdf"/>
<rect x="568.06" y="63.13" width="3.5" height="3.5" fill="#8bbde0"/>
<rect x="568.06" y="67.94" width="3.5" height="3.5" fill="#8bbde0"/>
<rect x="568.06" y="72.75" width="3.5" height="3.5" fill="#8bbde0"/>
<rect x="568.06" y="77.56" width="3.5" height="3.5" fill="#8bbde0"/>
<rect x="568.21" y="82.52" width="3.2" height="3.2" fill="#629bce"/>
<rect x="568.06" y="87.18" width="3.5" height="3.5" fill="#8bbde0"/>
<rect x="568.21" y="92.14" width="3.2" height="3.2" fill="#629bce"/>
<rect x="568.06" y="96.8" width="3.5" height="3.5" fill="#8bbde0"/>
<rect x="568.06" y="101.61" width="3.5" height="3.5" fill="#8bbde0"/>
<rect x="568.06" y="106.42" width="3.5" height="3.5" fill="#8bbde0"/>
<rect x="569.46" y="112.18" width="0.7" height="1.6" fill="#cfd8e2"/>
<rect x="568.66" y="116.64" width="2.3" height="2.3" fill="#3a74b2"/>
<circle cx="569.81" cy="117.79" r="0.7" fill="#111"/>
<rect x="569.16" y="122.15" width="1.3" height="0.9" fill="#9fb3c8"/>
<text x="551.15" y="17.6" font-size="3.6" fill="#555" text-anchor="middle" >Oetjen</text>
<text x="574.9" y="22.2" font-size="4.3" fill="#222" text-anchor="middle" >1</text>
<rect x="572.95" y="24.45" width="3.9" height="3.9" fill="#f8aa55"/>
<rect x="572.9" y="29.21" width="4" height="4" fill="#f3933a"/>
<rect x="572.95" y="34.07" width="3.9" height="3.9" fill="#f8aa55"/>
<rect x="572.95" y="38.88" width="3.9" height="3.9" fill="#f8aa55"/>
<rect x="573" y="43.74" width="3.8" height="3.8" fill="#f2cb99"/>
<rect x="572.95" y="48.5" width="3.9" height="3.9" fill="#f8aa55"/>
<rect x="573" y="53.36" width="3.8" height="3.8" fill="#f2cb99"/>
<rect x="573" y="58.17" width="3.8" height="3.8" fill="#f2cb99"/>
<rect x="573.15" y="63.13" width="3.5" height="3.5" fill="#8bbde0"/>
<rect x="573.15" y="67.94" width="3.5" height="3.5" fill="#8bbde0"/>
<rect x="573.1" y="72.7" width="3.6" height="3.6" fill="#b3cfdf"/>
<rect x="573.1" y="77.51" width="3.6" height="3.6" fill="#b3cfdf"/>
<rect x="573.3" y="82.52" width="3.2" height="3.2" fill="#629bce"/>
<rect x="573.15" y="87.18" width="3.5" height="3.5" fill="#8bbde0"/>
<rect x="573.3" y="92.14" width="3.2" height="3.2" fill="#629bce"/>
<rect x="574.25" y="98.1" width="1.3" height="0.9" fill="#9fb3c8"/>
<rect x="574.25" y="102.91" width="1.3" height="0.9" fill="#9fb3c8"/>
<rect x="573.3" y="106.57" width="3.2" height="3.2" fill="#629bce"/>
<rect x="574.55" y="112.18" width="0.7" height="1.6" fill="#cfd8e2"/>
<rect x="573.3" y="116.19" width="3.2" height="3.2" fill="#629bce"/>
<rect x="573.75" y="121.45" width="2.3" height="2.3" fill="#3a74b2"/>
<text x="580.27" y="22.2" font-size="4.3" fill="#222" text-anchor="middle" >2</text>
<rect x="578.37" y="24.5" width="3.8" height="3.8" fill="#f2cb99"/>
<rect x="578.27" y="29.21" width="4" height="4" fill="#f3933a"/>
<rect x="578.32" y="34.07" width="3.9" height="3.9" fill="#f8aa55"/>
<rect x="578.27" y="38.83" width="4" height="4" fill="#f3933a"/>
<rect x="578.37" y="43.74" width="3.8" height="3.8" fill="#f2cb99"/>
<rect x="578.27" y="48.45" width="4" height="4" fill="#f3933a"/>
<rect x="578.32" y="53.31" width="3.9" height="3.9" fill="#f8aa55"/>
<rect x="578.47" y="58.27" width="3.6" height="3.6" fill="#b3cfdf"/>
<rect x="578.42" y="63.03" width="3.7" height="3.7" fill="#d6d4cc"/>
<rect x="578.52" y="67.94" width="3.5" height="3.5" fill="#8bbde0"/>
<rect x="578.52" y="72.75" width="3.5" height="3.5" fill="#8bbde0"/>
<rect x="578.47" y="77.51" width="3.6" height="3.6" fill="#b3cfdf"/>
<rect x="578.67" y="82.52" width="3.2" height="3.2" fill="#629bce"/>
<rect x="578.67" y="87.33" width="3.2" height="3.2" fill="#629bce"/>
<rect x="578.67" y="92.14" width="3.2" height="3.2" fill="#629bce"/>
<rect x="579.62" y="98.1" width="1.3" height="0.9" fill="#9fb3c8"/>
<rect x="579.62" y="102.91" width="1.3" height="0.9" fill="#9fb3c8"/>
<rect x="578.67" y="106.57" width="3.2" height="3.2" fill="#629bce"/>
<rect x="579.92" y="112.18" width="0.7" height="1.6" fill="#cfd8e2"/>
<rect x="578.52" y="116.04" width="3.5" height="3.5" fill="#8bbde0"/>
<rect x="578.67" y="121" width="3.2" height="3.2" fill="#629bce"/>
<text x="585.64" y="22.2" font-size="4.3" fill="#222" text-anchor="middle" >3</text>
<rect x="583.69" y="24.45" width="3.9" height="3.9" fill="#f8aa55"/>
<rect x="583.69" y="29.26" width="3.9" height="3.9" fill="#f8aa55"/>
<rect x="583.69" y="34.07" width="3.9" height="3.9" fill="#f8aa55"/>
<rect x="583.69" y="38.88" width="3.9" height="3.9" fill="#f8aa55"/>
<rect x="583.69" y="43.69" width="3.9" height="3.9" fill="#f8aa55"/>
<rect x="583.69" y="48.5" width="3.9" height="3.9" fill="#f8aa55"/>
<rect x="583.79" y="53.41" width="3.7" height="3.7" fill="#d6d4cc"/>
<rect x="583.89" y="58.32" width="3.5" height="3.5" fill="#8bbde0"/>
<rect x="583.69" y="62.93" width="3.9" height="3.9" fill="#f8aa55"/>
<rect x="584.04" y="68.09" width="3.2" height="3.2" fill="#629bce"/>
<rect x="583.89" y="72.75" width="3.5" height="3.5" fill="#8bbde0"/>
<rect x="583.84" y="77.51" width="3.6" height="3.6" fill="#b3cfdf"/>
<rect x="584.04" y="82.52" width="3.2" height="3.2" fill="#629bce"/>
<rect x="583.89" y="87.18" width="3.5" height="3.5" fill="#8bbde0"/>
<rect x="584.04" y="92.14" width="3.2" height="3.2" fill="#629bce"/>
<rect x="584.99" y="98.1" width="1.3" height="0.9" fill="#9fb3c8"/>
<rect x="584.99" y="102.91" width="1.3" height="0.9" fill="#9fb3c8"/>
<rect x="584.04" y="106.57" width="3.2" height="3.2" fill="#629bce"/>
<rect x="585.29" y="112.18" width="0.7" height="1.6" fill="#cfd8e2"/>
<rect x="584.04" y="116.19" width="3.2" height="3.2" fill="#629bce"/>
<rect x="583.89" y="120.85" width="3.5" height="3.5" fill="#8bbde0"/>
<text x="591.01" y="22.2" font-size="4.3" fill="#222" text-anchor="middle" >4</text>
<rect x="589.01" y="24.4" width="4" height="4" fill="#f3933a"/>
<rect x="589.06" y="29.26" width="3.9" height="3.9" fill="#f8aa55"/>
<rect x="589.01" y="34.02" width="4" height="4" fill="#f3933a"/>
<rect x="589.06" y="38.88" width="3.9" height="3.9" fill="#f8aa55"/>
<rect x="589.11" y="43.74" width="3.8" height="3.8" fill="#f2cb99"/>
<rect x="589.01" y="48.45" width="4" height="4" fill="#f3933a"/>
<rect x="589.01" y="53.26" width="4" height="4" fill="#f3933a"/>
<rect x="589.26" y="58.32" width="3.5" height="3.5" fill="#8bbde0"/>
<rect x="589.11" y="62.98" width="3.8" height="3.8" fill="#f2cb99"/>
<rect x="589.26" y="67.94" width="3.5" height="3.5" fill="#8bbde0"/>
<rect x="589.41" y="72.9" width="3.2" height="3.2" fill="#629bce"/>
<rect x="589.26" y="77.56" width="3.5" height="3.5" fill="#8bbde0"/>
<rect x="589.41" y="82.52" width="3.2" height="3.2" fill="#629bce"/>
<rect x="589.26" y="87.18" width="3.5" height="3.5" fill="#8bbde0"/>
<rect x="589.41" y="92.14" width="3.2" height="3.2" fill="#629bce"/>
<rect x="590.36" y="98.1" width="1.3" height="0.9" fill="#9fb3c8"/>
<rect x="590.36" y="102.91" width="1.3" height="0.9" fill="#9fb3c8"/>
<rect x="589.41" y="106.57" width="3.2" height="3.2" fill="#629bce"/>
<rect x="590.66" y="112.18" width="0.7" height="1.6" fill="#cfd8e2"/>
<rect x="589.26" y="116.04" width="3.5" height="3.5" fill="#8bbde0"/>
<rect x="590.36" y="122.15" width="1.3" height="0.9" fill="#9fb3c8"/>
<text x="596.38" y="22.2" font-size="4.3" fill="#222" text-anchor="middle" >5</text>
<rect x="594.38" y="24.4" width="4" height="4" fill="#f3933a"/>
<rect x="594.43" y="29.26" width="3.9" height="3.9" fill="#f8aa55"/>
<rect x="594.43" y="34.07" width="3.9" height="3.9" fill="#f8aa55"/>
<rect x="594.43" y="38.88" width="3.9" height="3.9" fill="#f8aa55"/>
<rect x="594.43" y="43.69" width="3.9" height="3.9" fill="#f8aa55"/>
<rect x="594.43" y="48.5" width="3.9" height="3.9" fill="#f8aa55"/>
<rect x="594.53" y="53.41" width="3.7" height="3.7" fill="#d6d4cc"/>
<rect x="594.58" y="58.27" width="3.6" height="3.6" fill="#b3cfdf"/>
<rect x="594.63" y="63.13" width="3.5" height="3.5" fill="#8bbde0"/>
<rect x="594.63" y="67.94" width="3.5" height="3.5" fill="#8bbde0"/>
<rect x="594.78" y="72.9" width="3.2" height="3.2" fill="#629bce"/>
<rect x="594.48" y="77.41" width="3.8" height="3.8" fill="#f2cb99"/>
<rect x="594.78" y="82.52" width="3.2" height="3.2" fill="#629bce"/>
<rect x="594.78" y="87.33" width="3.2" height="3.2" fill="#629bce"/>
<rect x="594.78" y="92.14" width="3.2" height="3.2" fill="#629bce"/>
<rect x="595.73" y="98.1" width="1.3" height="0.9" fill="#9fb3c8"/>
<rect x="595.73" y="102.91" width="1.3" height="0.9" fill="#9fb3c8"/>
<rect x="594.78" y="106.57" width="3.2" height="3.2" fill="#629bce"/>
<rect x="596.03" y="112.18" width="0.7" height="1.6" fill="#cfd8e2"/>
<rect x="594.63" y="116.04" width="3.5" height="3.5" fill="#8bbde0"/>
<rect x="594.78" y="121" width="3.2" height="3.2" fill="#629bce"/>
<text x="601.75" y="22.2" font-size="4.3" fill="#222" text-anchor="middle" >6</text>
<rect x="599.75" y="24.4" width="4" height="4" fill="#f3933a"/>
<rect x="599.8" y="29.26" width="3.9" height="3.9" fill="#f8aa55"/>
<rect x="599.8" y="34.07" width="3.9" height="3.9" fill="#f8aa55"/>
<rect x="599.75" y="38.83" width="4" height="4" fill="#f3933a"/>
<rect x="599.8" y="43.69" width="3.9" height="3.9" fill="#f8aa55"/>
<rect x="599.8" y="48.5" width="3.9" height="3.9" fill="#f8aa55"/>
<rect x="599.9" y="53.41" width="3.7" height="3.7" fill="#d6d4cc"/>
<rect x="600" y="58.32" width="3.5" height="3.5" fill="#8bbde0"/>
<rect x="599.8" y="62.93" width="3.9" height="3.9" fill="#f8aa55"/>
<rect x="600.15" y="68.09" width="3.2" height="3.2" fill="#629bce"/>
<rect x="600.15" y="72.9" width="3.2" height="3.2" fill="#629bce"/>
<rect x="599.85" y="77.41" width="3.8" height="3.8" fill="#f2cb99"/>
<rect x="600.15" y="82.52" width="3.2" height="3.2" fill="#629bce"/>
<rect x="600" y="87.18" width="3.5" height="3.5" fill="#8bbde0"/>
<rect x="600.15" y="92.14" width="3.2" height="3.2" fill="#629bce"/>
<rect x="601.1" y="98.1" width="1.3" height="0.9" fill="#9fb3c8"/>
<rect x="601.1" y="102.91" width="1.3" height="0.9" fill="#9fb3c8"/>
<rect x="600.15" y="106.57" width="3.2" height="3.2" fill="#629bce"/>
<rect x="601.4" y="112.18" width="0.7" height="1.6" fill="#cfd8e2"/>
<rect x="600" y="116.04" width="3.5" height="3.5" fill="#8bbde0"/>
<rect x="601.1" y="122.15" width="1.3" height="0.9" fill="#9fb3c8"/>
<text x="607.12" y="22.2" font-size="4.3" fill="#222" text-anchor="middle" >7</text>
<rect x="605.37" y="24.65" width="3.5" height="3.5" fill="#8bbde0"/>
<rect x="605.17" y="29.26" width="3.9" height="3.9" fill="#f8aa55"/>
<rect x="605.17" y="34.07" width="3.9" height="3.9" fill="#f8aa55"/>
<rect x="605.17" y="38.88" width="3.9" height="3.9" fill="#f8aa55"/>
<rect x="605.12" y="43.64" width="4" height="4" fill="#f3933a"/>
<rect x="605.17" y="48.5" width="3.9" height="3.9" fill="#f8aa55"/>
<rect x="605.22" y="53.36" width="3.8" height="3.8" fill="#f2cb99"/>
<rect x="605.37" y="58.32" width="3.5" height="3.5" fill="#8bbde0"/>
<rect x="605.17" y="62.93" width="3.9" height="3.9" fill="#f8aa55"/>
<rect x="605.37" y="67.94" width="3.5" height="3.5" fill="#8bbde0"/>
<rect x="605.37" y="72.75" width="3.5" height="3.5" fill="#8bbde0"/>
<rect x="605.17" y="77.36" width="3.9" height="3.9" fill="#f8aa55"/>
<rect x="605.52" y="82.52" width="3.2" height="3.2" fill="#629bce"/>
<rect x="605.37" y="87.18" width="3.5" height="3.5" fill="#8bbde0"/>
<rect x="605.52" y="92.14" width="3.2" height="3.2" fill="#629bce"/>
<rect x="606.47" y="98.1" width="1.3" height="0.9" fill="#9fb3c8"/>
<rect x="606.47" y="102.91" width="1.3" height="0.9" fill="#9fb3c8"/>
<rect x="605.52" y="106.57" width="3.2" height="3.2" fill="#629bce"/>
<rect x="606.77" y="112.18" width="0.7" height="1.6" fill="#cfd8e2"/>
<rect x="605.52" y="116.19" width="3.2" height="3.2" fill="#629bce"/>
<rect x="605.97" y="121.45" width="2.3" height="2.3" fill="#3a74b2"/>
<text x="612.49" y="22.2" font-size="4.3" fill="#222" text-anchor="middle" >8</text>
<rect x="610.49" y="24.4" width="4" height="4" fill="#f3933a"/>
<rect x="610.49" y="29.21" width="4" height="4" fill="#f3933a"/>
<rect x="610.59" y="34.12" width="3.8" height="3.8" fill="#f2cb99"/>
<rect x="610.54" y="38.88" width="3.9" height="3.9" fill="#f8aa55"/>
<rect x="610.49" y="43.64" width="4" height="4" fill="#f3933a"/>
<rect x="610.54" y="48.5" width="3.9" height="3.9" fill="#f8aa55"/>
<rect x="610.59" y="53.36" width="3.8" height="3.8" fill="#f2cb99"/>
<rect x="610.64" y="58.22" width="3.7" height="3.7" fill="#d6d4cc"/>
<rect x="610.69" y="63.08" width="3.6" height="3.6" fill="#b3cfdf"/>
<rect x="610.74" y="67.94" width="3.5" height="3.5" fill="#8bbde0"/>
<rect x="610.89" y="72.9" width="3.2" height="3.2" fill="#629bce"/>
<rect x="610.64" y="77.46" width="3.7" height="3.7" fill="#d6d4cc"/>
<rect x="610.89" y="82.52" width="3.2" height="3.2" fill="#629bce"/>
<rect x="610.74" y="87.18" width="3.5" height="3.5" fill="#8bbde0"/>
<rect x="610.89" y="92.14" width="3.2" height="3.2" fill="#629bce"/>
<rect x="611.84" y="98.1" width="1.3" height="0.9" fill="#9fb3c8"/>
<rect x="611.84" y="102.91" width="1.3" height="0.9" fill="#9fb3c8"/>
<rect x="610.89" y="106.57" width="3.2" height="3.2" fill="#629bce"/>
<rect x="612.14" y="112.18" width="0.7" height="1.6" fill="#cfd8e2"/>
<rect x="611.34" y="116.64" width="2.3" height="2.3" fill="#3a74b2"/>
<rect x="611.34" y="121.45" width="2.3" height="2.3" fill="#3a74b2"/>
<text x="617.86" y="22.2" font-size="4.3" fill="#222" text-anchor="middle" >9</text>
<rect x="616.01" y="24.55" width="3.7" height="3.7" fill="#d6d4cc"/>
<rect x="615.91" y="29.26" width="3.9" height="3.9" fill="#f8aa55"/>
<rect x="615.91" y="34.07" width="3.9" height="3.9" fill="#f8aa55"/>
<rect x="615.86" y="38.83" width="4" height="4" fill="#f3933a"/>
<rect x="615.91" y="43.69" width="3.9" height="3.9" fill="#f8aa55"/>
<rect x="615.91" y="48.5" width="3.9" height="3.9" fill="#f8aa55"/>
<rect x="615.96" y="53.36" width="3.8" height="3.8" fill="#f2cb99"/>
<rect x="616.11" y="58.32" width="3.5" height="3.5" fill="#8bbde0"/>
<rect x="615.91" y="62.93" width="3.9" height="3.9" fill="#f8aa55"/>
<rect x="616.26" y="68.09" width="3.2" height="3.2" fill="#629bce"/>
<rect x="616.11" y="72.75" width="3.5" height="3.5" fill="#8bbde0"/>
<rect x="615.96" y="77.41" width="3.8" height="3.8" fill="#f2cb99"/>
<rect x="616.26" y="82.52" width="3.2" height="3.2" fill="#629bce"/>
<rect x="616.11" y="87.18" width="3.5" height="3.5" fill="#8bbde0"/>
<rect x="616.26" y="92.14" width="3.2" height="3.2" fill="#629bce"/>
<rect x="617.21" y="98.1" width="1.3" height="0.9" fill="#9fb3c8"/>
<rect x="617.21" y="102.91" width="1.3" height="0.9" fill="#9fb3c8"/>
<rect x="616.26" y="106.57" width="3.2" height="3.2" fill="#629bce"/>
<rect x="617.51" y="112.18" width="0.7" height="1.6" fill="#cfd8e2"/>
<rect x="616.11" y="116.04" width="3.5" height="3.5" fill="#8bbde0"/>
<rect x="617.21" y="122.15" width="1.3" height="0.9" fill="#9fb3c8"/>
<text x="623.23" y="22.2" font-size="4.3" fill="#222" text-anchor="middle" >10</text>
<rect x="621.28" y="24.45" width="3.9" height="3.9" fill="#f8aa55"/>
<rect x="621.28" y="29.26" width="3.9" height="3.9" fill="#f8aa55"/>
<rect x="621.38" y="34.17" width="3.7" height="3.7" fill="#d6d4cc"/>
<rect x="621.23" y="38.83" width="4" height="4" fill="#f3933a"/>
<rect x="621.28" y="43.69" width="3.9" height="3.9" fill="#f8aa55"/>
<rect x="621.28" y="48.5" width="3.9" height="3.9" fill="#f8aa55"/>
<rect x="621.28" y="53.31" width="3.9" height="3.9" fill="#f8aa55"/>
<rect x="621.48" y="58.32" width="3.5" height="3.5" fill="#8bbde0"/>
<rect x="621.23" y="62.88" width="4" height="4" fill="#f3933a"/>
<rect x="621.48" y="67.94" width="3.5" height="3.5" fill="#8bbde0"/>
<rect x="621.48" y="72.75" width="3.5" height="3.5" fill="#8bbde0"/>
<rect x="621.43" y="77.51" width="3.6" height="3.6" fill="#b3cfdf"/>
<rect x="621.63" y="82.52" width="3.2" height="3.2" fill="#629bce"/>
<rect x="621.48" y="87.18" width="3.5" height="3.5" fill="#8bbde0"/>
<rect x="621.63" y="92.14" width="3.2" height="3.2" fill="#629bce"/>
<rect x="622.58" y="98.1" width="1.3" height="0.9" fill="#9fb3c8"/>
<rect x="622.58" y="102.91" width="1.3" height="0.9" fill="#9fb3c8"/>
<rect x="621.63" y="106.57" width="3.2" height="3.2" fill="#629bce"/>
<rect x="622.88" y="112.18" width="0.7" height="1.6" fill="#cfd8e2"/>
<rect x="621.48" y="116.04" width="3.5" height="3.5" fill="#8bbde0"/>
<rect x="622.58" y="122.15" width="1.3" height="0.9" fill="#9fb3c8"/>
<text x="599.06" y="17.6" font-size="3.6" fill="#555" text-anchor="middle" >Samusik</text>
<text x="628.1" y="22.2" font-size="4.3" fill="#222" text-anchor="middle" >1</text>
<rect x="626.3" y="24.6" width="3.6" height="3.6" fill="#b3cfdf"/>
<rect x="626.15" y="29.26" width="3.9" height="3.9" fill="#f8aa55"/>
<rect x="626.15" y="34.07" width="3.9" height="3.9" fill="#f8aa55"/>
<rect x="626.15" y="38.88" width="3.9" height="3.9" fill="#f8aa55"/>
<rect x="626.1" y="43.64" width="4" height="4" fill="#f3933a"/>
<rect x="626.2" y="48.55" width="3.8" height="3.8" fill="#f2cb99"/>
<rect x="626.3" y="53.46" width="3.6" height="3.6" fill="#b3cfdf"/>
<rect x="626.3" y="58.27" width="3.6" height="3.6" fill="#b3cfdf"/>
<rect x="626.2" y="62.98" width="3.8" height="3.8" fill="#f2cb99"/>
<rect x="626.5" y="68.09" width="3.2" height="3.2" fill="#629bce"/>
<rect x="626.95" y="73.35" width="2.3" height="2.3" fill="#3a74b2"/>
<rect x="626.3" y="77.51" width="3.6" height="3.6" fill="#b3cfdf"/>
<rect x="626.35" y="82.37" width="3.5" height="3.5" fill="#8bbde0"/>
<rect x="626.35" y="87.18" width="3.5" height="3.5" fill="#8bbde0"/>
<rect x="626.35" y="91.99" width="3.5" height="3.5" fill="#8bbde0"/>
<rect x="626.5" y="96.95" width="3.2" height="3.2" fill="#629bce"/>
<rect x="626.35" y="101.61" width="3.5" height="3.5" fill="#8bbde0"/>
<rect x="626.35" y="106.42" width="3.5" height="3.5" fill="#8bbde0"/>
<rect x="627.75" y="112.18" width="0.7" height="1.6" fill="#cfd8e2"/>
<rect x="626.95" y="116.64" width="2.3" height="2.3" fill="#3a74b2"/>
<circle cx="628.1" cy="117.79" r="0.7" fill="#111"/>
<rect x="627.45" y="122.15" width="1.3" height="0.9" fill="#9fb3c8"/>
<text x="338" y="12.6" font-size="4.2" fill="#333" text-anchor="middle" xml:space="preserve">Cohort  /  Sample</text>
<text x="372.2" y="13.8" font-size="4.5" fill="#222" text-anchor="start" transform="rotate(-42 372.2 13.8)">Levine13</text>
<text x="377.6" y="14.4" font-size="4.5" fill="#222" text-anchor="start" transform="rotate(-42 377.6 14.4)">Levine32</text>
<text x="627" y="12.8" font-size="3.6" fill="#333" text-anchor="start" transform="rotate(-38 627 12.8)">Zheng</text>
<line x1="46.3" y1="13.8" x2="46.3" y2="124.6" stroke="#6a6a6a" stroke-width="1.1"/>
<line x1="120.9" y1="13.8" x2="120.9" y2="124.6" stroke="#aaa" stroke-width="1.3"/>
<line x1="147.6" y1="13.8" x2="147.6" y2="124.6" stroke="#555" stroke-width="0.9"/>
<line x1="211.4" y1="13.8" x2="211.4" y2="124.6" stroke="#555" stroke-width="0.9"/>
<line x1="370.5" y1="13.8" x2="370.5" y2="124.6" stroke="#555" stroke-width="0.9"/>
<line x1="375.7" y1="13.8" x2="375.7" y2="124.6" stroke="#bbb" stroke-width="0.9"/>
<line x1="381.3" y1="13.8" x2="381.3" y2="124.6" stroke="#555" stroke-width="0.9"/>
<line x1="423.4" y1="13.8" x2="423.4" y2="124.6" stroke="#666" stroke-width="0.9"/>
<line x1="529.6" y1="13.8" x2="529.6" y2="124.6" stroke="#999" stroke-width="1"/>
<line x1="572.3" y1="13.8" x2="572.3" y2="124.6" stroke="#555" stroke-width="0.9"/>
<line x1="625.4" y1="13.8" x2="625.4" y2="124.6" stroke="#555" stroke-width="0.9"/>
<line x1="630.5" y1="13.8" x2="630.5" y2="124.6" stroke="#555" stroke-width="0.9"/>
<line x1="625.4" y1="13.8" x2="630.5" y2="13.8" stroke="#555" stroke-width="0.8"/>
<text x="636.3" y="23.5" font-size="4.4" fill="#2a2a2a" text-anchor="start" >Accuracy</text>
<rect x="639.75" y="27.85" width="1.5" height="1.5" fill="#d8d8d8" stroke="#bbb" stroke-width="0.4"/>
<text x="656.6" y="30.1" font-size="4.3" fill="#2a2a2a" text-anchor="end" >2.69</text>
<rect x="638.3" y="33.3" width="4.4" height="4.4" fill="#d8d8d8" stroke="#bbb" stroke-width="0.4"/>
<text x="656.6" y="37" font-size="4.3" fill="#2a2a2a" text-anchor="end" >10.00</text>
<rect x="637.9" y="39.4" width="5.2" height="5.2" fill="#d8d8d8" stroke="#bbb" stroke-width="0.4"/>
<text x="656.6" y="43.5" font-size="4.3" fill="#2a2a2a" text-anchor="end" >15.30</text>
<rect x="637.3" y="46.1" width="6.4" height="6.4" fill="#d8d8d8" stroke="#bbb" stroke-width="0.4"/>
<text x="656.6" y="50.8" font-size="4.3" fill="#2a2a2a" text-anchor="end" >19.14</text>
<text x="636.2" y="62.2" font-size="4.4" fill="#2a2a2a" text-anchor="start" >Accuracy</text>
<defs><linearGradient id="ga" x1="0" x2="1" y1="0" y2="0"><stop offset="0" stop-color="#2a5b96"/><stop offset="0.35" stop-color="#4f88c2"/><stop offset="0.62" stop-color="#93c4e3"/><stop offset="0.68" stop-color="#d7d2c6"/><stop offset="0.72" stop-color="#fbbf7c"/><stop offset="1" stop-color="#f07a1c"/></linearGradient><linearGradient id="gb" x1="0" x2="1" y1="0" y2="0"><stop offset="0" stop-color="#1f4f8c"/><stop offset="0.3" stop-color="#4a84bf"/><stop offset="0.52" stop-color="#a6cfe8"/><stop offset="0.55" stop-color="#dcd4c4"/><stop offset="0.58" stop-color="#f8bd78"/><stop offset="0.8" stop-color="#e6752a"/><stop offset="1" stop-color="#b5501c"/></linearGradient><linearGradient id="gc" x1="0" x2="1" y1="0" y2="0"><stop offset="0" stop-color="#2a5b96"/><stop offset="0.35" stop-color="#4f88c2"/><stop offset="0.68" stop-color="#9cc9e4"/><stop offset="0.717" stop-color="#d7d2c6"/><stop offset="0.75" stop-color="#fbbf7c"/><stop offset="1" stop-color="#f07a1c"/></linearGradient></defs>
<rect x="637.1" y="64.5" width="46.4" height="5.2" fill="url(#ga)"/>
<text x="637.1" y="75" font-size="4.3" fill="#2a2a2a" text-anchor="start" >2.68</text>
<text x="683.5" y="75" font-size="4.3" fill="#2a2a2a" text-anchor="end" >19.14</text>
<text x="634.7" y="86.7" font-size="4.3" fill="#2a2a2a" text-anchor="start" >*: Paired 10% Downsample</text>
<text x="637.6" y="91.6" font-size="4.3" fill="#2a2a2a" text-anchor="start" >with Mapping</text>
<text x="634.7" y="99.3" font-size="4.3" fill="#2a2a2a" text-anchor="start" >·: Error</text>
<text x="0.7" y="139.3" font-size="7.5" fill="#111" text-anchor="start" >(b)</text>
<text x="162.2" y="154.7" font-size="4.65" fill="#2a2a2a" text-anchor="middle" >Category / Sub-Category / Metric</text>
<text x="71.5" y="160.9" font-size="4.3" fill="#333" text-anchor="middle" >Global</text>
<text x="97.6" y="160.9" font-size="4.3" fill="#333" text-anchor="middle" >Local</text>
<text x="162.4" y="160.9" font-size="4.3" fill="#333" text-anchor="middle" >Downstream</text>
<text x="239.7" y="160.9" font-size="4.3" fill="#333" text-anchor="middle" >scRNA Concordance</text>
<text x="71.5" y="173.9" font-size="4.3" fill="#555" text-anchor="middle" >Global</text>
<text x="97.6" y="173.9" font-size="4.3" fill="#555" text-anchor="middle" >Local</text>
<text x="123.6" y="168.2" font-size="4.3" fill="#555" text-anchor="middle" >Cluster</text>
<text x="123.6" y="173.9" font-size="4.3" fill="#555" text-anchor="middle" >Concordance</text>
<text x="162.6" y="173.9" font-size="4.3" fill="#555" text-anchor="middle" >Cluster Reconstruction</text>
<text x="201.4" y="168.2" font-size="4.3" fill="#555" text-anchor="middle" >Cell-Type</text>
<text x="201.4" y="173.9" font-size="4.3" fill="#555" text-anchor="middle" >Cluster Con.</text>
<text x="220.7" y="168.2" font-size="4.3" fill="#555" text-anchor="middle" >Clust.</text>
<text x="220.7" y="173.9" font-size="4.3" fill="#555" text-anchor="middle" >Dist.</text>
<text x="233.6" y="173.9" font-size="4.3" fill="#555" text-anchor="middle" >EMD</text>
<text x="252.6" y="168.2" font-size="4.3" fill="#555" text-anchor="middle" >Gating</text>
<text x="252.6" y="173.9" font-size="4.3" fill="#555" text-anchor="middle" >Concordance</text>
<text x="65.2" y="179.8" font-size="4.1" fill="#2a2a2a" text-anchor="middle" >COR</text>
<text x="78.14" y="179.8" font-size="4.1" fill="#2a2a2a" text-anchor="middle" >EMD</text>
<text x="91.08" y="179.8" font-size="4.1" fill="#2a2a2a" text-anchor="middle" >KNN</text>
<text x="104.02" y="179.8" font-size="4.1" fill="#2a2a2a" text-anchor="middle" >NPE</text>
<text x="116.96" y="179.8" font-size="4.1" fill="#2a2a2a" text-anchor="middle" >ARI</text>
<text x="129.9" y="179.8" font-size="4.1" fill="#2a2a2a" text-anchor="middle" >NMI</text>
<text x="142.84" y="179.8" font-size="4.1" fill="#2a2a2a" text-anchor="middle" >CHI</text>
<text x="155.78" y="179.8" font-size="4.1" fill="#2a2a2a" text-anchor="middle" >DBI</text>
<text x="168.72" y="179.8" font-size="4.1" fill="#2a2a2a" text-anchor="middle" >RF</text>
<text x="181.66" y="179.8" font-size="4.1" fill="#2a2a2a" text-anchor="middle" >SIL</text>
<text x="194.6" y="179.8" font-size="4.1" fill="#2a2a2a" text-anchor="middle" >ARI</text>
<text x="207.54" y="179.8" font-size="4.1" fill="#2a2a2a" text-anchor="middle" >NMI</text>
<text x="220.48" y="179.8" font-size="4.1" fill="#2a2a2a" text-anchor="middle" >CCD</text>
<text x="233.42" y="179.8" font-size="4.1" fill="#2a2a2a" text-anchor="middle" >C.E.</text>
<text x="246.36" y="179.8" font-size="4.1" fill="#2a2a2a" text-anchor="middle" >ARI</text>
<text x="259.3" y="179.8" font-size="4.1" fill="#2a2a2a" text-anchor="middle" >NMI</text>
<text x="11.5" y="180.4" font-size="4.6" fill="#2a2a2a" text-anchor="start" >Method</text>
<line x1="10" y1="181.6" x2="266" y2="181.6" stroke="#ddd" stroke-width="0.8"/>
<line x1="58.6" y1="156" x2="58.6" y2="318" stroke="#dcdcdc" stroke-width="0.8"/>
<line x1="84.4" y1="156" x2="84.4" y2="318" stroke="#dcdcdc" stroke-width="0.8"/>
<line x1="110.7" y1="156" x2="110.7" y2="318" stroke="#dcdcdc" stroke-width="0.8"/>
<line x1="136.5" y1="162.8" x2="136.5" y2="318" stroke="#dcdcdc" stroke-width="0.8"/>
<line x1="188.7" y1="162.8" x2="188.7" y2="318" stroke="#dcdcdc" stroke-width="0.8"/>
<line x1="214.1" y1="156" x2="214.1" y2="318" stroke="#dcdcdc" stroke-width="0.8"/>
<line x1="227.2" y1="162.8" x2="227.2" y2="318" stroke="#dcdcdc" stroke-width="0.8"/>
<line x1="240" y1="162.8" x2="240" y2="318" stroke="#dcdcdc" stroke-width="0.8"/>
<line x1="265.7" y1="156" x2="265.7" y2="318" stroke="#dcdcdc" stroke-width="0.8"/>
<text x="11.5" y="186.9" font-size="5.19" fill="#222" text-anchor="start" >SAUCIE</text>
<text x="11.5" y="193.35" font-size="5.19" fill="#222" text-anchor="start" >SQuaD-MOS Hybrid</text>
<text x="11.5" y="199.8" font-size="5.19" fill="#222" text-anchor="start" >scvis (Full)</text>
<text x="11.5" y="206.25" font-size="5.19" fill="#222" text-anchor="start" >UMAP</text>
<text x="11.5" y="212.7" font-size="5.19" fill="#222" text-anchor="start" >scvis</text>
<text x="11.5" y="219.15" font-size="5.19" fill="#222" text-anchor="start" >tSNE (sklearn)</text>
<text x="11.5" y="225.6" font-size="5.19" fill="#222" text-anchor="start" >tSNE</text>
<text x="11.5" y="232.05" font-size="5.19" fill="#222" text-anchor="start" >SQuaD-MOS</text>
<text x="11.5" y="238.5" font-size="5.19" fill="#222" text-anchor="start" >PHATE</text>
<text x="11.5" y="244.95" font-size="5.19" fill="#222" text-anchor="start" >PCA</text>
<text x="11.5" y="251.4" font-size="5.19" fill="#222" text-anchor="start" >GrandPrix</text>
<text x="11.5" y="257.85" font-size="5.19" fill="#222" text-anchor="start" >Isomap</text>
<text x="11.5" y="264.3" font-size="5.19" fill="#222" text-anchor="start" >KPCA Poly</text>
<text x="11.5" y="270.75" font-size="5.19" fill="#222" text-anchor="start" >ICA</text>
<text x="11.5" y="277.2" font-size="5.19" fill="#222" text-anchor="start" >KPCA RBF</text>
<text x="11.5" y="283.65" font-size="5.19" fill="#222" text-anchor="start" >NMF</text>
<text x="11.5" y="290.1" font-size="5.19" fill="#222" text-anchor="start" >ZIFA</text>
<text x="11.5" y="296.55" font-size="5.19" fill="#222" text-anchor="start" >FA</text>
<text x="11.5" y="303" font-size="5.19" fill="#222" text-anchor="start" >DiffMap</text>
<text x="11.5" y="309.45" font-size="5.19" fill="#222" text-anchor="start" >LLE</text>
<text x="11.5" y="315.9" font-size="5.19" fill="#222" text-anchor="start" >Spectral</text>
<rect x="62.5" y="182.4" width="5.4" height="5.4" fill="#f49c43"/>
<rect x="75.44" y="182.4" width="5.4" height="5.4" fill="#f49c43"/>
<rect x="88.38" y="182.4" width="5.4" height="5.4" fill="#f49c43"/>
<rect x="101.82" y="182.9" width="4.4" height="4.4" fill="#8bbde0"/>
<rect x="114.06" y="182.2" width="5.8" height="5.8" fill="#e6772c"/>
<rect x="127" y="182.2" width="5.8" height="5.8" fill="#e6772c"/>
<rect x="140.14" y="182.4" width="5.4" height="5.4" fill="#f49c43"/>
<rect x="153.28" y="182.6" width="5" height="5" fill="#f6c690"/>
<rect x="166.02" y="182.4" width="5.4" height="5.4" fill="#f49c43"/>
<rect x="178.76" y="182.2" width="5.8" height="5.8" fill="#e6772c"/>
<rect x="191.9" y="182.4" width="5.4" height="5.4" fill="#f49c43"/>
<rect x="204.64" y="182.2" width="5.8" height="5.8" fill="#e6772c"/>
<rect x="217.78" y="182.4" width="5.4" height="5.4" fill="#f49c43"/>
<rect x="230.92" y="182.6" width="5" height="5" fill="#f6c690"/>
<rect x="243.66" y="182.4" width="5.4" height="5.4" fill="#f49c43"/>
<rect x="256.6" y="182.4" width="5.4" height="5.4" fill="#f49c43"/>
<rect x="62.5" y="188.85" width="5.4" height="5.4" fill="#f49c43"/>
<rect x="75.44" y="188.85" width="5.4" height="5.4" fill="#f49c43"/>
<rect x="88.08" y="188.55" width="6" height="6" fill="#c95b23"/>
<rect x="101.02" y="188.55" width="6" height="6" fill="#c95b23"/>
<rect x="114.96" y="189.55" width="4" height="4" fill="#5a95cb"/>
<rect x="127.4" y="189.05" width="5" height="5" fill="#f6c690"/>
<rect x="140.84" y="189.55" width="4" height="4" fill="#5a95cb"/>
<rect x="153.08" y="188.85" width="5.4" height="5.4" fill="#f49c43"/>
<rect x="165.82" y="188.65" width="5.8" height="5.8" fill="#e6772c"/>
<rect x="178.96" y="188.85" width="5.4" height="5.4" fill="#f49c43"/>
<rect x="192.6" y="189.55" width="4" height="4" fill="#5a95cb"/>
<rect x="205.34" y="189.35" width="4.4" height="4.4" fill="#8bbde0"/>
<rect x="217.78" y="188.85" width="5.4" height="5.4" fill="#f49c43"/>
<rect x="230.92" y="189.05" width="5" height="5" fill="#f6c690"/>
<rect x="243.46" y="188.65" width="5.8" height="5.8" fill="#e6772c"/>
<rect x="256.4" y="188.65" width="5.8" height="5.8" fill="#e6772c"/>
<rect x="63" y="195.8" width="4.4" height="4.4" fill="#8bbde0"/>
<rect x="75.44" y="195.3" width="5.4" height="5.4" fill="#f49c43"/>
<rect x="88.38" y="195.3" width="5.4" height="5.4" fill="#f49c43"/>
<rect x="101.32" y="195.3" width="5.4" height="5.4" fill="#f49c43"/>
<rect x="114.06" y="195.1" width="5.8" height="5.8" fill="#e6772c"/>
<rect x="127" y="195.1" width="5.8" height="5.8" fill="#e6772c"/>
<rect x="140.14" y="195.3" width="5.4" height="5.4" fill="#f49c43"/>
<rect x="153.08" y="195.3" width="5.4" height="5.4" fill="#f49c43"/>
<rect x="165.82" y="195.1" width="5.8" height="5.8" fill="#e6772c"/>
<rect x="178.66" y="195" width="6" height="6" fill="#c95b23"/>
<rect x="192.1" y="195.5" width="5" height="5" fill="#f6c690"/>
<rect x="204.64" y="195.1" width="5.8" height="5.8" fill="#e6772c"/>
<rect x="217.58" y="195.1" width="5.8" height="5.8" fill="#e6772c"/>
<rect x="231.22" y="195.8" width="4.4" height="4.4" fill="#8bbde0"/>
<rect x="243.46" y="195.1" width="5.8" height="5.8" fill="#e6772c"/>
<rect x="256.4" y="195.1" width="5.8" height="5.8" fill="#e6772c"/>
<rect x="63.45" y="202.7" width="3.5" height="3.5" fill="#3a74b2"/>
<rect x="75.84" y="202.15" width="4.6" height="4.6" fill="#b3cfdf"/>
<rect x="88.18" y="201.55" width="5.8" height="5.8" fill="#e6772c"/>
<rect x="101.12" y="201.55" width="5.8" height="5.8" fill="#e6772c"/>
<rect x="114.06" y="201.55" width="5.8" height="5.8" fill="#e6772c"/>
<rect x="126.9" y="201.45" width="6" height="6" fill="#c95b23"/>
<rect x="139.94" y="201.55" width="5.8" height="5.8" fill="#e6772c"/>
<rect x="152.88" y="201.55" width="5.8" height="5.8" fill="#e6772c"/>
<rect x="165.82" y="201.55" width="5.8" height="5.8" fill="#e6772c"/>
<rect x="178.66" y="201.45" width="6" height="6" fill="#c95b23"/>
<rect x="191.9" y="201.75" width="5.4" height="5.4" fill="#f49c43"/>
<rect x="204.54" y="201.45" width="6" height="6" fill="#c95b23"/>
<rect x="218.28" y="202.25" width="4.4" height="4.4" fill="#8bbde0"/>
<rect x="231.12" y="202.15" width="4.6" height="4.6" fill="#b3cfdf"/>
<rect x="243.36" y="201.45" width="6" height="6" fill="#c95b23"/>
<rect x="256.3" y="201.45" width="6" height="6" fill="#c95b23"/>
<rect x="63" y="208.7" width="4.4" height="4.4" fill="#8bbde0"/>
<rect x="75.44" y="208.2" width="5.4" height="5.4" fill="#f49c43"/>
<rect x="88.38" y="208.2" width="5.4" height="5.4" fill="#f49c43"/>
<rect x="101.52" y="208.4" width="5" height="5" fill="#f6c690"/>
<rect x="114.26" y="208.2" width="5.4" height="5.4" fill="#f49c43"/>
<rect x="127" y="208" width="5.8" height="5.8" fill="#e6772c"/>
<rect x="140.14" y="208.2" width="5.4" height="5.4" fill="#f49c43"/>
<rect x="152.88" y="208" width="5.8" height="5.8" fill="#e6772c"/>
<rect x="166.02" y="208.2" width="5.4" height="5.4" fill="#f49c43"/>
<rect x="178.76" y="208" width="5.8" height="5.8" fill="#e6772c"/>
<rect x="192.2" y="208.5" width="4.8" height="4.8" fill="#d6d4cc"/>
<rect x="204.84" y="208.2" width="5.4" height="5.4" fill="#f49c43"/>
<rect x="217.58" y="208" width="5.8" height="5.8" fill="#e6772c"/>
<rect x="231.22" y="208.7" width="4.4" height="4.4" fill="#8bbde0"/>
<rect x="243.46" y="208" width="5.8" height="5.8" fill="#e6772c"/>
<rect x="256.4" y="208" width="5.8" height="5.8" fill="#e6772c"/>
<rect x="63.2" y="215.35" width="4" height="4" fill="#5a95cb"/>
<rect x="75.44" y="214.65" width="5.4" height="5.4" fill="#f49c43"/>
<rect x="88.08" y="214.35" width="6" height="6" fill="#c95b23"/>
<rect x="101.02" y="214.35" width="6" height="6" fill="#c95b23"/>
<rect x="114.96" y="215.35" width="4" height="4" fill="#5a95cb"/>
<rect x="127.5" y="214.95" width="4.8" height="4.8" fill="#d6d4cc"/>
<rect x="140.84" y="215.35" width="4" height="4" fill="#5a95cb"/>
<rect x="152.88" y="214.45" width="5.8" height="5.8" fill="#e6772c"/>
<rect x="165.72" y="214.35" width="6" height="6" fill="#c95b23"/>
<rect x="179.26" y="214.95" width="4.8" height="4.8" fill="#d6d4cc"/>
<rect x="192.85" y="215.6" width="3.5" height="3.5" fill="#3a74b2"/>
<rect x="205.34" y="215.15" width="4.4" height="4.4" fill="#8bbde0"/>
<rect x="217.58" y="214.45" width="5.8" height="5.8" fill="#e6772c"/>
<rect x="230.52" y="214.45" width="5.8" height="5.8" fill="#e6772c"/>
<rect x="243.66" y="214.65" width="5.4" height="5.4" fill="#f49c43"/>
<rect x="256.6" y="214.65" width="5.4" height="5.4" fill="#f49c43"/>
<rect x="63.2" y="221.8" width="4" height="4" fill="#5a95cb"/>
<rect x="75.44" y="221.1" width="5.4" height="5.4" fill="#f49c43"/>
<rect x="88.08" y="220.8" width="6" height="6" fill="#c95b23"/>
<rect x="101.02" y="220.8" width="6" height="6" fill="#c95b23"/>
<rect x="114.96" y="221.8" width="4" height="4" fill="#5a95cb"/>
<rect x="127.5" y="221.4" width="4.8" height="4.8" fill="#d6d4cc"/>
<rect x="140.84" y="221.8" width="4" height="4" fill="#5a95cb"/>
<rect x="152.88" y="220.9" width="5.8" height="5.8" fill="#e6772c"/>
<rect x="165.72" y="220.8" width="6" height="6" fill="#c95b23"/>
<rect x="179.36" y="221.5" width="4.6" height="4.6" fill="#b3cfdf"/>
<rect x="192.85" y="222.05" width="3.5" height="3.5" fill="#3a74b2"/>
<rect x="205.34" y="221.6" width="4.4" height="4.4" fill="#8bbde0"/>
<rect x="217.78" y="221.1" width="5.4" height="5.4" fill="#f49c43"/>
<rect x="230.52" y="220.9" width="5.8" height="5.8" fill="#e6772c"/>
<rect x="243.66" y="221.1" width="5.4" height="5.4" fill="#f49c43"/>
<rect x="256.6" y="221.1" width="5.4" height="5.4" fill="#f49c43"/>
<rect x="62.3" y="227.35" width="5.8" height="5.8" fill="#e6772c"/>
<rect x="75.94" y="228.05" width="4.4" height="4.4" fill="#8bbde0"/>
<rect x="89.08" y="228.25" width="4" height="4" fill="#5a95cb"/>
<rect x="102.02" y="228.25" width="4" height="4" fill="#5a95cb"/>
<rect x="114.46" y="227.75" width="5" height="5" fill="#f6c690"/>
<rect x="127.7" y="228.05" width="4.4" height="4.4" fill="#8bbde0"/>
<rect x="141.09" y="228.5" width="3.5" height="3.5" fill="#3a74b2"/>
<rect x="153.58" y="228.05" width="4.4" height="4.4" fill="#8bbde0"/>
<rect x="166.52" y="228.05" width="4.4" height="4.4" fill="#8bbde0"/>
<rect x="178.96" y="227.55" width="5.4" height="5.4" fill="#f49c43"/>
<rect x="192.4" y="228.05" width="4.4" height="4.4" fill="#8bbde0"/>
<rect x="205.34" y="228.05" width="4.4" height="4.4" fill="#8bbde0"/>
<rect x="217.58" y="227.35" width="5.8" height="5.8" fill="#e6772c"/>
<rect x="230.72" y="227.55" width="5.4" height="5.4" fill="#f49c43"/>
<rect x="243.96" y="227.85" width="4.8" height="4.8" fill="#d6d4cc"/>
<rect x="257.1" y="228.05" width="4.4" height="4.4" fill="#8bbde0"/>
<rect x="63.45" y="234.95" width="3.5" height="3.5" fill="#3a74b2"/>
<rect x="75.94" y="234.5" width="4.4" height="4.4" fill="#8bbde0"/>
<rect x="88.38" y="234" width="5.4" height="5.4" fill="#f49c43"/>
<rect x="101.52" y="234.2" width="5" height="5" fill="#f6c690"/>
<rect x="114.26" y="234" width="5.4" height="5.4" fill="#f49c43"/>
<rect x="127.7" y="234.5" width="4.4" height="4.4" fill="#8bbde0"/>
<rect x="139.94" y="233.8" width="5.8" height="5.8" fill="#e6772c"/>
<rect x="153.58" y="234.5" width="4.4" height="4.4" fill="#8bbde0"/>
<rect x="166.02" y="234" width="5.4" height="5.4" fill="#f49c43"/>
<rect x="178.76" y="233.8" width="5.8" height="5.8" fill="#e6772c"/>
<rect x="191.9" y="234" width="5.4" height="5.4" fill="#f49c43"/>
<rect x="204.64" y="233.8" width="5.8" height="5.8" fill="#e6772c"/>
<rect x="218.28" y="234.5" width="4.4" height="4.4" fill="#8bbde0"/>
<rect x="231.22" y="234.5" width="4.4" height="4.4" fill="#8bbde0"/>
<rect x="243.66" y="234" width="5.4" height="5.4" fill="#f49c43"/>
<rect x="256.6" y="234" width="5.4" height="5.4" fill="#f49c43"/>
<rect x="62.5" y="240.45" width="5.4" height="5.4" fill="#f49c43"/>
<rect x="75.64" y="240.65" width="5" height="5" fill="#f6c690"/>
<rect x="89.08" y="241.15" width="4" height="4" fill="#5a95cb"/>
<rect x="102.02" y="241.15" width="4" height="4" fill="#5a95cb"/>
<rect x="114.46" y="240.65" width="5" height="5" fill="#f6c690"/>
<rect x="127.7" y="240.95" width="4.4" height="4.4" fill="#8bbde0"/>
<rect x="140.14" y="240.45" width="5.4" height="5.4" fill="#f49c43"/>
<rect x="153.58" y="240.95" width="4.4" height="4.4" fill="#8bbde0"/>
<rect x="166.72" y="241.15" width="4" height="4" fill="#5a95cb"/>
<rect x="179.66" y="241.15" width="4" height="4" fill="#5a95cb"/>
<rect x="192.4" y="240.95" width="4.4" height="4.4" fill="#8bbde0"/>
<rect x="205.34" y="240.95" width="4.4" height="4.4" fill="#8bbde0"/>
<rect x="218.18" y="240.85" width="4.6" height="4.6" fill="#b3cfdf"/>
<rect x="231.42" y="241.15" width="4" height="4" fill="#5a95cb"/>
<rect x="244.36" y="241.15" width="4" height="4" fill="#5a95cb"/>
<rect x="257.3" y="241.15" width="4" height="4" fill="#5a95cb"/>
<rect x="63" y="247.4" width="4.4" height="4.4" fill="#8bbde0"/>
<rect x="75.64" y="247.1" width="5" height="5" fill="#f6c690"/>
<rect x="89.08" y="247.6" width="4" height="4" fill="#5a95cb"/>
<rect x="102.02" y="247.6" width="4" height="4" fill="#5a95cb"/>
<rect x="114.26" y="246.9" width="5.4" height="5.4" fill="#f49c43"/>
<rect x="127.7" y="247.4" width="4.4" height="4.4" fill="#8bbde0"/>
<rect x="140.44" y="247.2" width="4.8" height="4.8" fill="#d6d4cc"/>
<rect x="153.58" y="247.4" width="4.4" height="4.4" fill="#8bbde0"/>
<rect x="166.72" y="247.6" width="4" height="4" fill="#5a95cb"/>
<rect x="179.46" y="247.4" width="4.4" height="4.4" fill="#8bbde0"/>
<rect x="192.1" y="247.1" width="5" height="5" fill="#f6c690"/>
<rect x="205.34" y="247.4" width="4.4" height="4.4" fill="#8bbde0"/>
<rect x="218.28" y="247.4" width="4.4" height="4.4" fill="#8bbde0"/>
<rect x="231.12" y="247.3" width="4.6" height="4.6" fill="#b3cfdf"/>
<rect x="244.16" y="247.4" width="4.4" height="4.4" fill="#8bbde0"/>
<rect x="257.1" y="247.4" width="4.4" height="4.4" fill="#8bbde0"/>
<rect x="62.8" y="253.65" width="4.8" height="4.8" fill="#d6d4cc"/>
<rect x="75.94" y="253.85" width="4.4" height="4.4" fill="#8bbde0"/>
<rect x="88.88" y="253.85" width="4.4" height="4.4" fill="#8bbde0"/>
<rect x="101.72" y="253.75" width="4.6" height="4.6" fill="#b3cfdf"/>
<rect x="114.06" y="253.15" width="5.8" height="5.8" fill="#e6772c"/>
<rect x="127" y="253.15" width="5.8" height="5.8" fill="#e6772c"/>
<rect x="139.84" y="253.05" width="6" height="6" fill="#c95b23"/>
<rect x="153.58" y="253.85" width="4.4" height="4.4" fill="#8bbde0"/>
<rect x="166.52" y="253.85" width="4.4" height="4.4" fill="#8bbde0"/>
<rect x="179.46" y="253.85" width="4.4" height="4.4" fill="#8bbde0"/>
<rect x="191.7" y="253.15" width="5.8" height="5.8" fill="#e6772c"/>
<rect x="204.64" y="253.15" width="5.8" height="5.8" fill="#e6772c"/>
<rect x="218.18" y="253.75" width="4.6" height="4.6" fill="#b3cfdf"/>
<rect x="231.42" y="254.05" width="4" height="4" fill="#5a95cb"/>
<rect x="243.66" y="253.35" width="5.4" height="5.4" fill="#f49c43"/>
<rect x="256.6" y="253.35" width="5.4" height="5.4" fill="#f49c43"/>
<rect x="62.2" y="259.5" width="6" height="6" fill="#c95b23"/>
<rect x="76.39" y="260.75" width="3.5" height="3.5" fill="#3a74b2"/>
<rect x="89.08" y="260.5" width="4" height="4" fill="#5a95cb"/>
<rect x="102.02" y="260.5" width="4" height="4" fill="#5a95cb"/>
<rect x="114.96" y="260.5" width="4" height="4" fill="#5a95cb"/>
<rect x="127.9" y="260.5" width="4" height="4" fill="#5a95cb"/>
<rect x="140.84" y="260.5" width="4" height="4" fill="#5a95cb"/>
<rect x="153.78" y="260.5" width="4" height="4" fill="#5a95cb"/>
<rect x="166.72" y="260.5" width="4" height="4" fill="#5a95cb"/>
<rect x="179.66" y="260.5" width="4" height="4" fill="#5a95cb"/>
<rect x="192.4" y="260.3" width="4.4" height="4.4" fill="#8bbde0"/>
<rect x="205.54" y="260.5" width="4" height="4" fill="#5a95cb"/>
<rect x="218.48" y="260.5" width="4" height="4" fill="#5a95cb"/>
<rect x="231.22" y="260.3" width="4.4" height="4.4" fill="#8bbde0"/>
<rect x="244.36" y="260.5" width="4" height="4" fill="#5a95cb"/>
<rect x="257.3" y="260.5" width="4" height="4" fill="#5a95cb"/>
<rect x="62.8" y="266.55" width="4.8" height="4.8" fill="#d6d4cc"/>
<rect x="75.94" y="266.75" width="4.4" height="4.4" fill="#8bbde0"/>
<rect x="89.08" y="266.95" width="4" height="4" fill="#5a95cb"/>
<rect x="102.02" y="266.95" width="4" height="4" fill="#5a95cb"/>
<rect x="114.76" y="266.75" width="4.4" height="4.4" fill="#8bbde0"/>
<rect x="127.9" y="266.95" width="4" height="4" fill="#5a95cb"/>
<rect x="140.64" y="266.75" width="4.4" height="4.4" fill="#8bbde0"/>
<rect x="153.58" y="266.75" width="4.4" height="4.4" fill="#8bbde0"/>
<rect x="166.72" y="266.95" width="4" height="4" fill="#5a95cb"/>
<rect x="179.66" y="266.95" width="4" height="4" fill="#5a95cb"/>
<rect x="192.4" y="266.75" width="4.4" height="4.4" fill="#8bbde0"/>
<rect x="205.54" y="266.95" width="4" height="4" fill="#5a95cb"/>
<rect x="218.48" y="266.95" width="4" height="4" fill="#5a95cb"/>
<rect x="231.22" y="266.75" width="4.4" height="4.4" fill="#8bbde0"/>
<rect x="244.36" y="266.95" width="4" height="4" fill="#5a95cb"/>
<rect x="257.3" y="266.95" width="4" height="4" fill="#5a95cb"/>
<rect x="63.45" y="273.65" width="3.5" height="3.5" fill="#3a74b2"/>
<rect x="75.94" y="273.2" width="4.4" height="4.4" fill="#8bbde0"/>
<rect x="89.08" y="273.4" width="4" height="4" fill="#5a95cb"/>
<rect x="102.02" y="273.4" width="4" height="4" fill="#5a95cb"/>
<rect x="114.56" y="273" width="4.8" height="4.8" fill="#d6d4cc"/>
<rect x="127.9" y="273.4" width="4" height="4" fill="#5a95cb"/>
<rect x="140.34" y="272.9" width="5" height="5" fill="#f6c690"/>
<rect x="153.58" y="273.2" width="4.4" height="4.4" fill="#8bbde0"/>
<rect x="166.72" y="273.4" width="4" height="4" fill="#5a95cb"/>
<rect x="179.36" y="273.1" width="4.6" height="4.6" fill="#b3cfdf"/>
<rect x="192.1" y="272.9" width="5" height="5" fill="#f6c690"/>
<rect x="205.34" y="273.2" width="4.4" height="4.4" fill="#8bbde0"/>
<rect x="217.58" y="272.5" width="5.8" height="5.8" fill="#e6772c"/>
<rect x="231.22" y="273.2" width="4.4" height="4.4" fill="#8bbde0"/>
<rect x="244.16" y="273.2" width="4.4" height="4.4" fill="#8bbde0"/>
<rect x="257.1" y="273.2" width="4.4" height="4.4" fill="#8bbde0"/>
<rect x="62.3" y="278.95" width="5.8" height="5.8" fill="#e6772c"/>
<rect x="75.24" y="278.95" width="5.8" height="5.8" fill="#e6772c"/>
<rect x="89.33" y="280.1" width="3.5" height="3.5" fill="#3a74b2"/>
<rect x="102.27" y="280.1" width="3.5" height="3.5" fill="#3a74b2"/>
<rect x="114.96" y="279.85" width="4" height="4" fill="#5a95cb"/>
<rect x="128.15" y="280.1" width="3.5" height="3.5" fill="#3a74b2"/>
<rect x="140.64" y="279.65" width="4.4" height="4.4" fill="#8bbde0"/>
<rect x="153.78" y="279.85" width="4" height="4" fill="#5a95cb"/>
<rect x="166.97" y="280.1" width="3.5" height="3.5" fill="#3a74b2"/>
<rect x="179.66" y="279.85" width="4" height="4" fill="#5a95cb"/>
<rect x="192.4" y="279.65" width="4.4" height="4.4" fill="#8bbde0"/>
<rect x="205.79" y="280.1" width="3.5" height="3.5" fill="#3a74b2"/>
<rect x="218.28" y="279.65" width="4.4" height="4.4" fill="#8bbde0"/>
<rect x="230.72" y="279.15" width="5.4" height="5.4" fill="#f49c43"/>
<rect x="244.36" y="279.85" width="4" height="4" fill="#5a95cb"/>
<rect x="257.55" y="280.1" width="3.5" height="3.5" fill="#3a74b2"/>
<rect x="62.5" y="285.6" width="5.4" height="5.4" fill="#f49c43"/>
<rect x="76.14" y="286.3" width="4" height="4" fill="#5a95cb"/>
<rect x="89.33" y="286.55" width="3.5" height="3.5" fill="#3a74b2"/>
<rect x="102.02" y="286.3" width="4" height="4" fill="#5a95cb"/>
<rect x="114.96" y="286.3" width="4" height="4" fill="#5a95cb"/>
<rect x="127.9" y="286.3" width="4" height="4" fill="#5a95cb"/>
<rect x="140.84" y="286.3" width="4" height="4" fill="#5a95cb"/>
<rect x="153.78" y="286.3" width="4" height="4" fill="#5a95cb"/>
<rect x="166.72" y="286.3" width="4" height="4" fill="#5a95cb"/>
<rect x="179.66" y="286.3" width="4" height="4" fill="#5a95cb"/>
<rect x="192.4" y="286.1" width="4.4" height="4.4" fill="#8bbde0"/>
<rect x="205.54" y="286.3" width="4" height="4" fill="#5a95cb"/>
<rect x="218.48" y="286.3" width="4" height="4" fill="#5a95cb"/>
<rect x="230.72" y="285.6" width="5.4" height="5.4" fill="#f49c43"/>
<rect x="244.36" y="286.3" width="4" height="4" fill="#5a95cb"/>
<rect x="257.3" y="286.3" width="4" height="4" fill="#5a95cb"/>
<rect x="62.5" y="292.05" width="5.4" height="5.4" fill="#f49c43"/>
<rect x="76.14" y="292.75" width="4" height="4" fill="#5a95cb"/>
<rect x="89.33" y="293" width="3.5" height="3.5" fill="#3a74b2"/>
<rect x="102.02" y="292.75" width="4" height="4" fill="#5a95cb"/>
<rect x="114.96" y="292.75" width="4" height="4" fill="#5a95cb"/>
<rect x="127.9" y="292.75" width="4" height="4" fill="#5a95cb"/>
<rect x="140.84" y="292.75" width="4" height="4" fill="#5a95cb"/>
<rect x="153.78" y="292.75" width="4" height="4" fill="#5a95cb"/>
<rect x="166.97" y="293" width="3.5" height="3.5" fill="#3a74b2"/>
<rect x="179.66" y="292.75" width="4" height="4" fill="#5a95cb"/>
<rect x="192.4" y="292.55" width="4.4" height="4.4" fill="#8bbde0"/>
<rect x="205.54" y="292.75" width="4" height="4" fill="#5a95cb"/>
<rect x="218.28" y="292.55" width="4.4" height="4.4" fill="#8bbde0"/>
<rect x="231.02" y="292.35" width="4.8" height="4.8" fill="#d6d4cc"/>
<rect x="244.36" y="292.75" width="4" height="4" fill="#5a95cb"/>
<rect x="257.3" y="292.75" width="4" height="4" fill="#5a95cb"/>
<rect x="63.45" y="299.45" width="3.5" height="3.5" fill="#3a74b2"/>
<rect x="76.39" y="299.45" width="3.5" height="3.5" fill="#3a74b2"/>
<rect x="88.38" y="298.5" width="5.4" height="5.4" fill="#f49c43"/>
<rect x="101.52" y="298.7" width="5" height="5" fill="#f6c690"/>
<rect x="115.21" y="299.45" width="3.5" height="3.5" fill="#3a74b2"/>
<rect x="128.15" y="299.45" width="3.5" height="3.5" fill="#3a74b2"/>
<rect x="139.94" y="298.3" width="5.8" height="5.8" fill="#e6772c"/>
<rect x="153.78" y="299.2" width="4" height="4" fill="#5a95cb"/>
<rect x="166.52" y="299" width="4.4" height="4.4" fill="#8bbde0"/>
<rect x="179.91" y="299.45" width="3.5" height="3.5" fill="#3a74b2"/>
<rect x="191.7" y="298.3" width="5.8" height="5.8" fill="#e6772c"/>
<rect x="204.64" y="298.3" width="5.8" height="5.8" fill="#e6772c"/>
<rect x="219.98" y="300.7" width="1" height="1" fill="#8aa6c0"/>
<rect x="232.92" y="300.7" width="1" height="1" fill="#8aa6c0"/>
<rect x="245.86" y="300.7" width="1" height="1" fill="#8aa6c0"/>
<rect x="258.8" y="300.7" width="1" height="1" fill="#8aa6c0"/>
<rect x="63.2" y="305.65" width="4" height="4" fill="#5a95cb"/>
<rect x="76.39" y="305.9" width="3.5" height="3.5" fill="#3a74b2"/>
<rect x="88.88" y="305.45" width="4.4" height="4.4" fill="#8bbde0"/>
<rect x="102.02" y="305.65" width="4" height="4" fill="#5a95cb"/>
<rect x="114.96" y="305.65" width="4" height="4" fill="#5a95cb"/>
<rect x="127.9" y="305.65" width="4" height="4" fill="#5a95cb"/>
<rect x="140.44" y="305.25" width="4.8" height="4.8" fill="#d6d4cc"/>
<rect x="154.03" y="305.9" width="3.5" height="3.5" fill="#3a74b2"/>
<rect x="166.72" y="305.65" width="4" height="4" fill="#5a95cb"/>
<rect x="179.66" y="305.65" width="4" height="4" fill="#5a95cb"/>
<rect x="192.1" y="305.15" width="5" height="5" fill="#f6c690"/>
<rect x="205.34" y="305.45" width="4.4" height="4.4" fill="#8bbde0"/>
<rect x="218.48" y="305.65" width="4" height="4" fill="#5a95cb"/>
<rect x="231.22" y="305.45" width="4.4" height="4.4" fill="#8bbde0"/>
<rect x="244.36" y="305.65" width="4" height="4" fill="#5a95cb"/>
<rect x="257.1" y="305.45" width="4.4" height="4.4" fill="#8bbde0"/>
<rect x="63.2" y="312.1" width="4" height="4" fill="#5a95cb"/>
<rect x="75.94" y="311.9" width="4.4" height="4.4" fill="#8bbde0"/>
<rect x="89.08" y="312.1" width="4" height="4" fill="#5a95cb"/>
<rect x="102.02" y="312.1" width="4" height="4" fill="#5a95cb"/>
<rect x="114.96" y="312.1" width="4" height="4" fill="#5a95cb"/>
<rect x="127.9" y="312.1" width="4" height="4" fill="#5a95cb"/>
<rect x="140.84" y="312.1" width="4" height="4" fill="#5a95cb"/>
<rect x="153.78" y="312.1" width="4" height="4" fill="#5a95cb"/>
<rect x="166.72" y="312.1" width="4" height="4" fill="#5a95cb"/>
<rect x="179.91" y="312.35" width="3.5" height="3.5" fill="#3a74b2"/>
<rect x="192.6" y="312.1" width="4" height="4" fill="#5a95cb"/>
<rect x="205.54" y="312.1" width="4" height="4" fill="#5a95cb"/>
<rect x="219.98" y="313.6" width="1" height="1" fill="#8aa6c0"/>
<rect x="232.92" y="313.6" width="1" height="1" fill="#8aa6c0"/>
<rect x="245.86" y="313.6" width="1" height="1" fill="#8aa6c0"/>
<rect x="258.8" y="313.6" width="1" height="1" fill="#8aa6c0"/>
<text x="270.6" y="155.3" font-size="4.4" fill="#2a2a2a" text-anchor="start" >Accuracy</text>
<rect x="272.3" y="157.8" width="1.8" height="1.8" fill="#d8d8d8" stroke="#bbb" stroke-width="0.4"/>
<text x="279.8" y="160.2" font-size="4.3" fill="#2a2a2a" text-anchor="start" >3.55</text>
<rect x="271.4" y="163.5" width="3.6" height="3.6" fill="#d8d8d8" stroke="#bbb" stroke-width="0.4"/>
<text x="279.8" y="166.8" font-size="4.3" fill="#2a2a2a" text-anchor="start" >10.00</text>
<rect x="271.05" y="169.75" width="4.3" height="4.3" fill="#d8d8d8" stroke="#bbb" stroke-width="0.4"/>
<text x="279.8" y="173.4" font-size="4.3" fill="#2a2a2a" text-anchor="start" >15.00</text>
<rect x="270.55" y="175.85" width="5.3" height="5.3" fill="#d8d8d8" stroke="#bbb" stroke-width="0.4"/>
<text x="279.8" y="180" font-size="4.3" fill="#2a2a2a" text-anchor="start" >20.67</text>
<text x="270.6" y="188.8" font-size="4.4" fill="#2a2a2a" text-anchor="start" >Accuracy</text>
<rect x="270.9" y="192.1" width="42.1" height="4.6" fill="url(#gb)"/>
<text x="270.9" y="201.9" font-size="4.3" fill="#2a2a2a" text-anchor="start" >3.55</text>
<text x="313" y="201.9" font-size="4.3" fill="#2a2a2a" text-anchor="end" >20.67</text>
<text x="316.6" y="139" font-size="7.5" fill="#111" text-anchor="start" >(c)</text>
<text x="499.3" y="143.7" font-size="5.37" fill="#2a2a2a" text-anchor="middle" >Parameter / Value</text>
<text x="413.4" y="150.7" font-size="5" fill="#2a2a2a" text-anchor="middle" ># Cells</text>
<text x="475" y="150.7" font-size="5" fill="#2a2a2a" text-anchor="middle" ># Markers</text>
<text x="535.7" y="150.7" font-size="5" fill="#2a2a2a" text-anchor="middle" ># Trees</text>
<text x="595.9" y="150.7" font-size="5" fill="#2a2a2a" text-anchor="middle" ># Types</text>
<text x="390.1" y="158.3" font-size="4.8" fill="#555" text-anchor="middle" >10k</text>
<text x="402.2" y="158.3" font-size="4.8" fill="#555" text-anchor="middle" >100k</text>
<text x="414.3" y="158.3" font-size="4.8" fill="#555" text-anchor="middle" >200k</text>
<text x="426.4" y="158.3" font-size="4.8" fill="#555" text-anchor="middle" >400k</text>
<text x="438.5" y="158.3" font-size="4.8" fill="#555" text-anchor="middle" >600k</text>
<text x="450.6" y="158.3" font-size="4.8" fill="#555" text-anchor="middle" >30</text>
<text x="462.7" y="158.3" font-size="4.8" fill="#555" text-anchor="middle" >35</text>
<text x="474.8" y="158.3" font-size="4.8" fill="#555" text-anchor="middle" >40</text>
<text x="486.9" y="158.3" font-size="4.8" fill="#555" text-anchor="middle" >50</text>
<text x="499" y="158.3" font-size="4.8" fill="#555" text-anchor="middle" >60</text>
<text x="511.1" y="158.3" font-size="4.8" fill="#555" text-anchor="middle" >2</text>
<text x="523.2" y="158.3" font-size="4.8" fill="#555" text-anchor="middle" >3</text>
<text x="535.3" y="158.3" font-size="4.8" fill="#555" text-anchor="middle" >4</text>
<text x="547.4" y="158.3" font-size="4.8" fill="#555" text-anchor="middle" >5</text>
<text x="559.5" y="158.3" font-size="4.8" fill="#555" text-anchor="middle" >10</text>
<text x="571.6" y="158.3" font-size="4.8" fill="#555" text-anchor="middle" >5</text>
<text x="583.7" y="158.3" font-size="4.8" fill="#555" text-anchor="middle" >10</text>
<text x="595.8" y="158.3" font-size="4.8" fill="#555" text-anchor="middle" >15</text>
<text x="607.9" y="158.3" font-size="4.8" fill="#555" text-anchor="middle" >20</text>
<text x="330.5" y="158.3" font-size="4.8" fill="#2a2a2a" text-anchor="start" >Method</text>
<line x1="328" y1="159.7" x2="614.3" y2="159.7" stroke="#e4e4e4" stroke-width="0.8"/>
<line x1="328" y1="314.3" x2="614.3" y2="314.3" stroke="#d4d4d4" stroke-width="0.8"/>
<line x1="384" y1="145" x2="384" y2="318" stroke="#dcdcdc" stroke-width="0.8"/>
<line x1="444.8" y1="145" x2="444.8" y2="318" stroke="#dcdcdc" stroke-width="0.8"/>
<line x1="505.5" y1="145" x2="505.5" y2="318" stroke="#dcdcdc" stroke-width="0.8"/>
<line x1="565.6" y1="145" x2="565.6" y2="318" stroke="#dcdcdc" stroke-width="0.8"/>
<line x1="614.3" y1="138" x2="614.3" y2="318" stroke="#dcdcdc" stroke-width="0.8"/>
<text x="330.1" y="165.6" font-size="5.83" fill="#222" text-anchor="start" >SAUCIE</text>
<text x="330.1" y="172.93" font-size="5.83" fill="#222" text-anchor="start" >SQuaD-MOS Hybrid</text>
<text x="330.1" y="180.26" font-size="5.83" fill="#222" text-anchor="start" >scvis (Full)</text>
<text x="330.1" y="187.59" font-size="5.83" fill="#222" text-anchor="start" >UMAP</text>
<text x="330.1" y="194.92" font-size="5.83" fill="#222" text-anchor="start" >scvis</text>
<text x="330.1" y="202.25" font-size="5.83" fill="#222" text-anchor="start" >tSNE (sklearn)</text>
<text x="330.1" y="209.58" font-size="5.83" fill="#222" text-anchor="start" >tSNE</text>
<text x="330.1" y="216.91" font-size="5.83" fill="#222" text-anchor="start" >SQuaD-MOS</text>
<text x="330.1" y="224.24" font-size="5.83" fill="#222" text-anchor="start" >PHATE</text>
<text x="330.1" y="231.57" font-size="5.83" fill="#222" text-anchor="start" >PCA</text>
<text x="330.1" y="238.9" font-size="5.83" fill="#222" text-anchor="start" >GrandPrix</text>
<text x="330.1" y="246.23" font-size="5.83" fill="#222" text-anchor="start" >Isomap</text>
<text x="330.1" y="253.56" font-size="5.83" fill="#222" text-anchor="start" >KPCA Poly</text>
<text x="330.1" y="260.89" font-size="5.83" fill="#222" text-anchor="start" >ICA</text>
<text x="330.1" y="268.22" font-size="5.83" fill="#222" text-anchor="start" >KPCA RBF</text>
<text x="330.1" y="275.55" font-size="5.83" fill="#222" text-anchor="start" >NMF</text>
<text x="330.1" y="282.88" font-size="5.83" fill="#222" text-anchor="start" >ZIFA</text>
<text x="330.1" y="290.21" font-size="5.83" fill="#222" text-anchor="start" >FA</text>
<text x="330.1" y="297.54" font-size="5.83" fill="#222" text-anchor="start" >DiffMap</text>
<text x="330.1" y="304.87" font-size="5.83" fill="#222" text-anchor="start" >LLE</text>
<text x="330.1" y="312.2" font-size="5.83" fill="#222" text-anchor="start" >Spectral</text>
<rect x="386.8" y="160.3" width="6.6" height="6.6" fill="#f3933a"/>
<rect x="398.9" y="160.3" width="6.6" height="6.6" fill="#f3933a"/>
<rect x="411" y="160.3" width="6.6" height="6.6" fill="#f3933a"/>
<rect x="423.1" y="160.3" width="6.6" height="6.6" fill="#f3933a"/>
<rect x="435.2" y="160.3" width="6.6" height="6.6" fill="#f3933a"/>
<rect x="447.3" y="160.3" width="6.6" height="6.6" fill="#f3933a"/>
<rect x="459.4" y="160.3" width="6.6" height="6.6" fill="#f3933a"/>
<rect x="471.5" y="160.3" width="6.6" height="6.6" fill="#f3933a"/>
<rect x="483.75" y="160.45" width="6.3" height="6.3" fill="#f8aa55"/>
<rect x="495.85" y="160.45" width="6.3" height="6.3" fill="#f8aa55"/>
<rect x="507.8" y="160.3" width="6.6" height="6.6" fill="#f3933a"/>
<rect x="519.9" y="160.3" width="6.6" height="6.6" fill="#f3933a"/>
<rect x="532" y="160.3" width="6.6" height="6.6" fill="#f3933a"/>
<rect x="544.1" y="160.3" width="6.6" height="6.6" fill="#f3933a"/>
<rect x="556.2" y="160.3" width="6.6" height="6.6" fill="#f3933a"/>
<rect x="568.45" y="160.45" width="6.3" height="6.3" fill="#f8aa55"/>
<rect x="580.55" y="160.45" width="6.3" height="6.3" fill="#f8aa55"/>
<rect x="592.5" y="160.3" width="6.6" height="6.6" fill="#f3933a"/>
<rect x="604.6" y="160.3" width="6.6" height="6.6" fill="#f3933a"/>
<rect x="386.95" y="167.78" width="6.3" height="6.3" fill="#f8aa55"/>
<rect x="399.05" y="167.78" width="6.3" height="6.3" fill="#f8aa55"/>
<rect x="411.15" y="167.78" width="6.3" height="6.3" fill="#f8aa55"/>
<rect x="423.25" y="167.78" width="6.3" height="6.3" fill="#f8aa55"/>
<rect x="435.35" y="167.78" width="6.3" height="6.3" fill="#f8aa55"/>
<rect x="447.45" y="167.78" width="6.3" height="6.3" fill="#f8aa55"/>
<rect x="459.55" y="167.78" width="6.3" height="6.3" fill="#f8aa55"/>
<rect x="471.65" y="167.78" width="6.3" height="6.3" fill="#f8aa55"/>
<rect x="483.75" y="167.78" width="6.3" height="6.3" fill="#f8aa55"/>
<rect x="495.85" y="167.78" width="6.3" height="6.3" fill="#f8aa55"/>
<rect x="507.8" y="167.63" width="6.6" height="6.6" fill="#f3933a"/>
<rect x="520.05" y="167.78" width="6.3" height="6.3" fill="#f8aa55"/>
<rect x="532.15" y="167.78" width="6.3" height="6.3" fill="#f8aa55"/>
<rect x="544.1" y="167.63" width="6.6" height="6.6" fill="#f3933a"/>
<rect x="556.35" y="167.78" width="6.3" height="6.3" fill="#f8aa55"/>
<rect x="568.45" y="167.78" width="6.3" height="6.3" fill="#f8aa55"/>
<rect x="580.55" y="167.78" width="6.3" height="6.3" fill="#f8aa55"/>
<rect x="592.65" y="167.78" width="6.3" height="6.3" fill="#f8aa55"/>
<rect x="604.6" y="167.63" width="6.6" height="6.6" fill="#f3933a"/>
<rect x="386.95" y="175.11" width="6.3" height="6.3" fill="#f8aa55"/>
<rect x="398.9" y="174.96" width="6.6" height="6.6" fill="#f3933a"/>
<rect x="411" y="174.96" width="6.6" height="6.6" fill="#f3933a"/>
<rect x="423.1" y="174.96" width="6.6" height="6.6" fill="#f3933a"/>
<rect x="435.35" y="175.11" width="6.3" height="6.3" fill="#f8aa55"/>
<rect x="447.45" y="175.11" width="6.3" height="6.3" fill="#f8aa55"/>
<rect x="459.55" y="175.11" width="6.3" height="6.3" fill="#f8aa55"/>
<rect x="471.5" y="174.96" width="6.6" height="6.6" fill="#f3933a"/>
<rect x="483.75" y="175.11" width="6.3" height="6.3" fill="#f8aa55"/>
<rect x="495.85" y="175.11" width="6.3" height="6.3" fill="#f8aa55"/>
<rect x="507.8" y="174.96" width="6.6" height="6.6" fill="#f3933a"/>
<rect x="520.05" y="175.11" width="6.3" height="6.3" fill="#f8aa55"/>
<rect x="532" y="174.96" width="6.6" height="6.6" fill="#f3933a"/>
<rect x="544.25" y="175.11" width="6.3" height="6.3" fill="#f8aa55"/>
<rect x="556.2" y="174.96" width="6.6" height="6.6" fill="#f3933a"/>
<rect x="568.55" y="175.21" width="6.1" height="6.1" fill="#f2cb99"/>
<rect x="580.55" y="175.11" width="6.3" height="6.3" fill="#f8aa55"/>
<rect x="592.65" y="175.11" width="6.3" height="6.3" fill="#f8aa55"/>
<rect x="604.6" y="174.96" width="6.6" height="6.6" fill="#f3933a"/>
<rect x="386.95" y="182.44" width="6.3" height="6.3" fill="#f8aa55"/>
<rect x="399.05" y="182.44" width="6.3" height="6.3" fill="#f8aa55"/>
<rect x="411.15" y="182.44" width="6.3" height="6.3" fill="#f8aa55"/>
<rect x="423.1" y="182.29" width="6.6" height="6.6" fill="#f3933a"/>
<rect x="435.35" y="182.44" width="6.3" height="6.3" fill="#f8aa55"/>
<rect x="447.45" y="182.44" width="6.3" height="6.3" fill="#f8aa55"/>
<rect x="459.55" y="182.44" width="6.3" height="6.3" fill="#f8aa55"/>
<rect x="471.65" y="182.44" width="6.3" height="6.3" fill="#f8aa55"/>
<rect x="483.75" y="182.44" width="6.3" height="6.3" fill="#f8aa55"/>
<rect x="495.85" y="182.44" width="6.3" height="6.3" fill="#f8aa55"/>
<rect x="507.8" y="182.29" width="6.6" height="6.6" fill="#f3933a"/>
<rect x="520.05" y="182.44" width="6.3" height="6.3" fill="#f8aa55"/>
<rect x="532.15" y="182.44" width="6.3" height="6.3" fill="#f8aa55"/>
<rect x="544.25" y="182.44" width="6.3" height="6.3" fill="#f8aa55"/>
<rect x="556.2" y="182.29" width="6.6" height="6.6" fill="#f3933a"/>
<rect x="568.45" y="182.44" width="6.3" height="6.3" fill="#f8aa55"/>
<rect x="580.55" y="182.44" width="6.3" height="6.3" fill="#f8aa55"/>
<rect x="592.65" y="182.44" width="6.3" height="6.3" fill="#f8aa55"/>
<rect x="604.75" y="182.44" width="6.3" height="6.3" fill="#f8aa55"/>
<rect x="386.8" y="189.62" width="6.6" height="6.6" fill="#f3933a"/>
<rect x="398.9" y="189.62" width="6.6" height="6.6" fill="#f3933a"/>
<rect x="411" y="189.62" width="6.6" height="6.6" fill="#f3933a"/>
<rect x="423.1" y="189.62" width="6.6" height="6.6" fill="#f3933a"/>
<rect x="435.2" y="189.62" width="6.6" height="6.6" fill="#f3933a"/>
<rect x="447.3" y="189.62" width="6.6" height="6.6" fill="#f3933a"/>
<rect x="459.4" y="189.62" width="6.6" height="6.6" fill="#f3933a"/>
<rect x="471.5" y="189.62" width="6.6" height="6.6" fill="#f3933a"/>
<rect x="483.75" y="189.77" width="6.3" height="6.3" fill="#f8aa55"/>
<rect x="495.85" y="189.77" width="6.3" height="6.3" fill="#f8aa55"/>
<rect x="507.8" y="189.62" width="6.6" height="6.6" fill="#f3933a"/>
<rect x="519.9" y="189.62" width="6.6" height="6.6" fill="#f3933a"/>
<rect x="532" y="189.62" width="6.6" height="6.6" fill="#f3933a"/>
<rect x="544.25" y="189.77" width="6.3" height="6.3" fill="#f8aa55"/>
<rect x="556.2" y="189.62" width="6.6" height="6.6" fill="#f3933a"/>
<rect x="568.45" y="189.77" width="6.3" height="6.3" fill="#f8aa55"/>
<rect x="580.55" y="189.77" width="6.3" height="6.3" fill="#f8aa55"/>
<rect x="592.65" y="189.77" width="6.3" height="6.3" fill="#f8aa55"/>
<rect x="604.6" y="189.62" width="6.6" height="6.6" fill="#f3933a"/>
<rect x="387.05" y="197.2" width="6.1" height="6.1" fill="#f2cb99"/>
<rect x="399.05" y="197.1" width="6.3" height="6.3" fill="#f8aa55"/>
<rect x="411.15" y="197.1" width="6.3" height="6.3" fill="#f8aa55"/>
<rect x="423.25" y="197.1" width="6.3" height="6.3" fill="#f8aa55"/>
<rect x="435.35" y="197.1" width="6.3" height="6.3" fill="#f8aa55"/>
<rect x="447.45" y="197.1" width="6.3" height="6.3" fill="#f8aa55"/>
<rect x="459.55" y="197.1" width="6.3" height="6.3" fill="#f8aa55"/>
<rect x="471.65" y="197.1" width="6.3" height="6.3" fill="#f8aa55"/>
<rect x="483.75" y="197.1" width="6.3" height="6.3" fill="#f8aa55"/>
<rect x="495.85" y="197.1" width="6.3" height="6.3" fill="#f8aa55"/>
<rect x="507.95" y="197.1" width="6.3" height="6.3" fill="#f8aa55"/>
<rect x="520.05" y="197.1" width="6.3" height="6.3" fill="#f8aa55"/>
<rect x="532.15" y="197.1" width="6.3" height="6.3" fill="#f8aa55"/>
<rect x="544.25" y="197.1" width="6.3" height="6.3" fill="#f8aa55"/>
<rect x="556.45" y="197.2" width="6.1" height="6.1" fill="#f2cb99"/>
<rect x="568.65" y="197.3" width="5.9" height="5.9" fill="#b3cfdf"/>
<rect x="580.7" y="197.25" width="6" height="6" fill="#d6d4cc"/>
<rect x="592.65" y="197.1" width="6.3" height="6.3" fill="#f8aa55"/>
<rect x="604.75" y="197.1" width="6.3" height="6.3" fill="#f8aa55"/>
<rect x="387.1" y="204.58" width="6" height="6" fill="#d6d4cc"/>
<rect x="399.05" y="204.43" width="6.3" height="6.3" fill="#f8aa55"/>
<rect x="411.15" y="204.43" width="6.3" height="6.3" fill="#f8aa55"/>
<rect x="423.25" y="204.43" width="6.3" height="6.3" fill="#f8aa55"/>
<rect x="435.35" y="204.43" width="6.3" height="6.3" fill="#f8aa55"/>
<rect x="447.45" y="204.43" width="6.3" height="6.3" fill="#f8aa55"/>
<rect x="459.55" y="204.43" width="6.3" height="6.3" fill="#f8aa55"/>
<rect x="471.65" y="204.43" width="6.3" height="6.3" fill="#f8aa55"/>
<rect x="483.75" y="204.43" width="6.3" height="6.3" fill="#f8aa55"/>
<rect x="495.85" y="204.43" width="6.3" height="6.3" fill="#f8aa55"/>
<rect x="507.95" y="204.43" width="6.3" height="6.3" fill="#f8aa55"/>
<rect x="520.05" y="204.43" width="6.3" height="6.3" fill="#f8aa55"/>
<rect x="532.15" y="204.43" width="6.3" height="6.3" fill="#f8aa55"/>
<rect x="544.25" y="204.43" width="6.3" height="6.3" fill="#f8aa55"/>
<rect x="556.5" y="204.58" width="6" height="6" fill="#d6d4cc"/>
<rect x="568.75" y="204.73" width="5.7" height="5.7" fill="#8bbde0"/>
<rect x="580.7" y="204.58" width="6" height="6" fill="#d6d4cc"/>
<rect x="592.65" y="204.43" width="6.3" height="6.3" fill="#f8aa55"/>
<rect x="604.75" y="204.43" width="6.3" height="6.3" fill="#f8aa55"/>
<rect x="387.05" y="211.86" width="6.1" height="6.1" fill="#f2cb99"/>
<rect x="399.05" y="211.76" width="6.3" height="6.3" fill="#f8aa55"/>
<rect x="411.15" y="211.76" width="6.3" height="6.3" fill="#f8aa55"/>
<rect x="423.1" y="211.61" width="6.6" height="6.6" fill="#f3933a"/>
<rect x="435.35" y="211.76" width="6.3" height="6.3" fill="#f8aa55"/>
<rect x="447.45" y="211.76" width="6.3" height="6.3" fill="#f8aa55"/>
<rect x="459.55" y="211.76" width="6.3" height="6.3" fill="#f8aa55"/>
<rect x="471.65" y="211.76" width="6.3" height="6.3" fill="#f8aa55"/>
<rect x="483.75" y="211.76" width="6.3" height="6.3" fill="#f8aa55"/>
<rect x="495.85" y="211.76" width="6.3" height="6.3" fill="#f8aa55"/>
<rect x="507.95" y="211.76" width="6.3" height="6.3" fill="#f8aa55"/>
<rect x="520.05" y="211.76" width="6.3" height="6.3" fill="#f8aa55"/>
<rect x="532.15" y="211.76" width="6.3" height="6.3" fill="#f8aa55"/>
<rect x="544.25" y="211.76" width="6.3" height="6.3" fill="#f8aa55"/>
<rect x="556.35" y="211.76" width="6.3" height="6.3" fill="#f8aa55"/>
<rect x="568.45" y="211.76" width="6.3" height="6.3" fill="#f8aa55"/>
<rect x="580.55" y="211.76" width="6.3" height="6.3" fill="#f8aa55"/>
<rect x="592.65" y="211.76" width="6.3" height="6.3" fill="#f8aa55"/>
<rect x="604.75" y="211.76" width="6.3" height="6.3" fill="#f8aa55"/>
<rect x="387.25" y="219.39" width="5.7" height="5.7" fill="#8bbde0"/>
<rect x="399.25" y="219.29" width="5.9" height="5.9" fill="#b3cfdf"/>
<rect x="411.25" y="219.19" width="6.1" height="6.1" fill="#f2cb99"/>
<rect x="423.25" y="219.09" width="6.3" height="6.3" fill="#f8aa55"/>
<rect x="435.35" y="219.09" width="6.3" height="6.3" fill="#f8aa55"/>
<rect x="447.6" y="219.24" width="6" height="6" fill="#d6d4cc"/>
<rect x="459.75" y="219.29" width="5.9" height="5.9" fill="#b3cfdf"/>
<rect x="471.85" y="219.29" width="5.9" height="5.9" fill="#b3cfdf"/>
<rect x="483.95" y="219.29" width="5.9" height="5.9" fill="#b3cfdf"/>
<rect x="496" y="219.24" width="6" height="6" fill="#d6d4cc"/>
<rect x="508.15" y="219.29" width="5.9" height="5.9" fill="#b3cfdf"/>
<rect x="520.25" y="219.29" width="5.9" height="5.9" fill="#b3cfdf"/>
<rect x="532.3" y="219.24" width="6" height="6" fill="#d6d4cc"/>
<rect x="544.35" y="219.19" width="6.1" height="6.1" fill="#f2cb99"/>
<rect x="556.55" y="219.29" width="5.9" height="5.9" fill="#b3cfdf"/>
<rect x="568.75" y="219.39" width="5.7" height="5.7" fill="#8bbde0"/>
<rect x="580.85" y="219.39" width="5.7" height="5.7" fill="#8bbde0"/>
<rect x="592.85" y="219.29" width="5.9" height="5.9" fill="#b3cfdf"/>
<rect x="604.95" y="219.29" width="5.9" height="5.9" fill="#b3cfdf"/>
<rect x="387.25" y="226.72" width="5.7" height="5.7" fill="#8bbde0"/>
<rect x="399.25" y="226.62" width="5.9" height="5.9" fill="#b3cfdf"/>
<rect x="411.45" y="226.72" width="5.7" height="5.7" fill="#8bbde0"/>
<rect x="423.4" y="226.57" width="6" height="6" fill="#d6d4cc"/>
<rect x="435.5" y="226.57" width="6" height="6" fill="#d6d4cc"/>
<rect x="447.75" y="226.72" width="5.7" height="5.7" fill="#8bbde0"/>
<rect x="459.85" y="226.72" width="5.7" height="5.7" fill="#8bbde0"/>
<rect x="471.95" y="226.72" width="5.7" height="5.7" fill="#8bbde0"/>
<rect x="483.9" y="226.57" width="6" height="6" fill="#d6d4cc"/>
<rect x="496.15" y="226.72" width="5.7" height="5.7" fill="#8bbde0"/>
<rect x="508.25" y="226.72" width="5.7" height="5.7" fill="#8bbde0"/>
<rect x="520.35" y="226.72" width="5.7" height="5.7" fill="#8bbde0"/>
<rect x="532.45" y="226.72" width="5.7" height="5.7" fill="#8bbde0"/>
<rect x="544.55" y="226.72" width="5.7" height="5.7" fill="#8bbde0"/>
<rect x="556.5" y="226.57" width="6" height="6" fill="#d6d4cc"/>
<rect x="568.55" y="226.52" width="6.1" height="6.1" fill="#f2cb99"/>
<rect x="580.7" y="226.57" width="6" height="6" fill="#d6d4cc"/>
<rect x="592.95" y="226.72" width="5.7" height="5.7" fill="#8bbde0"/>
<rect x="605.05" y="226.72" width="5.7" height="5.7" fill="#8bbde0"/>
<rect x="387.1" y="233.9" width="6" height="6" fill="#d6d4cc"/>
<rect x="399.35" y="234.05" width="5.7" height="5.7" fill="#8bbde0"/>
<rect x="411.45" y="234.05" width="5.7" height="5.7" fill="#8bbde0"/>
<rect x="423.35" y="233.85" width="6.1" height="6.1" fill="#f2cb99"/>
<rect x="435.55" y="233.95" width="5.9" height="5.9" fill="#b3cfdf"/>
<rect x="447.75" y="234.05" width="5.7" height="5.7" fill="#8bbde0"/>
<rect x="459.85" y="234.05" width="5.7" height="5.7" fill="#8bbde0"/>
<rect x="471.95" y="234.05" width="5.7" height="5.7" fill="#8bbde0"/>
<rect x="484.05" y="234.05" width="5.7" height="5.7" fill="#8bbde0"/>
<rect x="496.05" y="233.95" width="5.9" height="5.9" fill="#b3cfdf"/>
<rect x="508.25" y="234.05" width="5.7" height="5.7" fill="#8bbde0"/>
<rect x="520.35" y="234.05" width="5.7" height="5.7" fill="#8bbde0"/>
<rect x="532.45" y="234.05" width="5.7" height="5.7" fill="#8bbde0"/>
<rect x="544.55" y="234.05" width="5.7" height="5.7" fill="#8bbde0"/>
<rect x="556.55" y="233.95" width="5.9" height="5.9" fill="#b3cfdf"/>
<rect x="568.55" y="233.85" width="6.1" height="6.1" fill="#f2cb99"/>
<rect x="580.65" y="233.85" width="6.1" height="6.1" fill="#f2cb99"/>
<rect x="592.95" y="234.05" width="5.7" height="5.7" fill="#8bbde0"/>
<rect x="605.05" y="234.05" width="5.7" height="5.7" fill="#8bbde0"/>
<rect x="387.25" y="241.38" width="5.7" height="5.7" fill="#8bbde0"/>
<rect x="399.35" y="241.38" width="5.7" height="5.7" fill="#8bbde0"/>
<rect x="411.45" y="241.38" width="5.7" height="5.7" fill="#8bbde0"/>
<rect x="423.45" y="241.28" width="5.9" height="5.9" fill="#b3cfdf"/>
<rect x="435.35" y="241.08" width="6.3" height="6.3" fill="#f8aa55"/>
<rect x="447.75" y="241.38" width="5.7" height="5.7" fill="#8bbde0"/>
<rect x="459.85" y="241.38" width="5.7" height="5.7" fill="#8bbde0"/>
<rect x="471.95" y="241.38" width="5.7" height="5.7" fill="#8bbde0"/>
<rect x="484.05" y="241.38" width="5.7" height="5.7" fill="#8bbde0"/>
<rect x="496.15" y="241.38" width="5.7" height="5.7" fill="#8bbde0"/>
<rect x="508.1" y="241.23" width="6" height="6" fill="#d6d4cc"/>
<rect x="520.35" y="241.38" width="5.7" height="5.7" fill="#8bbde0"/>
<rect x="532.45" y="241.38" width="5.7" height="5.7" fill="#8bbde0"/>
<rect x="544.75" y="241.58" width="5.3" height="5.3" fill="#629bce"/>
<rect x="557.7" y="242.43" width="3.6" height="3.6" fill="#3a74b2"/>
<rect x="568.75" y="241.38" width="5.7" height="5.7" fill="#8bbde0"/>
<rect x="580.75" y="241.28" width="5.9" height="5.9" fill="#b3cfdf"/>
<rect x="592.95" y="241.38" width="5.7" height="5.7" fill="#8bbde0"/>
<rect x="604.95" y="241.28" width="5.9" height="5.9" fill="#b3cfdf"/>
<rect x="387.25" y="248.71" width="5.7" height="5.7" fill="#8bbde0"/>
<rect x="399.35" y="248.71" width="5.7" height="5.7" fill="#8bbde0"/>
<rect x="411.45" y="248.71" width="5.7" height="5.7" fill="#8bbde0"/>
<rect x="425.9" y="251.06" width="1" height="1" fill="#8aa6c0"/>
<rect x="438" y="251.06" width="1" height="1" fill="#8aa6c0"/>
<rect x="447.75" y="248.71" width="5.7" height="5.7" fill="#8bbde0"/>
<rect x="459.85" y="248.71" width="5.7" height="5.7" fill="#8bbde0"/>
<rect x="471.95" y="248.71" width="5.7" height="5.7" fill="#8bbde0"/>
<rect x="484.05" y="248.71" width="5.7" height="5.7" fill="#8bbde0"/>
<rect x="496" y="248.56" width="6" height="6" fill="#d6d4cc"/>
<rect x="508.25" y="248.71" width="5.7" height="5.7" fill="#8bbde0"/>
<rect x="520.35" y="248.71" width="5.7" height="5.7" fill="#8bbde0"/>
<rect x="532.45" y="248.71" width="5.7" height="5.7" fill="#8bbde0"/>
<rect x="544.55" y="248.71" width="5.7" height="5.7" fill="#8bbde0"/>
<rect x="556.5" y="248.56" width="6" height="6" fill="#d6d4cc"/>
<rect x="568.55" y="248.51" width="6.1" height="6.1" fill="#f2cb99"/>
<rect x="580.7" y="248.56" width="6" height="6" fill="#d6d4cc"/>
<rect x="592.95" y="248.71" width="5.7" height="5.7" fill="#8bbde0"/>
<rect x="605.05" y="248.71" width="5.7" height="5.7" fill="#8bbde0"/>
<rect x="387.25" y="256.04" width="5.7" height="5.7" fill="#8bbde0"/>
<rect x="399.35" y="256.04" width="5.7" height="5.7" fill="#8bbde0"/>
<rect x="411.45" y="256.04" width="5.7" height="5.7" fill="#8bbde0"/>
<rect x="423.4" y="255.89" width="6" height="6" fill="#d6d4cc"/>
<circle cx="426.4" cy="258.89" r="0.9" fill="#111"/>
<rect x="435.5" y="255.89" width="6" height="6" fill="#d6d4cc"/>
<circle cx="438.5" cy="258.89" r="0.9" fill="#111"/>
<rect x="447.75" y="256.04" width="5.7" height="5.7" fill="#8bbde0"/>
<rect x="459.85" y="256.04" width="5.7" height="5.7" fill="#8bbde0"/>
<rect x="471.95" y="256.04" width="5.7" height="5.7" fill="#8bbde0"/>
<rect x="484.05" y="256.04" width="5.7" height="5.7" fill="#8bbde0"/>
<rect x="496.15" y="256.04" width="5.7" height="5.7" fill="#8bbde0"/>
<rect x="508.25" y="256.04" width="5.7" height="5.7" fill="#8bbde0"/>
<rect x="520.35" y="256.04" width="5.7" height="5.7" fill="#8bbde0"/>
<rect x="532.45" y="256.04" width="5.7" height="5.7" fill="#8bbde0"/>
<rect x="544.55" y="256.04" width="5.7" height="5.7" fill="#8bbde0"/>
<rect x="556.65" y="256.04" width="5.7" height="5.7" fill="#8bbde0"/>
<rect x="568.75" y="256.04" width="5.7" height="5.7" fill="#8bbde0"/>
<rect x="580.85" y="256.04" width="5.7" height="5.7" fill="#8bbde0"/>
<rect x="592.95" y="256.04" width="5.7" height="5.7" fill="#8bbde0"/>
<rect x="605.05" y="256.04" width="5.7" height="5.7" fill="#8bbde0"/>
<rect x="387.25" y="263.37" width="5.7" height="5.7" fill="#8bbde0"/>
<rect x="399.35" y="263.37" width="5.7" height="5.7" fill="#8bbde0"/>
<rect x="411.45" y="263.37" width="5.7" height="5.7" fill="#8bbde0"/>
<rect x="425.9" y="265.72" width="1" height="1" fill="#8aa6c0"/>
<rect x="438" y="265.72" width="1" height="1" fill="#8aa6c0"/>
<rect x="447.75" y="263.37" width="5.7" height="5.7" fill="#8bbde0"/>
<rect x="459.85" y="263.37" width="5.7" height="5.7" fill="#8bbde0"/>
<rect x="471.95" y="263.37" width="5.7" height="5.7" fill="#8bbde0"/>
<rect x="484.05" y="263.37" width="5.7" height="5.7" fill="#8bbde0"/>
<rect x="496.15" y="263.37" width="5.7" height="5.7" fill="#8bbde0"/>
<rect x="508.25" y="263.37" width="5.7" height="5.7" fill="#8bbde0"/>
<rect x="520.35" y="263.37" width="5.7" height="5.7" fill="#8bbde0"/>
<rect x="532.45" y="263.37" width="5.7" height="5.7" fill="#8bbde0"/>
<rect x="544.55" y="263.37" width="5.7" height="5.7" fill="#8bbde0"/>
<rect x="556.65" y="263.37" width="5.7" height="5.7" fill="#8bbde0"/>
<rect x="568.75" y="263.37" width="5.7" height="5.7" fill="#8bbde0"/>
<rect x="580.85" y="263.37" width="5.7" height="5.7" fill="#8bbde0"/>
<rect x="592.95" y="263.37" width="5.7" height="5.7" fill="#8bbde0"/>
<rect x="605.05" y="263.37" width="5.7" height="5.7" fill="#8bbde0"/>
<rect x="387.45" y="270.9" width="5.3" height="5.3" fill="#629bce"/>
<rect x="399.55" y="270.9" width="5.3" height="5.3" fill="#629bce"/>
<rect x="411.65" y="270.9" width="5.3" height="5.3" fill="#629bce"/>
<rect x="423.55" y="270.7" width="5.7" height="5.7" fill="#8bbde0"/>
<rect x="435.65" y="270.7" width="5.7" height="5.7" fill="#8bbde0"/>
<rect x="447.95" y="270.9" width="5.3" height="5.3" fill="#629bce"/>
<rect x="460.05" y="270.9" width="5.3" height="5.3" fill="#629bce"/>
<rect x="472.15" y="270.9" width="5.3" height="5.3" fill="#629bce"/>
<rect x="484.25" y="270.9" width="5.3" height="5.3" fill="#629bce"/>
<rect x="496.35" y="270.9" width="5.3" height="5.3" fill="#629bce"/>
<rect x="508.45" y="270.9" width="5.3" height="5.3" fill="#629bce"/>
<rect x="520.55" y="270.9" width="5.3" height="5.3" fill="#629bce"/>
<rect x="532.65" y="270.9" width="5.3" height="5.3" fill="#629bce"/>
<rect x="544.75" y="270.9" width="5.3" height="5.3" fill="#629bce"/>
<rect x="556.85" y="270.9" width="5.3" height="5.3" fill="#629bce"/>
<rect x="568.75" y="270.7" width="5.7" height="5.7" fill="#8bbde0"/>
<rect x="581.05" y="270.9" width="5.3" height="5.3" fill="#629bce"/>
<rect x="593.15" y="270.9" width="5.3" height="5.3" fill="#629bce"/>
<rect x="605.25" y="270.9" width="5.3" height="5.3" fill="#629bce"/>
<rect x="387.45" y="278.23" width="5.3" height="5.3" fill="#629bce"/>
<rect x="399.55" y="278.23" width="5.3" height="5.3" fill="#629bce"/>
<rect x="411.65" y="278.23" width="5.3" height="5.3" fill="#629bce"/>
<rect x="423.55" y="278.03" width="5.7" height="5.7" fill="#8bbde0"/>
<rect x="435.65" y="278.03" width="5.7" height="5.7" fill="#8bbde0"/>
<rect x="447.95" y="278.23" width="5.3" height="5.3" fill="#629bce"/>
<rect x="460.05" y="278.23" width="5.3" height="5.3" fill="#629bce"/>
<rect x="472.15" y="278.23" width="5.3" height="5.3" fill="#629bce"/>
<rect x="484.25" y="278.23" width="5.3" height="5.3" fill="#629bce"/>
<rect x="496.35" y="278.23" width="5.3" height="5.3" fill="#629bce"/>
<rect x="508.45" y="278.23" width="5.3" height="5.3" fill="#629bce"/>
<rect x="520.55" y="278.23" width="5.3" height="5.3" fill="#629bce"/>
<rect x="532.65" y="278.23" width="5.3" height="5.3" fill="#629bce"/>
<rect x="544.75" y="278.23" width="5.3" height="5.3" fill="#629bce"/>
<rect x="556.85" y="278.23" width="5.3" height="5.3" fill="#629bce"/>
<rect x="568.95" y="278.23" width="5.3" height="5.3" fill="#629bce"/>
<rect x="581.05" y="278.23" width="5.3" height="5.3" fill="#629bce"/>
<rect x="593.15" y="278.23" width="5.3" height="5.3" fill="#629bce"/>
<rect x="605.25" y="278.23" width="5.3" height="5.3" fill="#629bce"/>
<rect x="387.45" y="285.56" width="5.3" height="5.3" fill="#629bce"/>
<rect x="399.35" y="285.36" width="5.7" height="5.7" fill="#8bbde0"/>
<rect x="411.65" y="285.56" width="5.3" height="5.3" fill="#629bce"/>
<rect x="423.55" y="285.36" width="5.7" height="5.7" fill="#8bbde0"/>
<rect x="435.65" y="285.36" width="5.7" height="5.7" fill="#8bbde0"/>
<rect x="447.95" y="285.56" width="5.3" height="5.3" fill="#629bce"/>
<rect x="460.05" y="285.56" width="5.3" height="5.3" fill="#629bce"/>
<rect x="472.15" y="285.56" width="5.3" height="5.3" fill="#629bce"/>
<rect x="484.25" y="285.56" width="5.3" height="5.3" fill="#629bce"/>
<rect x="496.35" y="285.56" width="5.3" height="5.3" fill="#629bce"/>
<rect x="508.45" y="285.56" width="5.3" height="5.3" fill="#629bce"/>
<rect x="520.55" y="285.56" width="5.3" height="5.3" fill="#629bce"/>
<rect x="532.65" y="285.56" width="5.3" height="5.3" fill="#629bce"/>
<rect x="544.75" y="285.56" width="5.3" height="5.3" fill="#629bce"/>
<rect x="556.85" y="285.56" width="5.3" height="5.3" fill="#629bce"/>
<rect x="568.95" y="285.56" width="5.3" height="5.3" fill="#629bce"/>
<rect x="581.05" y="285.56" width="5.3" height="5.3" fill="#629bce"/>
<rect x="593.15" y="285.56" width="5.3" height="5.3" fill="#629bce"/>
<rect x="605.25" y="285.56" width="5.3" height="5.3" fill="#629bce"/>
<rect x="388.3" y="293.74" width="3.6" height="3.6" fill="#3a74b2"/>
<rect x="401.7" y="295.04" width="1" height="1" fill="#8aa6c0"/>
<rect x="413.8" y="295.04" width="1" height="1" fill="#8aa6c0"/>
<rect x="425.9" y="295.04" width="1" height="1" fill="#8aa6c0"/>
<rect x="438" y="295.04" width="1" height="1" fill="#8aa6c0"/>
<rect x="450.1" y="295.04" width="1" height="1" fill="#8aa6c0"/>
<rect x="462.2" y="295.04" width="1" height="1" fill="#8aa6c0"/>
<rect x="474.3" y="295.04" width="1" height="1" fill="#8aa6c0"/>
<rect x="486.4" y="295.04" width="1" height="1" fill="#8aa6c0"/>
<rect x="498.5" y="295.04" width="1" height="1" fill="#8aa6c0"/>
<rect x="510.6" y="295.04" width="1" height="1" fill="#8aa6c0"/>
<rect x="522.7" y="295.04" width="1" height="1" fill="#8aa6c0"/>
<rect x="534.8" y="295.04" width="1" height="1" fill="#8aa6c0"/>
<rect x="546.9" y="295.04" width="1" height="1" fill="#8aa6c0"/>
<rect x="559" y="295.04" width="1" height="1" fill="#8aa6c0"/>
<rect x="571.1" y="295.04" width="1" height="1" fill="#8aa6c0"/>
<rect x="583.2" y="295.04" width="1" height="1" fill="#8aa6c0"/>
<rect x="595.3" y="295.04" width="1" height="1" fill="#8aa6c0"/>
<rect x="607.4" y="295.04" width="1" height="1" fill="#8aa6c0"/>
<rect x="388.3" y="301.07" width="3.6" height="3.6" fill="#3a74b2"/>
<rect x="400.4" y="301.07" width="3.6" height="3.6" fill="#3a74b2"/>
<rect x="412.5" y="301.07" width="3.6" height="3.6" fill="#3a74b2"/>
<rect x="424.6" y="301.07" width="3.6" height="3.6" fill="#3a74b2"/>
<circle cx="426.4" cy="302.87" r="0.9" fill="#111"/>
<rect x="436.7" y="301.07" width="3.6" height="3.6" fill="#3a74b2"/>
<circle cx="438.5" cy="302.87" r="0.9" fill="#111"/>
<rect x="448.8" y="301.07" width="3.6" height="3.6" fill="#3a74b2"/>
<rect x="460.9" y="301.07" width="3.6" height="3.6" fill="#3a74b2"/>
<rect x="473" y="301.07" width="3.6" height="3.6" fill="#3a74b2"/>
<rect x="485.1" y="301.07" width="3.6" height="3.6" fill="#3a74b2"/>
<rect x="498.5" y="302.37" width="1" height="1" fill="#8aa6c0"/>
<rect x="509.3" y="301.07" width="3.6" height="3.6" fill="#3a74b2"/>
<rect x="521.4" y="301.07" width="3.6" height="3.6" fill="#3a74b2"/>
<rect x="533.5" y="301.07" width="3.6" height="3.6" fill="#3a74b2"/>
<rect x="545.6" y="301.07" width="3.6" height="3.6" fill="#3a74b2"/>
<rect x="557.7" y="301.07" width="3.6" height="3.6" fill="#3a74b2"/>
<rect x="568.95" y="300.22" width="5.3" height="5.3" fill="#629bce"/>
<rect x="581.9" y="301.07" width="3.6" height="3.6" fill="#3a74b2"/>
<rect x="594" y="301.07" width="3.6" height="3.6" fill="#3a74b2"/>
<rect x="606.1" y="301.07" width="3.6" height="3.6" fill="#3a74b2"/>
<rect x="387.25" y="307.35" width="5.7" height="5.7" fill="#8bbde0"/>
<rect x="401.7" y="309.7" width="1" height="1" fill="#8aa6c0"/>
<rect x="413.8" y="309.7" width="1" height="1" fill="#8aa6c0"/>
<rect x="425.9" y="309.7" width="1" height="1" fill="#8aa6c0"/>
<rect x="438" y="309.7" width="1" height="1" fill="#8aa6c0"/>
<rect x="450.1" y="309.7" width="1" height="1" fill="#8aa6c0"/>
<rect x="462.2" y="309.7" width="1" height="1" fill="#8aa6c0"/>
<rect x="474.3" y="309.7" width="1" height="1" fill="#8aa6c0"/>
<rect x="486.4" y="309.7" width="1" height="1" fill="#8aa6c0"/>
<rect x="498.5" y="309.7" width="1" height="1" fill="#8aa6c0"/>
<rect x="510.6" y="309.7" width="1" height="1" fill="#8aa6c0"/>
<rect x="522.7" y="309.7" width="1" height="1" fill="#8aa6c0"/>
<rect x="534.8" y="309.7" width="1" height="1" fill="#8aa6c0"/>
<rect x="546.9" y="309.7" width="1" height="1" fill="#8aa6c0"/>
<rect x="559" y="309.7" width="1" height="1" fill="#8aa6c0"/>
<rect x="571.1" y="309.7" width="1" height="1" fill="#8aa6c0"/>
<rect x="583.2" y="309.7" width="1" height="1" fill="#8aa6c0"/>
<rect x="595.3" y="309.7" width="1" height="1" fill="#8aa6c0"/>
<rect x="607.4" y="309.7" width="1" height="1" fill="#8aa6c0"/>
<text x="621.4" y="145.8" font-size="4.4" fill="#2a2a2a" text-anchor="start" >Accuracy</text>
<rect x="622.7" y="150.6" width="2.4" height="2.4" fill="#d8d8d8" stroke="#bbb" stroke-width="0.4"/>
<text x="638.8" y="153.3" font-size="4.3" fill="#2a2a2a" text-anchor="end" >4.04</text>
<rect x="622.4" y="156.8" width="3" height="3" fill="#d8d8d8" stroke="#bbb" stroke-width="0.4"/>
<text x="638.8" y="159.8" font-size="4.3" fill="#2a2a2a" text-anchor="end" >6.00</text>
<rect x="622.1" y="163" width="3.6" height="3.6" fill="#d8d8d8" stroke="#bbb" stroke-width="0.4"/>
<text x="638.8" y="166.3" font-size="4.3" fill="#2a2a2a" text-anchor="end" >8.00</text>
<rect x="621.75" y="169.25" width="4.3" height="4.3" fill="#d8d8d8" stroke="#bbb" stroke-width="0.4"/>
<text x="638.8" y="172.9" font-size="4.3" fill="#2a2a2a" text-anchor="end" >10.00</text>
<rect x="621.4" y="175.2" width="5" height="5" fill="#d8d8d8" stroke="#bbb" stroke-width="0.4"/>
<text x="638.8" y="179.2" font-size="4.3" fill="#2a2a2a" text-anchor="end" >12.00</text>
<rect x="621.05" y="181.25" width="5.7" height="5.7" fill="#d8d8d8" stroke="#bbb" stroke-width="0.4"/>
<text x="638.8" y="185.6" font-size="4.3" fill="#2a2a2a" text-anchor="end" >14.00</text>
<rect x="620.7" y="187.4" width="6.4" height="6.4" fill="#d8d8d8" stroke="#bbb" stroke-width="0.4"/>
<text x="638.8" y="192.1" font-size="4.3" fill="#2a2a2a" text-anchor="end" >15.72</text>
<text x="619.8" y="202.9" font-size="4.4" fill="#2a2a2a" text-anchor="start" >Accuracy</text>
<rect x="621.1" y="204.5" width="42.1" height="4.7" fill="url(#gc)"/>
<text x="621.1" y="214.2" font-size="4.3" fill="#2a2a2a" text-anchor="start" >4.04</text>
<text x="663.2" y="214.2" font-size="4.3" fill="#2a2a2a" text-anchor="end" >15.72</text>
</svg>
</body></html>
